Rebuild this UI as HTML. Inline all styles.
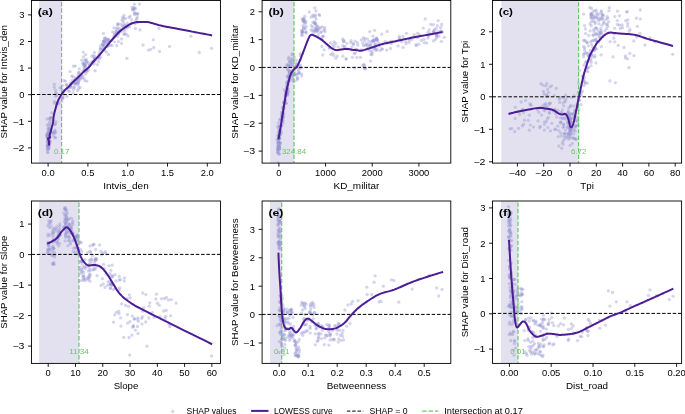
<!DOCTYPE html>
<html><head><meta charset="utf-8"><style>
html,body{margin:0;padding:0;background:#fff;}
svg{display:block;font-family:"Liberation Sans", sans-serif;will-change:transform;}
</style></head><body>
<svg width="685" height="414" viewBox="0 0 685 414">
<rect width="685" height="414" fill="#fff"/>
<clipPath id="ca"><rect x="31.5" y="0.5" width="189.0" height="162.6"/></clipPath>
<g clip-path="url(#ca)">
<rect x="39.1" y="0.5" width="22.5" height="162.6" fill="#e3e0ef"/>
<circle cx="48.2" cy="143.1" r="1.65" fill="#9696d2" fill-opacity="0.4"/>
<circle cx="48.2" cy="136.5" r="1.65" fill="#9696d2" fill-opacity="0.4"/>
<circle cx="47.7" cy="137.3" r="1.65" fill="#9696d2" fill-opacity="0.4"/>
<circle cx="49.2" cy="142.4" r="1.65" fill="#9696d2" fill-opacity="0.4"/>
<circle cx="49.1" cy="141.0" r="1.65" fill="#9696d2" fill-opacity="0.4"/>
<circle cx="48.7" cy="140.5" r="1.65" fill="#9696d2" fill-opacity="0.4"/>
<circle cx="47.2" cy="145.8" r="1.65" fill="#9696d2" fill-opacity="0.4"/>
<circle cx="48.8" cy="143.0" r="1.65" fill="#9696d2" fill-opacity="0.4"/>
<circle cx="47.2" cy="125.0" r="1.65" fill="#9696d2" fill-opacity="0.4"/>
<circle cx="47.8" cy="135.3" r="1.65" fill="#9696d2" fill-opacity="0.4"/>
<circle cx="48.6" cy="138.6" r="1.65" fill="#9696d2" fill-opacity="0.4"/>
<circle cx="48.8" cy="133.9" r="1.65" fill="#9696d2" fill-opacity="0.4"/>
<circle cx="48.6" cy="142.2" r="1.65" fill="#9696d2" fill-opacity="0.4"/>
<circle cx="47.9" cy="152.7" r="1.65" fill="#9696d2" fill-opacity="0.4"/>
<circle cx="48.8" cy="148.6" r="1.65" fill="#9696d2" fill-opacity="0.4"/>
<circle cx="48.0" cy="133.1" r="1.65" fill="#9696d2" fill-opacity="0.4"/>
<circle cx="48.2" cy="138.1" r="1.65" fill="#9696d2" fill-opacity="0.4"/>
<circle cx="48.8" cy="141.0" r="1.65" fill="#9696d2" fill-opacity="0.4"/>
<circle cx="48.1" cy="131.3" r="1.65" fill="#9696d2" fill-opacity="0.4"/>
<circle cx="48.0" cy="148.8" r="1.65" fill="#9696d2" fill-opacity="0.4"/>
<circle cx="47.8" cy="141.0" r="1.65" fill="#9696d2" fill-opacity="0.4"/>
<circle cx="48.7" cy="127.1" r="1.65" fill="#9696d2" fill-opacity="0.4"/>
<circle cx="48.4" cy="149.4" r="1.65" fill="#9696d2" fill-opacity="0.4"/>
<circle cx="47.0" cy="136.4" r="1.65" fill="#9696d2" fill-opacity="0.4"/>
<circle cx="48.3" cy="132.5" r="1.65" fill="#9696d2" fill-opacity="0.4"/>
<circle cx="48.7" cy="138.5" r="1.65" fill="#9696d2" fill-opacity="0.4"/>
<circle cx="47.4" cy="145.6" r="1.65" fill="#9696d2" fill-opacity="0.4"/>
<circle cx="48.9" cy="146.6" r="1.65" fill="#9696d2" fill-opacity="0.4"/>
<circle cx="49.4" cy="141.9" r="1.65" fill="#9696d2" fill-opacity="0.4"/>
<circle cx="48.5" cy="128.6" r="1.65" fill="#9696d2" fill-opacity="0.4"/>
<circle cx="48.8" cy="134.1" r="1.65" fill="#9696d2" fill-opacity="0.4"/>
<circle cx="48.1" cy="128.9" r="1.65" fill="#9696d2" fill-opacity="0.4"/>
<circle cx="47.7" cy="134.8" r="1.65" fill="#9696d2" fill-opacity="0.4"/>
<circle cx="49.3" cy="122.7" r="1.65" fill="#9696d2" fill-opacity="0.4"/>
<circle cx="47.4" cy="140.9" r="1.65" fill="#9696d2" fill-opacity="0.4"/>
<circle cx="49.4" cy="143.6" r="1.65" fill="#9696d2" fill-opacity="0.4"/>
<circle cx="47.1" cy="118.9" r="1.65" fill="#9696d2" fill-opacity="0.4"/>
<circle cx="48.7" cy="133.1" r="1.65" fill="#9696d2" fill-opacity="0.4"/>
<circle cx="47.6" cy="146.8" r="1.65" fill="#9696d2" fill-opacity="0.4"/>
<circle cx="49.2" cy="140.3" r="1.65" fill="#9696d2" fill-opacity="0.4"/>
<circle cx="48.6" cy="142.5" r="1.65" fill="#9696d2" fill-opacity="0.4"/>
<circle cx="49.5" cy="144.0" r="1.65" fill="#9696d2" fill-opacity="0.4"/>
<circle cx="48.8" cy="143.4" r="1.65" fill="#9696d2" fill-opacity="0.4"/>
<circle cx="47.3" cy="149.3" r="1.65" fill="#9696d2" fill-opacity="0.4"/>
<circle cx="49.1" cy="143.2" r="1.65" fill="#9696d2" fill-opacity="0.4"/>
<circle cx="47.0" cy="133.9" r="1.65" fill="#9696d2" fill-opacity="0.4"/>
<circle cx="49.0" cy="124.5" r="1.65" fill="#9696d2" fill-opacity="0.4"/>
<circle cx="48.3" cy="147.2" r="1.65" fill="#9696d2" fill-opacity="0.4"/>
<circle cx="47.5" cy="151.9" r="1.65" fill="#9696d2" fill-opacity="0.4"/>
<circle cx="48.8" cy="137.8" r="1.65" fill="#9696d2" fill-opacity="0.4"/>
<circle cx="48.6" cy="144.2" r="1.65" fill="#9696d2" fill-opacity="0.4"/>
<circle cx="48.5" cy="148.2" r="1.65" fill="#9696d2" fill-opacity="0.4"/>
<circle cx="47.9" cy="135.7" r="1.65" fill="#9696d2" fill-opacity="0.4"/>
<circle cx="49.1" cy="139.2" r="1.65" fill="#9696d2" fill-opacity="0.4"/>
<circle cx="47.8" cy="146.6" r="1.65" fill="#9696d2" fill-opacity="0.4"/>
<circle cx="49.4" cy="135.4" r="1.65" fill="#9696d2" fill-opacity="0.4"/>
<circle cx="47.4" cy="137.9" r="1.65" fill="#9696d2" fill-opacity="0.4"/>
<circle cx="48.3" cy="136.6" r="1.65" fill="#9696d2" fill-opacity="0.4"/>
<circle cx="49.4" cy="130.8" r="1.65" fill="#9696d2" fill-opacity="0.4"/>
<circle cx="49.3" cy="128.9" r="1.65" fill="#9696d2" fill-opacity="0.4"/>
<circle cx="47.8" cy="144.1" r="1.65" fill="#9696d2" fill-opacity="0.4"/>
<circle cx="49.2" cy="145.9" r="1.65" fill="#9696d2" fill-opacity="0.4"/>
<circle cx="48.6" cy="140.1" r="1.65" fill="#9696d2" fill-opacity="0.4"/>
<circle cx="48.5" cy="143.6" r="1.65" fill="#9696d2" fill-opacity="0.4"/>
<circle cx="48.3" cy="141.2" r="1.65" fill="#9696d2" fill-opacity="0.4"/>
<circle cx="48.8" cy="139.0" r="1.65" fill="#9696d2" fill-opacity="0.4"/>
<circle cx="48.9" cy="143.5" r="1.65" fill="#9696d2" fill-opacity="0.4"/>
<circle cx="49.8" cy="141.6" r="1.65" fill="#9696d2" fill-opacity="0.4"/>
<circle cx="48.1" cy="136.0" r="1.65" fill="#9696d2" fill-opacity="0.4"/>
<circle cx="48.4" cy="146.4" r="1.65" fill="#9696d2" fill-opacity="0.4"/>
<circle cx="48.2" cy="142.1" r="1.65" fill="#9696d2" fill-opacity="0.4"/>
<circle cx="49.7" cy="118.5" r="1.65" fill="#9696d2" fill-opacity="0.4"/>
<circle cx="47.6" cy="141.0" r="1.65" fill="#9696d2" fill-opacity="0.4"/>
<circle cx="48.7" cy="140.9" r="1.65" fill="#9696d2" fill-opacity="0.4"/>
<circle cx="48.1" cy="144.2" r="1.65" fill="#9696d2" fill-opacity="0.4"/>
<circle cx="48.6" cy="134.8" r="1.65" fill="#9696d2" fill-opacity="0.4"/>
<circle cx="50.1" cy="141.8" r="1.65" fill="#9696d2" fill-opacity="0.4"/>
<circle cx="48.0" cy="138.2" r="1.65" fill="#9696d2" fill-opacity="0.4"/>
<circle cx="48.2" cy="138.5" r="1.65" fill="#9696d2" fill-opacity="0.4"/>
<circle cx="46.5" cy="135.1" r="1.65" fill="#9696d2" fill-opacity="0.4"/>
<circle cx="55.1" cy="130.1" r="1.65" fill="#9696d2" fill-opacity="0.4"/>
<circle cx="51.0" cy="121.5" r="1.65" fill="#9696d2" fill-opacity="0.4"/>
<circle cx="50.4" cy="132.1" r="1.65" fill="#9696d2" fill-opacity="0.4"/>
<circle cx="52.9" cy="132.3" r="1.65" fill="#9696d2" fill-opacity="0.4"/>
<circle cx="51.5" cy="117.8" r="1.65" fill="#9696d2" fill-opacity="0.4"/>
<circle cx="54.7" cy="137.6" r="1.65" fill="#9696d2" fill-opacity="0.4"/>
<circle cx="55.0" cy="133.0" r="1.65" fill="#9696d2" fill-opacity="0.4"/>
<circle cx="54.8" cy="131.2" r="1.65" fill="#9696d2" fill-opacity="0.4"/>
<circle cx="50.8" cy="125.5" r="1.65" fill="#9696d2" fill-opacity="0.4"/>
<circle cx="51.7" cy="112.8" r="1.65" fill="#9696d2" fill-opacity="0.4"/>
<circle cx="49.5" cy="119.3" r="1.65" fill="#9696d2" fill-opacity="0.4"/>
<circle cx="51.0" cy="130.0" r="1.65" fill="#9696d2" fill-opacity="0.4"/>
<circle cx="55.7" cy="123.6" r="1.65" fill="#9696d2" fill-opacity="0.4"/>
<circle cx="55.6" cy="137.7" r="1.65" fill="#9696d2" fill-opacity="0.4"/>
<circle cx="55.7" cy="121.5" r="1.65" fill="#9696d2" fill-opacity="0.4"/>
<circle cx="50.8" cy="117.9" r="1.65" fill="#9696d2" fill-opacity="0.4"/>
<circle cx="50.6" cy="117.3" r="1.65" fill="#9696d2" fill-opacity="0.4"/>
<circle cx="53.5" cy="135.4" r="1.65" fill="#9696d2" fill-opacity="0.4"/>
<circle cx="54.9" cy="124.5" r="1.65" fill="#9696d2" fill-opacity="0.4"/>
<circle cx="53.7" cy="132.8" r="1.65" fill="#9696d2" fill-opacity="0.4"/>
<circle cx="49.9" cy="129.2" r="1.65" fill="#9696d2" fill-opacity="0.4"/>
<circle cx="55.4" cy="132.3" r="1.65" fill="#9696d2" fill-opacity="0.4"/>
<circle cx="54.3" cy="124.4" r="1.65" fill="#9696d2" fill-opacity="0.4"/>
<circle cx="50.5" cy="132.5" r="1.65" fill="#9696d2" fill-opacity="0.4"/>
<circle cx="51.5" cy="132.8" r="1.65" fill="#9696d2" fill-opacity="0.4"/>
<circle cx="62.7" cy="92.3" r="1.65" fill="#9696d2" fill-opacity="0.4"/>
<circle cx="57.0" cy="103.9" r="1.65" fill="#9696d2" fill-opacity="0.4"/>
<circle cx="60.2" cy="87.6" r="1.65" fill="#9696d2" fill-opacity="0.4"/>
<circle cx="54.3" cy="87.2" r="1.65" fill="#9696d2" fill-opacity="0.4"/>
<circle cx="62.0" cy="100.9" r="1.65" fill="#9696d2" fill-opacity="0.4"/>
<circle cx="54.5" cy="101.4" r="1.65" fill="#9696d2" fill-opacity="0.4"/>
<circle cx="62.8" cy="97.8" r="1.65" fill="#9696d2" fill-opacity="0.4"/>
<circle cx="56.5" cy="95.5" r="1.65" fill="#9696d2" fill-opacity="0.4"/>
<circle cx="54.3" cy="84.3" r="1.65" fill="#9696d2" fill-opacity="0.4"/>
<circle cx="62.7" cy="97.6" r="1.65" fill="#9696d2" fill-opacity="0.4"/>
<circle cx="58.3" cy="103.6" r="1.65" fill="#9696d2" fill-opacity="0.4"/>
<circle cx="57.3" cy="102.3" r="1.65" fill="#9696d2" fill-opacity="0.4"/>
<circle cx="61.3" cy="88.4" r="1.65" fill="#9696d2" fill-opacity="0.4"/>
<circle cx="55.5" cy="90.2" r="1.65" fill="#9696d2" fill-opacity="0.4"/>
<circle cx="55.4" cy="96.3" r="1.65" fill="#9696d2" fill-opacity="0.4"/>
<circle cx="55.6" cy="92.8" r="1.65" fill="#9696d2" fill-opacity="0.4"/>
<circle cx="54.3" cy="103.1" r="1.65" fill="#9696d2" fill-opacity="0.4"/>
<circle cx="56.5" cy="93.6" r="1.65" fill="#9696d2" fill-opacity="0.4"/>
<circle cx="58.8" cy="103.0" r="1.65" fill="#9696d2" fill-opacity="0.4"/>
<circle cx="57.2" cy="103.3" r="1.65" fill="#9696d2" fill-opacity="0.4"/>
<circle cx="94.4" cy="58.5" r="1.65" fill="#9696d2" fill-opacity="0.4"/>
<circle cx="62.9" cy="93.3" r="1.65" fill="#9696d2" fill-opacity="0.4"/>
<circle cx="62.4" cy="90.6" r="1.65" fill="#9696d2" fill-opacity="0.4"/>
<circle cx="93.1" cy="55.4" r="1.65" fill="#9696d2" fill-opacity="0.4"/>
<circle cx="82.8" cy="71.2" r="1.65" fill="#9696d2" fill-opacity="0.4"/>
<circle cx="114.4" cy="41.8" r="1.65" fill="#9696d2" fill-opacity="0.4"/>
<circle cx="78.2" cy="85.5" r="1.65" fill="#9696d2" fill-opacity="0.4"/>
<circle cx="94.6" cy="56.1" r="1.65" fill="#9696d2" fill-opacity="0.4"/>
<circle cx="121.4" cy="31.8" r="1.65" fill="#9696d2" fill-opacity="0.4"/>
<circle cx="94.4" cy="58.9" r="1.65" fill="#9696d2" fill-opacity="0.4"/>
<circle cx="91.2" cy="62.3" r="1.65" fill="#9696d2" fill-opacity="0.4"/>
<circle cx="123.8" cy="18.3" r="1.65" fill="#9696d2" fill-opacity="0.4"/>
<circle cx="124.1" cy="34.4" r="1.65" fill="#9696d2" fill-opacity="0.4"/>
<circle cx="124.4" cy="25.6" r="1.65" fill="#9696d2" fill-opacity="0.4"/>
<circle cx="69.8" cy="86.0" r="1.65" fill="#9696d2" fill-opacity="0.4"/>
<circle cx="78.7" cy="80.8" r="1.65" fill="#9696d2" fill-opacity="0.4"/>
<circle cx="114.0" cy="36.2" r="1.65" fill="#9696d2" fill-opacity="0.4"/>
<circle cx="109.1" cy="40.7" r="1.65" fill="#9696d2" fill-opacity="0.4"/>
<circle cx="120.7" cy="30.2" r="1.65" fill="#9696d2" fill-opacity="0.4"/>
<circle cx="124.3" cy="31.0" r="1.65" fill="#9696d2" fill-opacity="0.4"/>
<circle cx="127.5" cy="23.3" r="1.65" fill="#9696d2" fill-opacity="0.4"/>
<circle cx="89.9" cy="65.0" r="1.65" fill="#9696d2" fill-opacity="0.4"/>
<circle cx="74.5" cy="87.5" r="1.65" fill="#9696d2" fill-opacity="0.4"/>
<circle cx="62.7" cy="90.3" r="1.65" fill="#9696d2" fill-opacity="0.4"/>
<circle cx="62.8" cy="98.3" r="1.65" fill="#9696d2" fill-opacity="0.4"/>
<circle cx="97.4" cy="64.7" r="1.65" fill="#9696d2" fill-opacity="0.4"/>
<circle cx="114.3" cy="37.2" r="1.65" fill="#9696d2" fill-opacity="0.4"/>
<circle cx="80.5" cy="78.0" r="1.65" fill="#9696d2" fill-opacity="0.4"/>
<circle cx="80.3" cy="79.4" r="1.65" fill="#9696d2" fill-opacity="0.4"/>
<circle cx="122.3" cy="25.9" r="1.65" fill="#9696d2" fill-opacity="0.4"/>
<circle cx="72.5" cy="80.1" r="1.65" fill="#9696d2" fill-opacity="0.4"/>
<circle cx="108.4" cy="45.2" r="1.65" fill="#9696d2" fill-opacity="0.4"/>
<circle cx="107.2" cy="46.2" r="1.65" fill="#9696d2" fill-opacity="0.4"/>
<circle cx="123.2" cy="21.4" r="1.65" fill="#9696d2" fill-opacity="0.4"/>
<circle cx="67.7" cy="86.3" r="1.65" fill="#9696d2" fill-opacity="0.4"/>
<circle cx="118.4" cy="33.4" r="1.65" fill="#9696d2" fill-opacity="0.4"/>
<circle cx="98.9" cy="54.4" r="1.65" fill="#9696d2" fill-opacity="0.4"/>
<circle cx="70.1" cy="84.1" r="1.65" fill="#9696d2" fill-opacity="0.4"/>
<circle cx="69.3" cy="87.5" r="1.65" fill="#9696d2" fill-opacity="0.4"/>
<circle cx="75.1" cy="83.8" r="1.65" fill="#9696d2" fill-opacity="0.4"/>
<circle cx="112.0" cy="45.4" r="1.65" fill="#9696d2" fill-opacity="0.4"/>
<circle cx="73.7" cy="82.1" r="1.65" fill="#9696d2" fill-opacity="0.4"/>
<circle cx="79.5" cy="77.7" r="1.65" fill="#9696d2" fill-opacity="0.4"/>
<circle cx="98.6" cy="61.5" r="1.65" fill="#9696d2" fill-opacity="0.4"/>
<circle cx="124.6" cy="34.0" r="1.65" fill="#9696d2" fill-opacity="0.4"/>
<circle cx="89.4" cy="65.6" r="1.65" fill="#9696d2" fill-opacity="0.4"/>
<circle cx="87.0" cy="67.8" r="1.65" fill="#9696d2" fill-opacity="0.4"/>
<circle cx="126.2" cy="34.1" r="1.65" fill="#9696d2" fill-opacity="0.4"/>
<circle cx="108.2" cy="40.0" r="1.65" fill="#9696d2" fill-opacity="0.4"/>
<circle cx="85.2" cy="71.5" r="1.65" fill="#9696d2" fill-opacity="0.4"/>
<circle cx="66.6" cy="84.6" r="1.65" fill="#9696d2" fill-opacity="0.4"/>
<circle cx="73.8" cy="87.1" r="1.65" fill="#9696d2" fill-opacity="0.4"/>
<circle cx="119.2" cy="28.1" r="1.65" fill="#9696d2" fill-opacity="0.4"/>
<circle cx="77.8" cy="82.8" r="1.65" fill="#9696d2" fill-opacity="0.4"/>
<circle cx="72.0" cy="83.9" r="1.65" fill="#9696d2" fill-opacity="0.4"/>
<circle cx="126.2" cy="26.0" r="1.65" fill="#9696d2" fill-opacity="0.4"/>
<circle cx="78.6" cy="76.4" r="1.65" fill="#9696d2" fill-opacity="0.4"/>
<circle cx="86.1" cy="70.2" r="1.65" fill="#9696d2" fill-opacity="0.4"/>
<circle cx="92.9" cy="61.6" r="1.65" fill="#9696d2" fill-opacity="0.4"/>
<circle cx="95.8" cy="59.7" r="1.65" fill="#9696d2" fill-opacity="0.4"/>
<circle cx="67.8" cy="88.3" r="1.65" fill="#9696d2" fill-opacity="0.4"/>
<circle cx="63.3" cy="95.3" r="1.65" fill="#9696d2" fill-opacity="0.4"/>
<circle cx="99.7" cy="52.1" r="1.65" fill="#9696d2" fill-opacity="0.4"/>
<circle cx="105.1" cy="37.8" r="1.65" fill="#9696d2" fill-opacity="0.4"/>
<circle cx="86.9" cy="81.1" r="1.65" fill="#9696d2" fill-opacity="0.4"/>
<circle cx="71.7" cy="76.1" r="1.65" fill="#9696d2" fill-opacity="0.4"/>
<circle cx="65.5" cy="81.1" r="1.65" fill="#9696d2" fill-opacity="0.4"/>
<circle cx="103.3" cy="41.1" r="1.65" fill="#9696d2" fill-opacity="0.4"/>
<circle cx="70.5" cy="83.1" r="1.65" fill="#9696d2" fill-opacity="0.4"/>
<circle cx="117.5" cy="25.3" r="1.65" fill="#9696d2" fill-opacity="0.4"/>
<circle cx="101.3" cy="49.0" r="1.65" fill="#9696d2" fill-opacity="0.4"/>
<circle cx="107.8" cy="46.1" r="1.65" fill="#9696d2" fill-opacity="0.4"/>
<circle cx="70.6" cy="86.2" r="1.65" fill="#9696d2" fill-opacity="0.4"/>
<circle cx="116.4" cy="31.5" r="1.65" fill="#9696d2" fill-opacity="0.4"/>
<circle cx="103.0" cy="45.1" r="1.65" fill="#9696d2" fill-opacity="0.4"/>
<circle cx="62.5" cy="85.6" r="1.65" fill="#9696d2" fill-opacity="0.4"/>
<circle cx="94.3" cy="58.1" r="1.65" fill="#9696d2" fill-opacity="0.4"/>
<circle cx="66.3" cy="84.9" r="1.65" fill="#9696d2" fill-opacity="0.4"/>
<circle cx="66.8" cy="96.3" r="1.65" fill="#9696d2" fill-opacity="0.4"/>
<circle cx="75.4" cy="66.1" r="1.65" fill="#9696d2" fill-opacity="0.4"/>
<circle cx="94.1" cy="64.1" r="1.65" fill="#9696d2" fill-opacity="0.4"/>
<circle cx="107.2" cy="38.8" r="1.65" fill="#9696d2" fill-opacity="0.4"/>
<circle cx="104.7" cy="50.3" r="1.65" fill="#9696d2" fill-opacity="0.4"/>
<circle cx="78.7" cy="72.4" r="1.65" fill="#9696d2" fill-opacity="0.4"/>
<circle cx="99.7" cy="55.1" r="1.65" fill="#9696d2" fill-opacity="0.4"/>
<circle cx="79.3" cy="68.9" r="1.65" fill="#9696d2" fill-opacity="0.4"/>
<circle cx="106.4" cy="52.2" r="1.65" fill="#9696d2" fill-opacity="0.4"/>
<circle cx="92.4" cy="62.9" r="1.65" fill="#9696d2" fill-opacity="0.4"/>
<circle cx="121.5" cy="43.4" r="1.65" fill="#9696d2" fill-opacity="0.4"/>
<circle cx="124.5" cy="28.9" r="1.65" fill="#9696d2" fill-opacity="0.4"/>
<circle cx="116.8" cy="34.1" r="1.65" fill="#9696d2" fill-opacity="0.4"/>
<circle cx="80.1" cy="87.4" r="1.65" fill="#9696d2" fill-opacity="0.4"/>
<circle cx="75.6" cy="78.0" r="1.65" fill="#9696d2" fill-opacity="0.4"/>
<circle cx="96.9" cy="57.5" r="1.65" fill="#9696d2" fill-opacity="0.4"/>
<circle cx="114.9" cy="34.6" r="1.65" fill="#9696d2" fill-opacity="0.4"/>
<circle cx="108.6" cy="54.7" r="1.65" fill="#9696d2" fill-opacity="0.4"/>
<circle cx="94.1" cy="60.9" r="1.65" fill="#9696d2" fill-opacity="0.4"/>
<circle cx="94.0" cy="61.7" r="1.65" fill="#9696d2" fill-opacity="0.4"/>
<circle cx="71.0" cy="87.5" r="1.65" fill="#9696d2" fill-opacity="0.4"/>
<circle cx="118.5" cy="33.8" r="1.65" fill="#9696d2" fill-opacity="0.4"/>
<circle cx="118.4" cy="41.6" r="1.65" fill="#9696d2" fill-opacity="0.4"/>
<circle cx="109.5" cy="40.9" r="1.65" fill="#9696d2" fill-opacity="0.4"/>
<circle cx="84.8" cy="80.7" r="1.65" fill="#9696d2" fill-opacity="0.4"/>
<circle cx="100.5" cy="57.3" r="1.65" fill="#9696d2" fill-opacity="0.4"/>
<circle cx="80.4" cy="75.9" r="1.65" fill="#9696d2" fill-opacity="0.4"/>
<circle cx="116.8" cy="45.6" r="1.65" fill="#9696d2" fill-opacity="0.4"/>
<circle cx="78.4" cy="82.9" r="1.65" fill="#9696d2" fill-opacity="0.4"/>
<circle cx="73.5" cy="89.5" r="1.65" fill="#9696d2" fill-opacity="0.4"/>
<circle cx="120.7" cy="24.3" r="1.65" fill="#9696d2" fill-opacity="0.4"/>
<circle cx="123.0" cy="27.0" r="1.65" fill="#9696d2" fill-opacity="0.4"/>
<circle cx="110.4" cy="45.3" r="1.65" fill="#9696d2" fill-opacity="0.4"/>
<circle cx="91.8" cy="56.4" r="1.65" fill="#9696d2" fill-opacity="0.4"/>
<circle cx="82.2" cy="77.9" r="1.65" fill="#9696d2" fill-opacity="0.4"/>
<circle cx="69.9" cy="85.7" r="1.65" fill="#9696d2" fill-opacity="0.4"/>
<circle cx="81.5" cy="60.1" r="1.65" fill="#9696d2" fill-opacity="0.4"/>
<circle cx="78.9" cy="72.7" r="1.65" fill="#9696d2" fill-opacity="0.4"/>
<circle cx="98.5" cy="57.7" r="1.65" fill="#9696d2" fill-opacity="0.4"/>
<circle cx="73.0" cy="92.8" r="1.65" fill="#9696d2" fill-opacity="0.4"/>
<circle cx="95.1" cy="70.7" r="1.65" fill="#9696d2" fill-opacity="0.4"/>
<circle cx="127.5" cy="26.5" r="1.65" fill="#9696d2" fill-opacity="0.4"/>
<circle cx="75.2" cy="82.9" r="1.65" fill="#9696d2" fill-opacity="0.4"/>
<circle cx="68.0" cy="91.2" r="1.65" fill="#9696d2" fill-opacity="0.4"/>
<circle cx="100.4" cy="49.4" r="1.65" fill="#9696d2" fill-opacity="0.4"/>
<circle cx="88.6" cy="70.0" r="1.65" fill="#9696d2" fill-opacity="0.4"/>
<circle cx="86.8" cy="70.5" r="1.65" fill="#9696d2" fill-opacity="0.4"/>
<circle cx="80.6" cy="74.5" r="1.65" fill="#9696d2" fill-opacity="0.4"/>
<circle cx="94.4" cy="52.4" r="1.65" fill="#9696d2" fill-opacity="0.4"/>
<circle cx="76.2" cy="82.8" r="1.65" fill="#9696d2" fill-opacity="0.4"/>
<circle cx="87.0" cy="71.8" r="1.65" fill="#9696d2" fill-opacity="0.4"/>
<circle cx="118.1" cy="32.4" r="1.65" fill="#9696d2" fill-opacity="0.4"/>
<circle cx="63.8" cy="80.7" r="1.65" fill="#9696d2" fill-opacity="0.4"/>
<circle cx="93.2" cy="61.7" r="1.65" fill="#9696d2" fill-opacity="0.4"/>
<circle cx="88.8" cy="64.0" r="1.65" fill="#9696d2" fill-opacity="0.4"/>
<circle cx="118.9" cy="32.0" r="1.65" fill="#9696d2" fill-opacity="0.4"/>
<circle cx="69.6" cy="91.2" r="1.65" fill="#9696d2" fill-opacity="0.4"/>
<circle cx="107.9" cy="42.9" r="1.65" fill="#9696d2" fill-opacity="0.4"/>
<circle cx="104.8" cy="43.1" r="1.65" fill="#9696d2" fill-opacity="0.4"/>
<circle cx="99.4" cy="58.4" r="1.65" fill="#9696d2" fill-opacity="0.4"/>
<circle cx="78.1" cy="74.6" r="1.65" fill="#9696d2" fill-opacity="0.4"/>
<circle cx="82.4" cy="76.1" r="1.65" fill="#9696d2" fill-opacity="0.4"/>
<circle cx="83.5" cy="57.0" r="1.65" fill="#9696d2" fill-opacity="0.4"/>
<circle cx="85.4" cy="65.5" r="1.65" fill="#9696d2" fill-opacity="0.4"/>
<circle cx="83.0" cy="62.8" r="1.65" fill="#9696d2" fill-opacity="0.4"/>
<circle cx="84.2" cy="66.8" r="1.65" fill="#9696d2" fill-opacity="0.4"/>
<circle cx="84.8" cy="63.5" r="1.65" fill="#9696d2" fill-opacity="0.4"/>
<circle cx="84.5" cy="70.3" r="1.65" fill="#9696d2" fill-opacity="0.4"/>
<circle cx="87.1" cy="61.8" r="1.65" fill="#9696d2" fill-opacity="0.4"/>
<circle cx="86.3" cy="59.5" r="1.65" fill="#9696d2" fill-opacity="0.4"/>
<circle cx="85.1" cy="68.5" r="1.65" fill="#9696d2" fill-opacity="0.4"/>
<circle cx="87.3" cy="61.7" r="1.65" fill="#9696d2" fill-opacity="0.4"/>
<circle cx="84.9" cy="65.2" r="1.65" fill="#9696d2" fill-opacity="0.4"/>
<circle cx="82.8" cy="64.1" r="1.65" fill="#9696d2" fill-opacity="0.4"/>
<circle cx="84.0" cy="66.2" r="1.65" fill="#9696d2" fill-opacity="0.4"/>
<circle cx="83.3" cy="52.1" r="1.65" fill="#9696d2" fill-opacity="0.4"/>
<circle cx="85.1" cy="65.6" r="1.65" fill="#9696d2" fill-opacity="0.4"/>
<circle cx="84.2" cy="69.3" r="1.65" fill="#9696d2" fill-opacity="0.4"/>
<circle cx="84.6" cy="60.4" r="1.65" fill="#9696d2" fill-opacity="0.4"/>
<circle cx="85.7" cy="54.6" r="1.65" fill="#9696d2" fill-opacity="0.4"/>
<circle cx="84.0" cy="63.9" r="1.65" fill="#9696d2" fill-opacity="0.4"/>
<circle cx="86.3" cy="63.0" r="1.65" fill="#9696d2" fill-opacity="0.4"/>
<circle cx="85.5" cy="60.1" r="1.65" fill="#9696d2" fill-opacity="0.4"/>
<circle cx="85.5" cy="74.0" r="1.65" fill="#9696d2" fill-opacity="0.4"/>
<circle cx="84.0" cy="78.2" r="1.65" fill="#9696d2" fill-opacity="0.4"/>
<circle cx="84.0" cy="64.1" r="1.65" fill="#9696d2" fill-opacity="0.4"/>
<circle cx="75.7" cy="84.1" r="1.65" fill="#9696d2" fill-opacity="0.4"/>
<circle cx="70.1" cy="71.6" r="1.65" fill="#9696d2" fill-opacity="0.4"/>
<circle cx="77.4" cy="83.2" r="1.65" fill="#9696d2" fill-opacity="0.4"/>
<circle cx="77.5" cy="90.5" r="1.65" fill="#9696d2" fill-opacity="0.4"/>
<circle cx="75.8" cy="81.0" r="1.65" fill="#9696d2" fill-opacity="0.4"/>
<circle cx="78.7" cy="81.5" r="1.65" fill="#9696d2" fill-opacity="0.4"/>
<circle cx="81.7" cy="75.0" r="1.65" fill="#9696d2" fill-opacity="0.4"/>
<circle cx="73.5" cy="66.2" r="1.65" fill="#9696d2" fill-opacity="0.4"/>
<circle cx="78.2" cy="78.5" r="1.65" fill="#9696d2" fill-opacity="0.4"/>
<circle cx="78.7" cy="88.6" r="1.65" fill="#9696d2" fill-opacity="0.4"/>
<circle cx="75.0" cy="79.0" r="1.65" fill="#9696d2" fill-opacity="0.4"/>
<circle cx="73.0" cy="76.6" r="1.65" fill="#9696d2" fill-opacity="0.4"/>
<circle cx="72.5" cy="82.6" r="1.65" fill="#9696d2" fill-opacity="0.4"/>
<circle cx="75.1" cy="80.3" r="1.65" fill="#9696d2" fill-opacity="0.4"/>
<circle cx="74.3" cy="83.7" r="1.65" fill="#9696d2" fill-opacity="0.4"/>
<circle cx="77.0" cy="79.4" r="1.65" fill="#9696d2" fill-opacity="0.4"/>
<circle cx="77.7" cy="79.4" r="1.65" fill="#9696d2" fill-opacity="0.4"/>
<circle cx="70.4" cy="85.8" r="1.65" fill="#9696d2" fill-opacity="0.4"/>
<circle cx="104.4" cy="38.2" r="1.65" fill="#9696d2" fill-opacity="0.4"/>
<circle cx="105.7" cy="43.4" r="1.65" fill="#9696d2" fill-opacity="0.4"/>
<circle cx="100.4" cy="48.4" r="1.65" fill="#9696d2" fill-opacity="0.4"/>
<circle cx="104.2" cy="45.6" r="1.65" fill="#9696d2" fill-opacity="0.4"/>
<circle cx="103.9" cy="41.4" r="1.65" fill="#9696d2" fill-opacity="0.4"/>
<circle cx="100.4" cy="45.9" r="1.65" fill="#9696d2" fill-opacity="0.4"/>
<circle cx="103.6" cy="40.9" r="1.65" fill="#9696d2" fill-opacity="0.4"/>
<circle cx="104.2" cy="42.3" r="1.65" fill="#9696d2" fill-opacity="0.4"/>
<circle cx="104.9" cy="40.5" r="1.65" fill="#9696d2" fill-opacity="0.4"/>
<circle cx="103.4" cy="33.4" r="1.65" fill="#9696d2" fill-opacity="0.4"/>
<circle cx="102.7" cy="44.7" r="1.65" fill="#9696d2" fill-opacity="0.4"/>
<circle cx="106.2" cy="40.5" r="1.65" fill="#9696d2" fill-opacity="0.4"/>
<circle cx="103.3" cy="48.3" r="1.65" fill="#9696d2" fill-opacity="0.4"/>
<circle cx="102.8" cy="44.9" r="1.65" fill="#9696d2" fill-opacity="0.4"/>
<circle cx="106.9" cy="42.2" r="1.65" fill="#9696d2" fill-opacity="0.4"/>
<circle cx="106.0" cy="39.2" r="1.65" fill="#9696d2" fill-opacity="0.4"/>
<circle cx="103.9" cy="41.7" r="1.65" fill="#9696d2" fill-opacity="0.4"/>
<circle cx="103.7" cy="46.5" r="1.65" fill="#9696d2" fill-opacity="0.4"/>
<circle cx="108.3" cy="39.3" r="1.65" fill="#9696d2" fill-opacity="0.4"/>
<circle cx="102.3" cy="44.0" r="1.65" fill="#9696d2" fill-opacity="0.4"/>
<circle cx="112.8" cy="32.0" r="1.65" fill="#9696d2" fill-opacity="0.4"/>
<circle cx="117.7" cy="28.9" r="1.65" fill="#9696d2" fill-opacity="0.4"/>
<circle cx="117.6" cy="23.8" r="1.65" fill="#9696d2" fill-opacity="0.4"/>
<circle cx="118.3" cy="23.8" r="1.65" fill="#9696d2" fill-opacity="0.4"/>
<circle cx="113.9" cy="27.8" r="1.65" fill="#9696d2" fill-opacity="0.4"/>
<circle cx="114.8" cy="33.4" r="1.65" fill="#9696d2" fill-opacity="0.4"/>
<circle cx="116.2" cy="28.4" r="1.65" fill="#9696d2" fill-opacity="0.4"/>
<circle cx="117.6" cy="36.3" r="1.65" fill="#9696d2" fill-opacity="0.4"/>
<circle cx="116.0" cy="31.5" r="1.65" fill="#9696d2" fill-opacity="0.4"/>
<circle cx="119.7" cy="31.1" r="1.65" fill="#9696d2" fill-opacity="0.4"/>
<circle cx="131.7" cy="19.7" r="1.65" fill="#9696d2" fill-opacity="0.4"/>
<circle cx="139.4" cy="4.1" r="1.65" fill="#9696d2" fill-opacity="0.4"/>
<circle cx="134.4" cy="12.5" r="1.65" fill="#9696d2" fill-opacity="0.4"/>
<circle cx="136.6" cy="13.3" r="1.65" fill="#9696d2" fill-opacity="0.4"/>
<circle cx="133.9" cy="7.3" r="1.65" fill="#9696d2" fill-opacity="0.4"/>
<circle cx="134.7" cy="14.6" r="1.65" fill="#9696d2" fill-opacity="0.4"/>
<circle cx="132.1" cy="7.4" r="1.65" fill="#9696d2" fill-opacity="0.4"/>
<circle cx="134.4" cy="4.2" r="1.65" fill="#9696d2" fill-opacity="0.4"/>
<circle cx="133.9" cy="9.5" r="1.65" fill="#9696d2" fill-opacity="0.4"/>
<circle cx="135.5" cy="8.5" r="1.65" fill="#9696d2" fill-opacity="0.4"/>
<circle cx="132.6" cy="9.6" r="1.65" fill="#9696d2" fill-opacity="0.4"/>
<circle cx="134.4" cy="8.7" r="1.65" fill="#9696d2" fill-opacity="0.4"/>
<circle cx="134.5" cy="13.6" r="1.65" fill="#9696d2" fill-opacity="0.4"/>
<circle cx="137.1" cy="17.0" r="1.65" fill="#9696d2" fill-opacity="0.4"/>
<circle cx="132.8" cy="9.5" r="1.65" fill="#9696d2" fill-opacity="0.4"/>
<circle cx="129.0" cy="17.6" r="1.65" fill="#9696d2" fill-opacity="0.4"/>
<circle cx="130.1" cy="16.2" r="1.65" fill="#9696d2" fill-opacity="0.4"/>
<circle cx="134.9" cy="23.8" r="1.65" fill="#9696d2" fill-opacity="0.4"/>
<circle cx="137.9" cy="13.8" r="1.65" fill="#9696d2" fill-opacity="0.4"/>
<circle cx="129.6" cy="26.7" r="1.65" fill="#9696d2" fill-opacity="0.4"/>
<circle cx="135.4" cy="28.5" r="1.65" fill="#9696d2" fill-opacity="0.4"/>
<circle cx="122.6" cy="17.3" r="1.65" fill="#9696d2" fill-opacity="0.4"/>
<circle cx="123.9" cy="15.4" r="1.65" fill="#9696d2" fill-opacity="0.4"/>
<circle cx="137.6" cy="22.5" r="1.65" fill="#9696d2" fill-opacity="0.4"/>
<circle cx="136.9" cy="18.7" r="1.65" fill="#9696d2" fill-opacity="0.4"/>
<circle cx="135.9" cy="20.1" r="1.65" fill="#9696d2" fill-opacity="0.4"/>
<circle cx="126.2" cy="26.0" r="1.65" fill="#9696d2" fill-opacity="0.4"/>
<circle cx="137.1" cy="13.9" r="1.65" fill="#9696d2" fill-opacity="0.4"/>
<circle cx="131.5" cy="23.2" r="1.65" fill="#9696d2" fill-opacity="0.4"/>
<circle cx="125.5" cy="18.6" r="1.65" fill="#9696d2" fill-opacity="0.4"/>
<circle cx="121.6" cy="39.0" r="1.65" fill="#9696d2" fill-opacity="0.4"/>
<circle cx="126.9" cy="58.4" r="1.65" fill="#9696d2" fill-opacity="0.4"/>
<circle cx="148.3" cy="50.1" r="1.65" fill="#9696d2" fill-opacity="0.4"/>
<circle cx="150.7" cy="49.5" r="1.65" fill="#9696d2" fill-opacity="0.4"/>
<circle cx="153.7" cy="47.5" r="1.65" fill="#9696d2" fill-opacity="0.4"/>
<circle cx="153.3" cy="39.8" r="1.65" fill="#9696d2" fill-opacity="0.4"/>
<circle cx="159.6" cy="51.5" r="1.65" fill="#9696d2" fill-opacity="0.4"/>
<circle cx="159.0" cy="28.3" r="1.65" fill="#9696d2" fill-opacity="0.4"/>
<circle cx="169.5" cy="46.5" r="1.65" fill="#9696d2" fill-opacity="0.4"/>
<circle cx="190.9" cy="36.2" r="1.65" fill="#9696d2" fill-opacity="0.4"/>
<circle cx="199.2" cy="52.5" r="1.65" fill="#9696d2" fill-opacity="0.4"/>
<circle cx="211.5" cy="48.3" r="1.65" fill="#9696d2" fill-opacity="0.4"/>
<circle cx="140.0" cy="30.0" r="1.65" fill="#9696d2" fill-opacity="0.4"/>
<circle cx="143.0" cy="45.0" r="1.65" fill="#9696d2" fill-opacity="0.4"/>
<circle cx="122.0" cy="20.0" r="1.65" fill="#9696d2" fill-opacity="0.4"/>
<circle cx="124.0" cy="24.0" r="1.65" fill="#9696d2" fill-opacity="0.4"/>
<circle cx="128.0" cy="36.0" r="1.65" fill="#9696d2" fill-opacity="0.4"/>
<circle cx="127.0" cy="28.0" r="1.65" fill="#9696d2" fill-opacity="0.4"/>
<line x1="31.50" y1="94.50" x2="220.50" y2="94.50" stroke="#000" stroke-width="1.0" stroke-dasharray="3.5,1.8" stroke-dashoffset="0" stroke-linecap="butt"/>
<line x1="61.60" y1="0.50" x2="61.60" y2="163.10" stroke="#6cc46c" stroke-width="1.2" stroke-dasharray="4.44,1.92" stroke-dashoffset="4.88" stroke-linecap="butt"/>
<path d="M49.00,145.60 L49.00,145.23 L49.00,144.72 L49.00,144.12 L49.01,143.45 L49.00,142.77 L48.98,142.10 L48.95,141.50 L48.90,141.00 L48.80,140.59 L48.66,140.22 L48.48,139.89 L48.31,139.59 L48.15,139.32 L48.03,139.06 L47.97,138.83 L48.00,138.60 L48.15,138.40 L48.40,138.23 L48.72,138.08 L49.08,137.95 L49.44,137.83 L49.77,137.70 L50.04,137.56 L50.20,137.40 L50.25,137.24 L50.21,137.09 L50.11,136.94 L49.97,136.79 L49.82,136.61 L49.70,136.39 L49.61,136.13 L49.60,135.80 L49.66,135.40 L49.76,134.94 L49.89,134.42 L50.04,133.88 L50.21,133.30 L50.39,132.73 L50.55,132.15 L50.70,131.60 L50.84,131.06 L50.97,130.52 L51.11,129.98 L51.24,129.43 L51.38,128.88 L51.52,128.33 L51.66,127.77 L51.80,127.20 L51.95,126.64 L52.10,126.10 L52.26,125.56 L52.42,125.01 L52.57,124.44 L52.73,123.84 L52.87,123.20 L53.00,122.50 L53.11,121.73 L53.21,120.89 L53.30,120.00 L53.38,119.08 L53.47,118.15 L53.56,117.23 L53.67,116.34 L53.80,115.50 L53.95,114.70 L54.12,113.93 L54.30,113.18 L54.49,112.44 L54.69,111.71 L54.89,110.98 L55.10,110.25 L55.30,109.50 L55.50,108.74 L55.70,107.96 L55.90,107.18 L56.10,106.40 L56.31,105.63 L56.53,104.86 L56.76,104.12 L57.00,103.40 L57.26,102.70 L57.53,102.01 L57.81,101.33 L58.11,100.66 L58.40,100.02 L58.70,99.39 L59.00,98.78 L59.30,98.20 L59.59,97.65 L59.87,97.14 L60.15,96.66 L60.44,96.19 L60.73,95.73 L61.03,95.27 L61.36,94.80 L61.70,94.30 L62.06,93.78 L62.45,93.24 L62.84,92.69 L63.25,92.13 L63.67,91.58 L64.10,91.04 L64.55,90.51 L65.00,90.00 L65.47,89.52 L65.95,89.07 L66.45,88.63 L66.96,88.21 L67.47,87.78 L67.98,87.34 L68.50,86.88 L69.00,86.40 L69.50,85.89 L69.98,85.35 L70.47,84.80 L70.96,84.24 L71.45,83.68 L71.95,83.11 L72.47,82.55 L73.00,82.00 L73.55,81.47 L74.10,80.95 L74.66,80.45 L75.24,79.94 L75.83,79.42 L76.43,78.88 L77.06,78.31 L77.70,77.70 L78.37,77.04 L79.07,76.34 L79.79,75.60 L80.53,74.85 L81.28,74.09 L82.02,73.34 L82.77,72.60 L83.50,71.90 L84.24,71.23 L85.00,70.57 L85.77,69.92 L86.53,69.29 L87.28,68.66 L88.00,68.04 L88.68,67.42 L89.30,66.80 L89.85,66.19 L90.34,65.59 L90.78,65.00 L91.20,64.41 L91.61,63.82 L92.03,63.23 L92.49,62.62 L93.00,62.00 L93.56,61.37 L94.14,60.75 L94.74,60.13 L95.36,59.50 L95.99,58.85 L96.65,58.17 L97.32,57.46 L98.00,56.70 L98.70,55.89 L99.43,55.04 L100.18,54.14 L100.94,53.23 L101.71,52.29 L102.48,51.35 L103.24,50.42 L104.00,49.50 L104.75,48.59 L105.49,47.68 L106.23,46.77 L106.97,45.86 L107.71,44.95 L108.46,44.03 L109.23,43.12 L110.00,42.20 L110.81,41.25 L111.67,40.26 L112.55,39.25 L113.44,38.24 L114.30,37.27 L115.11,36.36 L115.85,35.52 L116.50,34.80 L117.04,34.20 L117.48,33.70 L117.86,33.27 L118.19,32.91 L118.49,32.59 L118.80,32.27 L119.12,31.95 L119.50,31.60 L119.89,31.24 L120.27,30.91 L120.64,30.59 L121.02,30.27 L121.44,29.94 L121.90,29.60 L122.41,29.22 L123.00,28.80 L123.70,28.32 L124.51,27.76 L125.39,27.17 L126.31,26.57 L127.22,25.97 L128.10,25.41 L128.91,24.91 L129.60,24.50 L130.18,24.17 L130.67,23.91 L131.10,23.71 L131.49,23.54 L131.85,23.40 L132.21,23.27 L132.59,23.14 L133.00,23.00 L133.44,22.85 L133.89,22.71 L134.34,22.58 L134.80,22.46 L135.26,22.35 L135.71,22.25 L136.16,22.17 L136.60,22.10 L137.03,22.06 L137.45,22.04 L137.86,22.03 L138.27,22.04 L138.69,22.06 L139.11,22.08 L139.55,22.09 L140.00,22.10 L140.47,22.10 L140.96,22.10 L141.46,22.10 L141.96,22.10 L142.47,22.10 L142.99,22.10 L143.50,22.10 L144.00,22.10 L144.51,22.10 L145.03,22.08 L145.55,22.07 L146.08,22.06 L146.59,22.05 L147.08,22.05 L147.56,22.07 L148.00,22.10 L148.41,22.15 L148.79,22.23 L149.14,22.31 L149.48,22.41 L149.81,22.51 L150.14,22.61 L150.46,22.71 L150.80,22.80 L151.14,22.89 L151.48,22.97 L151.81,23.05 L152.14,23.14 L152.47,23.22 L152.81,23.31 L153.15,23.40 L153.50,23.50 L153.86,23.60 L154.22,23.71 L154.58,23.82 L154.95,23.93 L155.33,24.05 L155.71,24.16 L156.10,24.28 L156.50,24.40 L156.87,24.51 L157.20,24.62 L157.51,24.73 L157.84,24.84 L158.23,24.95 L158.69,25.08 L159.27,25.23 L160.00,25.40 L160.83,25.58 L161.71,25.77 L162.67,25.96 L163.73,26.18 L164.92,26.41 L166.26,26.67 L167.78,26.97 L169.50,27.30 L171.46,27.68 L173.66,28.10 L176.04,28.56 L178.57,29.05 L181.20,29.55 L183.90,30.07 L186.61,30.59 L189.30,31.10 L192.16,31.64 L195.32,32.24 L198.63,32.86 L201.94,33.49 L205.09,34.08 L207.93,34.62 L210.32,35.06 L212.10,35.40" fill="none" stroke="#4c1d95" stroke-width="2.0" stroke-linejoin="round" stroke-linecap="butt"/>
</g>
<text x="61.60" y="153.70" font-size="7.31" font-weight="normal" text-anchor="middle" fill="#6cc46c" textLength="15.36" lengthAdjust="spacingAndGlyphs">0.17</text>
<rect x="31.5" y="0.5" width="189.0" height="162.6" fill="none" stroke="#000" stroke-width="0.9"/>
<line x1="48.10" y1="163.10" x2="48.10" y2="166.60" stroke="#000" stroke-width="0.9" stroke-linecap="butt"/>
<text x="48.10" y="176.00" font-size="8.69" font-weight="normal" text-anchor="middle" fill="#000" textLength="13.04" lengthAdjust="spacingAndGlyphs">0.0</text>
<line x1="87.90" y1="163.10" x2="87.90" y2="166.60" stroke="#000" stroke-width="0.9" stroke-linecap="butt"/>
<text x="87.90" y="176.00" font-size="8.69" font-weight="normal" text-anchor="middle" fill="#000" textLength="13.04" lengthAdjust="spacingAndGlyphs">0.5</text>
<line x1="127.70" y1="163.10" x2="127.70" y2="166.60" stroke="#000" stroke-width="0.9" stroke-linecap="butt"/>
<text x="127.70" y="176.00" font-size="8.69" font-weight="normal" text-anchor="middle" fill="#000" textLength="13.04" lengthAdjust="spacingAndGlyphs">1.0</text>
<line x1="167.50" y1="163.10" x2="167.50" y2="166.60" stroke="#000" stroke-width="0.9" stroke-linecap="butt"/>
<text x="167.50" y="176.00" font-size="8.69" font-weight="normal" text-anchor="middle" fill="#000" textLength="13.04" lengthAdjust="spacingAndGlyphs">1.5</text>
<line x1="207.30" y1="163.10" x2="207.30" y2="166.60" stroke="#000" stroke-width="0.9" stroke-linecap="butt"/>
<text x="207.30" y="176.00" font-size="8.69" font-weight="normal" text-anchor="middle" fill="#000" textLength="13.04" lengthAdjust="spacingAndGlyphs">2.0</text>
<line x1="28.00" y1="147.90" x2="31.50" y2="147.90" stroke="#000" stroke-width="0.9" stroke-linecap="butt"/>
<text x="24.50" y="151.20" font-size="8.69" font-weight="normal" text-anchor="end" fill="#000" textLength="12.09" lengthAdjust="spacingAndGlyphs">−2</text>
<line x1="28.00" y1="121.30" x2="31.50" y2="121.30" stroke="#000" stroke-width="0.9" stroke-linecap="butt"/>
<text x="24.50" y="124.60" font-size="8.69" font-weight="normal" text-anchor="end" fill="#000" textLength="12.09" lengthAdjust="spacingAndGlyphs">−1</text>
<line x1="28.00" y1="94.70" x2="31.50" y2="94.70" stroke="#000" stroke-width="0.9" stroke-linecap="butt"/>
<text x="24.50" y="98.00" font-size="8.69" font-weight="normal" text-anchor="end" fill="#000" textLength="5.22" lengthAdjust="spacingAndGlyphs">0</text>
<line x1="28.00" y1="68.10" x2="31.50" y2="68.10" stroke="#000" stroke-width="0.9" stroke-linecap="butt"/>
<text x="24.50" y="71.40" font-size="8.69" font-weight="normal" text-anchor="end" fill="#000" textLength="5.22" lengthAdjust="spacingAndGlyphs">1</text>
<line x1="28.00" y1="41.50" x2="31.50" y2="41.50" stroke="#000" stroke-width="0.9" stroke-linecap="butt"/>
<text x="24.50" y="44.80" font-size="8.69" font-weight="normal" text-anchor="end" fill="#000" textLength="5.22" lengthAdjust="spacingAndGlyphs">2</text>
<line x1="28.00" y1="14.90" x2="31.50" y2="14.90" stroke="#000" stroke-width="0.9" stroke-linecap="butt"/>
<text x="24.50" y="18.20" font-size="8.69" font-weight="normal" text-anchor="end" fill="#000" textLength="5.22" lengthAdjust="spacingAndGlyphs">3</text>
<text x="126.00" y="188.60" font-size="9.71" font-weight="normal" text-anchor="middle" fill="#000" textLength="45.35" lengthAdjust="spacingAndGlyphs">Intvis_den</text>
<text x="7.20" y="81.80" font-size="9.66" font-weight="normal" text-anchor="middle" fill="#000" textLength="113.54" lengthAdjust="spacingAndGlyphs" transform="rotate(-90 7.20 81.80)">SHAP value for Intvis_den</text>
<text x="37.80" y="14.80" font-size="9.30" font-weight="bold" text-anchor="start" fill="#000" textLength="14.94" lengthAdjust="spacingAndGlyphs">(a)</text>
<clipPath id="cb"><rect x="262.1" y="0.5" width="188.7" height="162.6"/></clipPath>
<g clip-path="url(#cb)">
<rect x="270.2" y="0.5" width="23.80000000000001" height="162.6" fill="#e3e0ef"/>
<circle cx="279.1" cy="146.7" r="1.65" fill="#9696d2" fill-opacity="0.4"/>
<circle cx="278.8" cy="154.2" r="1.65" fill="#9696d2" fill-opacity="0.4"/>
<circle cx="278.5" cy="137.1" r="1.65" fill="#9696d2" fill-opacity="0.4"/>
<circle cx="279.5" cy="142.6" r="1.65" fill="#9696d2" fill-opacity="0.4"/>
<circle cx="278.6" cy="136.8" r="1.65" fill="#9696d2" fill-opacity="0.4"/>
<circle cx="278.6" cy="147.6" r="1.65" fill="#9696d2" fill-opacity="0.4"/>
<circle cx="279.1" cy="131.1" r="1.65" fill="#9696d2" fill-opacity="0.4"/>
<circle cx="279.1" cy="143.6" r="1.65" fill="#9696d2" fill-opacity="0.4"/>
<circle cx="278.0" cy="149.0" r="1.65" fill="#9696d2" fill-opacity="0.4"/>
<circle cx="278.6" cy="139.0" r="1.65" fill="#9696d2" fill-opacity="0.4"/>
<circle cx="279.4" cy="153.9" r="1.65" fill="#9696d2" fill-opacity="0.4"/>
<circle cx="278.2" cy="145.9" r="1.65" fill="#9696d2" fill-opacity="0.4"/>
<circle cx="278.1" cy="162.8" r="1.65" fill="#9696d2" fill-opacity="0.4"/>
<circle cx="278.4" cy="152.8" r="1.65" fill="#9696d2" fill-opacity="0.4"/>
<circle cx="278.3" cy="149.3" r="1.65" fill="#9696d2" fill-opacity="0.4"/>
<circle cx="280.6" cy="119.1" r="1.65" fill="#9696d2" fill-opacity="0.4"/>
<circle cx="278.5" cy="146.5" r="1.65" fill="#9696d2" fill-opacity="0.4"/>
<circle cx="278.7" cy="136.0" r="1.65" fill="#9696d2" fill-opacity="0.4"/>
<circle cx="280.5" cy="142.7" r="1.65" fill="#9696d2" fill-opacity="0.4"/>
<circle cx="277.5" cy="149.7" r="1.65" fill="#9696d2" fill-opacity="0.4"/>
<circle cx="277.4" cy="152.4" r="1.65" fill="#9696d2" fill-opacity="0.4"/>
<circle cx="278.3" cy="143.3" r="1.65" fill="#9696d2" fill-opacity="0.4"/>
<circle cx="279.8" cy="143.1" r="1.65" fill="#9696d2" fill-opacity="0.4"/>
<circle cx="277.7" cy="126.7" r="1.65" fill="#9696d2" fill-opacity="0.4"/>
<circle cx="279.7" cy="148.7" r="1.65" fill="#9696d2" fill-opacity="0.4"/>
<circle cx="278.1" cy="149.7" r="1.65" fill="#9696d2" fill-opacity="0.4"/>
<circle cx="279.2" cy="147.8" r="1.65" fill="#9696d2" fill-opacity="0.4"/>
<circle cx="277.0" cy="139.3" r="1.65" fill="#9696d2" fill-opacity="0.4"/>
<circle cx="279.5" cy="148.6" r="1.65" fill="#9696d2" fill-opacity="0.4"/>
<circle cx="279.5" cy="119.9" r="1.65" fill="#9696d2" fill-opacity="0.4"/>
<circle cx="278.9" cy="146.4" r="1.65" fill="#9696d2" fill-opacity="0.4"/>
<circle cx="280.8" cy="133.4" r="1.65" fill="#9696d2" fill-opacity="0.4"/>
<circle cx="278.5" cy="142.3" r="1.65" fill="#9696d2" fill-opacity="0.4"/>
<circle cx="279.5" cy="138.0" r="1.65" fill="#9696d2" fill-opacity="0.4"/>
<circle cx="279.7" cy="134.9" r="1.65" fill="#9696d2" fill-opacity="0.4"/>
<circle cx="279.0" cy="137.3" r="1.65" fill="#9696d2" fill-opacity="0.4"/>
<circle cx="278.9" cy="135.8" r="1.65" fill="#9696d2" fill-opacity="0.4"/>
<circle cx="277.5" cy="151.8" r="1.65" fill="#9696d2" fill-opacity="0.4"/>
<circle cx="279.0" cy="137.0" r="1.65" fill="#9696d2" fill-opacity="0.4"/>
<circle cx="279.0" cy="150.9" r="1.65" fill="#9696d2" fill-opacity="0.4"/>
<circle cx="278.0" cy="141.0" r="1.65" fill="#9696d2" fill-opacity="0.4"/>
<circle cx="279.2" cy="146.7" r="1.65" fill="#9696d2" fill-opacity="0.4"/>
<circle cx="278.5" cy="123.0" r="1.65" fill="#9696d2" fill-opacity="0.4"/>
<circle cx="279.8" cy="145.0" r="1.65" fill="#9696d2" fill-opacity="0.4"/>
<circle cx="278.8" cy="139.5" r="1.65" fill="#9696d2" fill-opacity="0.4"/>
<circle cx="279.0" cy="138.2" r="1.65" fill="#9696d2" fill-opacity="0.4"/>
<circle cx="278.0" cy="135.3" r="1.65" fill="#9696d2" fill-opacity="0.4"/>
<circle cx="278.3" cy="136.5" r="1.65" fill="#9696d2" fill-opacity="0.4"/>
<circle cx="277.9" cy="147.7" r="1.65" fill="#9696d2" fill-opacity="0.4"/>
<circle cx="277.8" cy="147.9" r="1.65" fill="#9696d2" fill-opacity="0.4"/>
<circle cx="278.0" cy="145.2" r="1.65" fill="#9696d2" fill-opacity="0.4"/>
<circle cx="279.9" cy="143.8" r="1.65" fill="#9696d2" fill-opacity="0.4"/>
<circle cx="278.2" cy="142.4" r="1.65" fill="#9696d2" fill-opacity="0.4"/>
<circle cx="278.9" cy="126.4" r="1.65" fill="#9696d2" fill-opacity="0.4"/>
<circle cx="278.3" cy="143.5" r="1.65" fill="#9696d2" fill-opacity="0.4"/>
<circle cx="278.4" cy="142.7" r="1.65" fill="#9696d2" fill-opacity="0.4"/>
<circle cx="279.4" cy="148.9" r="1.65" fill="#9696d2" fill-opacity="0.4"/>
<circle cx="279.5" cy="147.3" r="1.65" fill="#9696d2" fill-opacity="0.4"/>
<circle cx="278.6" cy="141.8" r="1.65" fill="#9696d2" fill-opacity="0.4"/>
<circle cx="278.6" cy="139.2" r="1.65" fill="#9696d2" fill-opacity="0.4"/>
<circle cx="285.7" cy="91.7" r="1.65" fill="#9696d2" fill-opacity="0.4"/>
<circle cx="278.9" cy="133.6" r="1.65" fill="#9696d2" fill-opacity="0.4"/>
<circle cx="288.3" cy="91.2" r="1.65" fill="#9696d2" fill-opacity="0.4"/>
<circle cx="287.8" cy="77.8" r="1.65" fill="#9696d2" fill-opacity="0.4"/>
<circle cx="281.4" cy="125.8" r="1.65" fill="#9696d2" fill-opacity="0.4"/>
<circle cx="287.9" cy="84.7" r="1.65" fill="#9696d2" fill-opacity="0.4"/>
<circle cx="286.3" cy="92.5" r="1.65" fill="#9696d2" fill-opacity="0.4"/>
<circle cx="282.2" cy="115.3" r="1.65" fill="#9696d2" fill-opacity="0.4"/>
<circle cx="286.9" cy="94.6" r="1.65" fill="#9696d2" fill-opacity="0.4"/>
<circle cx="278.9" cy="128.8" r="1.65" fill="#9696d2" fill-opacity="0.4"/>
<circle cx="280.8" cy="129.6" r="1.65" fill="#9696d2" fill-opacity="0.4"/>
<circle cx="282.2" cy="119.7" r="1.65" fill="#9696d2" fill-opacity="0.4"/>
<circle cx="281.3" cy="125.9" r="1.65" fill="#9696d2" fill-opacity="0.4"/>
<circle cx="287.6" cy="93.6" r="1.65" fill="#9696d2" fill-opacity="0.4"/>
<circle cx="279.2" cy="129.5" r="1.65" fill="#9696d2" fill-opacity="0.4"/>
<circle cx="282.8" cy="113.7" r="1.65" fill="#9696d2" fill-opacity="0.4"/>
<circle cx="284.4" cy="103.2" r="1.65" fill="#9696d2" fill-opacity="0.4"/>
<circle cx="287.5" cy="81.8" r="1.65" fill="#9696d2" fill-opacity="0.4"/>
<circle cx="286.0" cy="103.2" r="1.65" fill="#9696d2" fill-opacity="0.4"/>
<circle cx="283.5" cy="109.0" r="1.65" fill="#9696d2" fill-opacity="0.4"/>
<circle cx="283.4" cy="117.3" r="1.65" fill="#9696d2" fill-opacity="0.4"/>
<circle cx="279.6" cy="131.5" r="1.65" fill="#9696d2" fill-opacity="0.4"/>
<circle cx="285.5" cy="100.5" r="1.65" fill="#9696d2" fill-opacity="0.4"/>
<circle cx="285.0" cy="99.8" r="1.65" fill="#9696d2" fill-opacity="0.4"/>
<circle cx="279.8" cy="138.6" r="1.65" fill="#9696d2" fill-opacity="0.4"/>
<circle cx="281.6" cy="112.1" r="1.65" fill="#9696d2" fill-opacity="0.4"/>
<circle cx="280.3" cy="134.6" r="1.65" fill="#9696d2" fill-opacity="0.4"/>
<circle cx="279.8" cy="135.4" r="1.65" fill="#9696d2" fill-opacity="0.4"/>
<circle cx="279.7" cy="132.9" r="1.65" fill="#9696d2" fill-opacity="0.4"/>
<circle cx="283.9" cy="102.8" r="1.65" fill="#9696d2" fill-opacity="0.4"/>
<circle cx="284.3" cy="102.1" r="1.65" fill="#9696d2" fill-opacity="0.4"/>
<circle cx="287.4" cy="88.6" r="1.65" fill="#9696d2" fill-opacity="0.4"/>
<circle cx="279.1" cy="126.1" r="1.65" fill="#9696d2" fill-opacity="0.4"/>
<circle cx="285.7" cy="94.9" r="1.65" fill="#9696d2" fill-opacity="0.4"/>
<circle cx="278.6" cy="132.3" r="1.65" fill="#9696d2" fill-opacity="0.4"/>
<circle cx="281.8" cy="114.4" r="1.65" fill="#9696d2" fill-opacity="0.4"/>
<circle cx="287.4" cy="83.9" r="1.65" fill="#9696d2" fill-opacity="0.4"/>
<circle cx="287.8" cy="89.1" r="1.65" fill="#9696d2" fill-opacity="0.4"/>
<circle cx="282.7" cy="115.4" r="1.65" fill="#9696d2" fill-opacity="0.4"/>
<circle cx="286.8" cy="93.8" r="1.65" fill="#9696d2" fill-opacity="0.4"/>
<circle cx="287.7" cy="88.2" r="1.65" fill="#9696d2" fill-opacity="0.4"/>
<circle cx="283.6" cy="102.5" r="1.65" fill="#9696d2" fill-opacity="0.4"/>
<circle cx="286.6" cy="94.5" r="1.65" fill="#9696d2" fill-opacity="0.4"/>
<circle cx="282.9" cy="122.5" r="1.65" fill="#9696d2" fill-opacity="0.4"/>
<circle cx="286.0" cy="92.9" r="1.65" fill="#9696d2" fill-opacity="0.4"/>
<circle cx="286.6" cy="86.5" r="1.65" fill="#9696d2" fill-opacity="0.4"/>
<circle cx="285.3" cy="96.1" r="1.65" fill="#9696d2" fill-opacity="0.4"/>
<circle cx="280.0" cy="132.0" r="1.65" fill="#9696d2" fill-opacity="0.4"/>
<circle cx="282.0" cy="112.9" r="1.65" fill="#9696d2" fill-opacity="0.4"/>
<circle cx="286.5" cy="87.7" r="1.65" fill="#9696d2" fill-opacity="0.4"/>
<circle cx="283.0" cy="108.2" r="1.65" fill="#9696d2" fill-opacity="0.4"/>
<circle cx="283.6" cy="112.5" r="1.65" fill="#9696d2" fill-opacity="0.4"/>
<circle cx="287.9" cy="92.5" r="1.65" fill="#9696d2" fill-opacity="0.4"/>
<circle cx="279.1" cy="138.3" r="1.65" fill="#9696d2" fill-opacity="0.4"/>
<circle cx="286.6" cy="93.3" r="1.65" fill="#9696d2" fill-opacity="0.4"/>
<circle cx="282.3" cy="116.6" r="1.65" fill="#9696d2" fill-opacity="0.4"/>
<circle cx="281.9" cy="121.0" r="1.65" fill="#9696d2" fill-opacity="0.4"/>
<circle cx="284.4" cy="89.6" r="1.65" fill="#9696d2" fill-opacity="0.4"/>
<circle cx="283.7" cy="106.0" r="1.65" fill="#9696d2" fill-opacity="0.4"/>
<circle cx="285.8" cy="92.0" r="1.65" fill="#9696d2" fill-opacity="0.4"/>
<circle cx="286.0" cy="95.7" r="1.65" fill="#9696d2" fill-opacity="0.4"/>
<circle cx="287.8" cy="95.1" r="1.65" fill="#9696d2" fill-opacity="0.4"/>
<circle cx="282.6" cy="116.8" r="1.65" fill="#9696d2" fill-opacity="0.4"/>
<circle cx="289.2" cy="80.6" r="1.65" fill="#9696d2" fill-opacity="0.4"/>
<circle cx="282.1" cy="124.9" r="1.65" fill="#9696d2" fill-opacity="0.4"/>
<circle cx="286.4" cy="83.0" r="1.65" fill="#9696d2" fill-opacity="0.4"/>
<circle cx="281.1" cy="118.7" r="1.65" fill="#9696d2" fill-opacity="0.4"/>
<circle cx="288.9" cy="74.0" r="1.65" fill="#9696d2" fill-opacity="0.4"/>
<circle cx="282.5" cy="113.6" r="1.65" fill="#9696d2" fill-opacity="0.4"/>
<circle cx="289.8" cy="79.9" r="1.65" fill="#9696d2" fill-opacity="0.4"/>
<circle cx="283.1" cy="120.2" r="1.65" fill="#9696d2" fill-opacity="0.4"/>
<circle cx="287.6" cy="76.5" r="1.65" fill="#9696d2" fill-opacity="0.4"/>
<circle cx="286.6" cy="92.0" r="1.65" fill="#9696d2" fill-opacity="0.4"/>
<circle cx="281.9" cy="116.1" r="1.65" fill="#9696d2" fill-opacity="0.4"/>
<circle cx="283.8" cy="106.9" r="1.65" fill="#9696d2" fill-opacity="0.4"/>
<circle cx="283.1" cy="117.0" r="1.65" fill="#9696d2" fill-opacity="0.4"/>
<circle cx="283.6" cy="114.2" r="1.65" fill="#9696d2" fill-opacity="0.4"/>
<circle cx="286.0" cy="91.2" r="1.65" fill="#9696d2" fill-opacity="0.4"/>
<circle cx="280.7" cy="125.5" r="1.65" fill="#9696d2" fill-opacity="0.4"/>
<circle cx="287.4" cy="90.0" r="1.65" fill="#9696d2" fill-opacity="0.4"/>
<circle cx="286.1" cy="103.2" r="1.65" fill="#9696d2" fill-opacity="0.4"/>
<circle cx="282.0" cy="117.1" r="1.65" fill="#9696d2" fill-opacity="0.4"/>
<circle cx="281.3" cy="131.9" r="1.65" fill="#9696d2" fill-opacity="0.4"/>
<circle cx="290.5" cy="77.0" r="1.65" fill="#9696d2" fill-opacity="0.4"/>
<circle cx="285.5" cy="94.1" r="1.65" fill="#9696d2" fill-opacity="0.4"/>
<circle cx="284.8" cy="103.6" r="1.65" fill="#9696d2" fill-opacity="0.4"/>
<circle cx="283.8" cy="108.5" r="1.65" fill="#9696d2" fill-opacity="0.4"/>
<circle cx="282.7" cy="107.4" r="1.65" fill="#9696d2" fill-opacity="0.4"/>
<circle cx="281.8" cy="117.1" r="1.65" fill="#9696d2" fill-opacity="0.4"/>
<circle cx="287.7" cy="76.2" r="1.65" fill="#9696d2" fill-opacity="0.4"/>
<circle cx="296.2" cy="63.3" r="1.65" fill="#9696d2" fill-opacity="0.4"/>
<circle cx="292.7" cy="64.4" r="1.65" fill="#9696d2" fill-opacity="0.4"/>
<circle cx="300.3" cy="55.5" r="1.65" fill="#9696d2" fill-opacity="0.4"/>
<circle cx="300.3" cy="53.7" r="1.65" fill="#9696d2" fill-opacity="0.4"/>
<circle cx="289.7" cy="60.6" r="1.65" fill="#9696d2" fill-opacity="0.4"/>
<circle cx="300.5" cy="67.5" r="1.65" fill="#9696d2" fill-opacity="0.4"/>
<circle cx="292.4" cy="78.6" r="1.65" fill="#9696d2" fill-opacity="0.4"/>
<circle cx="290.1" cy="66.4" r="1.65" fill="#9696d2" fill-opacity="0.4"/>
<circle cx="294.7" cy="74.9" r="1.65" fill="#9696d2" fill-opacity="0.4"/>
<circle cx="298.2" cy="71.7" r="1.65" fill="#9696d2" fill-opacity="0.4"/>
<circle cx="291.9" cy="62.5" r="1.65" fill="#9696d2" fill-opacity="0.4"/>
<circle cx="288.9" cy="77.5" r="1.65" fill="#9696d2" fill-opacity="0.4"/>
<circle cx="296.8" cy="74.5" r="1.65" fill="#9696d2" fill-opacity="0.4"/>
<circle cx="289.1" cy="65.7" r="1.65" fill="#9696d2" fill-opacity="0.4"/>
<circle cx="298.5" cy="69.8" r="1.65" fill="#9696d2" fill-opacity="0.4"/>
<circle cx="288.5" cy="66.4" r="1.65" fill="#9696d2" fill-opacity="0.4"/>
<circle cx="300.2" cy="59.9" r="1.65" fill="#9696d2" fill-opacity="0.4"/>
<circle cx="289.5" cy="61.7" r="1.65" fill="#9696d2" fill-opacity="0.4"/>
<circle cx="297.4" cy="77.5" r="1.65" fill="#9696d2" fill-opacity="0.4"/>
<circle cx="288.9" cy="57.5" r="1.65" fill="#9696d2" fill-opacity="0.4"/>
<circle cx="290.3" cy="62.5" r="1.65" fill="#9696d2" fill-opacity="0.4"/>
<circle cx="294.6" cy="57.7" r="1.65" fill="#9696d2" fill-opacity="0.4"/>
<circle cx="291.6" cy="58.5" r="1.65" fill="#9696d2" fill-opacity="0.4"/>
<circle cx="301.6" cy="74.1" r="1.65" fill="#9696d2" fill-opacity="0.4"/>
<circle cx="288.1" cy="80.9" r="1.65" fill="#9696d2" fill-opacity="0.4"/>
<circle cx="288.1" cy="64.1" r="1.65" fill="#9696d2" fill-opacity="0.4"/>
<circle cx="301.7" cy="76.1" r="1.65" fill="#9696d2" fill-opacity="0.4"/>
<circle cx="297.9" cy="65.6" r="1.65" fill="#9696d2" fill-opacity="0.4"/>
<circle cx="289.5" cy="71.5" r="1.65" fill="#9696d2" fill-opacity="0.4"/>
<circle cx="288.2" cy="59.0" r="1.65" fill="#9696d2" fill-opacity="0.4"/>
<circle cx="292.5" cy="54.0" r="1.65" fill="#9696d2" fill-opacity="0.4"/>
<circle cx="292.7" cy="75.9" r="1.65" fill="#9696d2" fill-opacity="0.4"/>
<circle cx="297.2" cy="67.5" r="1.65" fill="#9696d2" fill-opacity="0.4"/>
<circle cx="296.3" cy="66.4" r="1.65" fill="#9696d2" fill-opacity="0.4"/>
<circle cx="288.7" cy="70.5" r="1.65" fill="#9696d2" fill-opacity="0.4"/>
<circle cx="292.8" cy="74.5" r="1.65" fill="#9696d2" fill-opacity="0.4"/>
<circle cx="300.6" cy="65.5" r="1.65" fill="#9696d2" fill-opacity="0.4"/>
<circle cx="295.4" cy="74.7" r="1.65" fill="#9696d2" fill-opacity="0.4"/>
<circle cx="293.0" cy="59.6" r="1.65" fill="#9696d2" fill-opacity="0.4"/>
<circle cx="297.7" cy="78.5" r="1.65" fill="#9696d2" fill-opacity="0.4"/>
<circle cx="298.5" cy="73.3" r="1.65" fill="#9696d2" fill-opacity="0.4"/>
<circle cx="299.7" cy="72.7" r="1.65" fill="#9696d2" fill-opacity="0.4"/>
<circle cx="296.4" cy="66.2" r="1.65" fill="#9696d2" fill-opacity="0.4"/>
<circle cx="291.4" cy="71.2" r="1.65" fill="#9696d2" fill-opacity="0.4"/>
<circle cx="288.0" cy="65.2" r="1.65" fill="#9696d2" fill-opacity="0.4"/>
<circle cx="298.6" cy="73.7" r="1.65" fill="#9696d2" fill-opacity="0.4"/>
<circle cx="296.3" cy="60.3" r="1.65" fill="#9696d2" fill-opacity="0.4"/>
<circle cx="293.1" cy="66.2" r="1.65" fill="#9696d2" fill-opacity="0.4"/>
<circle cx="296.1" cy="64.9" r="1.65" fill="#9696d2" fill-opacity="0.4"/>
<circle cx="297.0" cy="80.0" r="1.65" fill="#9696d2" fill-opacity="0.4"/>
<circle cx="289.3" cy="72.0" r="1.65" fill="#9696d2" fill-opacity="0.4"/>
<circle cx="298.6" cy="64.3" r="1.65" fill="#9696d2" fill-opacity="0.4"/>
<circle cx="294.1" cy="81.3" r="1.65" fill="#9696d2" fill-opacity="0.4"/>
<circle cx="287.1" cy="68.8" r="1.65" fill="#9696d2" fill-opacity="0.4"/>
<circle cx="289.0" cy="75.7" r="1.65" fill="#9696d2" fill-opacity="0.4"/>
<circle cx="301.1" cy="68.1" r="1.65" fill="#9696d2" fill-opacity="0.4"/>
<circle cx="288.1" cy="69.7" r="1.65" fill="#9696d2" fill-opacity="0.4"/>
<circle cx="294.9" cy="73.8" r="1.65" fill="#9696d2" fill-opacity="0.4"/>
<circle cx="294.4" cy="71.5" r="1.65" fill="#9696d2" fill-opacity="0.4"/>
<circle cx="299.3" cy="68.1" r="1.65" fill="#9696d2" fill-opacity="0.4"/>
<circle cx="292.9" cy="80.5" r="1.65" fill="#9696d2" fill-opacity="0.4"/>
<circle cx="289.8" cy="72.8" r="1.65" fill="#9696d2" fill-opacity="0.4"/>
<circle cx="292.6" cy="75.1" r="1.65" fill="#9696d2" fill-opacity="0.4"/>
<circle cx="288.4" cy="81.5" r="1.65" fill="#9696d2" fill-opacity="0.4"/>
<circle cx="292.0" cy="54.6" r="1.65" fill="#9696d2" fill-opacity="0.4"/>
<circle cx="290.8" cy="64.6" r="1.65" fill="#9696d2" fill-opacity="0.4"/>
<circle cx="286.7" cy="65.1" r="1.65" fill="#9696d2" fill-opacity="0.4"/>
<circle cx="293.0" cy="73.2" r="1.65" fill="#9696d2" fill-opacity="0.4"/>
<circle cx="292.0" cy="60.7" r="1.65" fill="#9696d2" fill-opacity="0.4"/>
<circle cx="290.0" cy="74.5" r="1.65" fill="#9696d2" fill-opacity="0.4"/>
<circle cx="306.2" cy="26.5" r="1.65" fill="#9696d2" fill-opacity="0.4"/>
<circle cx="302.6" cy="32.0" r="1.65" fill="#9696d2" fill-opacity="0.4"/>
<circle cx="303.5" cy="20.2" r="1.65" fill="#9696d2" fill-opacity="0.4"/>
<circle cx="302.1" cy="31.5" r="1.65" fill="#9696d2" fill-opacity="0.4"/>
<circle cx="305.5" cy="28.7" r="1.65" fill="#9696d2" fill-opacity="0.4"/>
<circle cx="303.8" cy="27.2" r="1.65" fill="#9696d2" fill-opacity="0.4"/>
<circle cx="302.6" cy="35.3" r="1.65" fill="#9696d2" fill-opacity="0.4"/>
<circle cx="303.3" cy="28.8" r="1.65" fill="#9696d2" fill-opacity="0.4"/>
<circle cx="305.6" cy="32.3" r="1.65" fill="#9696d2" fill-opacity="0.4"/>
<circle cx="303.8" cy="21.9" r="1.65" fill="#9696d2" fill-opacity="0.4"/>
<circle cx="304.2" cy="18.5" r="1.65" fill="#9696d2" fill-opacity="0.4"/>
<circle cx="305.7" cy="23.1" r="1.65" fill="#9696d2" fill-opacity="0.4"/>
<circle cx="305.8" cy="21.3" r="1.65" fill="#9696d2" fill-opacity="0.4"/>
<circle cx="303.4" cy="21.1" r="1.65" fill="#9696d2" fill-opacity="0.4"/>
<circle cx="303.6" cy="19.7" r="1.65" fill="#9696d2" fill-opacity="0.4"/>
<circle cx="301.5" cy="30.4" r="1.65" fill="#9696d2" fill-opacity="0.4"/>
<circle cx="302.9" cy="20.9" r="1.65" fill="#9696d2" fill-opacity="0.4"/>
<circle cx="303.0" cy="25.6" r="1.65" fill="#9696d2" fill-opacity="0.4"/>
<circle cx="303.6" cy="28.7" r="1.65" fill="#9696d2" fill-opacity="0.4"/>
<circle cx="304.8" cy="23.2" r="1.65" fill="#9696d2" fill-opacity="0.4"/>
<circle cx="306.1" cy="33.1" r="1.65" fill="#9696d2" fill-opacity="0.4"/>
<circle cx="301.8" cy="32.6" r="1.65" fill="#9696d2" fill-opacity="0.4"/>
<circle cx="306.0" cy="31.7" r="1.65" fill="#9696d2" fill-opacity="0.4"/>
<circle cx="302.2" cy="32.6" r="1.65" fill="#9696d2" fill-opacity="0.4"/>
<circle cx="304.7" cy="16.3" r="1.65" fill="#9696d2" fill-opacity="0.4"/>
<circle cx="301.6" cy="35.0" r="1.65" fill="#9696d2" fill-opacity="0.4"/>
<circle cx="304.8" cy="21.0" r="1.65" fill="#9696d2" fill-opacity="0.4"/>
<circle cx="302.0" cy="18.9" r="1.65" fill="#9696d2" fill-opacity="0.4"/>
<circle cx="302.7" cy="31.5" r="1.65" fill="#9696d2" fill-opacity="0.4"/>
<circle cx="303.2" cy="19.1" r="1.65" fill="#9696d2" fill-opacity="0.4"/>
<circle cx="319.1" cy="29.0" r="1.65" fill="#9696d2" fill-opacity="0.4"/>
<circle cx="312.5" cy="30.9" r="1.65" fill="#9696d2" fill-opacity="0.4"/>
<circle cx="316.5" cy="28.8" r="1.65" fill="#9696d2" fill-opacity="0.4"/>
<circle cx="317.0" cy="31.0" r="1.65" fill="#9696d2" fill-opacity="0.4"/>
<circle cx="318.1" cy="29.9" r="1.65" fill="#9696d2" fill-opacity="0.4"/>
<circle cx="312.8" cy="27.2" r="1.65" fill="#9696d2" fill-opacity="0.4"/>
<circle cx="315.8" cy="28.1" r="1.65" fill="#9696d2" fill-opacity="0.4"/>
<circle cx="314.9" cy="30.8" r="1.65" fill="#9696d2" fill-opacity="0.4"/>
<circle cx="316.0" cy="19.0" r="1.65" fill="#9696d2" fill-opacity="0.4"/>
<circle cx="313.1" cy="16.6" r="1.65" fill="#9696d2" fill-opacity="0.4"/>
<circle cx="315.4" cy="15.1" r="1.65" fill="#9696d2" fill-opacity="0.4"/>
<circle cx="315.2" cy="16.7" r="1.65" fill="#9696d2" fill-opacity="0.4"/>
<circle cx="315.4" cy="23.5" r="1.65" fill="#9696d2" fill-opacity="0.4"/>
<circle cx="315.9" cy="30.4" r="1.65" fill="#9696d2" fill-opacity="0.4"/>
<circle cx="311.1" cy="30.0" r="1.65" fill="#9696d2" fill-opacity="0.4"/>
<circle cx="315.2" cy="24.7" r="1.65" fill="#9696d2" fill-opacity="0.4"/>
<circle cx="317.0" cy="30.0" r="1.65" fill="#9696d2" fill-opacity="0.4"/>
<circle cx="314.4" cy="22.0" r="1.65" fill="#9696d2" fill-opacity="0.4"/>
<circle cx="319.6" cy="15.4" r="1.65" fill="#9696d2" fill-opacity="0.4"/>
<circle cx="316.7" cy="26.1" r="1.65" fill="#9696d2" fill-opacity="0.4"/>
<circle cx="311.3" cy="25.6" r="1.65" fill="#9696d2" fill-opacity="0.4"/>
<circle cx="317.1" cy="31.7" r="1.65" fill="#9696d2" fill-opacity="0.4"/>
<circle cx="314.0" cy="32.7" r="1.65" fill="#9696d2" fill-opacity="0.4"/>
<circle cx="315.6" cy="23.2" r="1.65" fill="#9696d2" fill-opacity="0.4"/>
<circle cx="319.1" cy="14.6" r="1.65" fill="#9696d2" fill-opacity="0.4"/>
<circle cx="317.5" cy="25.9" r="1.65" fill="#9696d2" fill-opacity="0.4"/>
<circle cx="314.0" cy="30.4" r="1.65" fill="#9696d2" fill-opacity="0.4"/>
<circle cx="314.3" cy="23.0" r="1.65" fill="#9696d2" fill-opacity="0.4"/>
<circle cx="315.7" cy="28.6" r="1.65" fill="#9696d2" fill-opacity="0.4"/>
<circle cx="312.9" cy="22.3" r="1.65" fill="#9696d2" fill-opacity="0.4"/>
<circle cx="321.4" cy="32.0" r="1.65" fill="#9696d2" fill-opacity="0.4"/>
<circle cx="324.6" cy="27.3" r="1.65" fill="#9696d2" fill-opacity="0.4"/>
<circle cx="324.6" cy="29.3" r="1.65" fill="#9696d2" fill-opacity="0.4"/>
<circle cx="322.0" cy="26.9" r="1.65" fill="#9696d2" fill-opacity="0.4"/>
<circle cx="322.1" cy="39.5" r="1.65" fill="#9696d2" fill-opacity="0.4"/>
<circle cx="323.2" cy="36.3" r="1.65" fill="#9696d2" fill-opacity="0.4"/>
<circle cx="320.6" cy="27.7" r="1.65" fill="#9696d2" fill-opacity="0.4"/>
<circle cx="320.4" cy="32.6" r="1.65" fill="#9696d2" fill-opacity="0.4"/>
<circle cx="323.1" cy="36.1" r="1.65" fill="#9696d2" fill-opacity="0.4"/>
<circle cx="318.3" cy="35.0" r="1.65" fill="#9696d2" fill-opacity="0.4"/>
<circle cx="325.1" cy="31.8" r="1.65" fill="#9696d2" fill-opacity="0.4"/>
<circle cx="318.4" cy="27.4" r="1.65" fill="#9696d2" fill-opacity="0.4"/>
<circle cx="314.8" cy="7.9" r="1.65" fill="#9696d2" fill-opacity="0.4"/>
<circle cx="309.3" cy="12.0" r="1.65" fill="#9696d2" fill-opacity="0.4"/>
<circle cx="316.0" cy="11.0" r="1.65" fill="#9696d2" fill-opacity="0.4"/>
<circle cx="313.0" cy="15.0" r="1.65" fill="#9696d2" fill-opacity="0.4"/>
<circle cx="311.0" cy="17.0" r="1.65" fill="#9696d2" fill-opacity="0.4"/>
<circle cx="322.7" cy="54.9" r="1.65" fill="#9696d2" fill-opacity="0.4"/>
<circle cx="342.7" cy="38.9" r="1.65" fill="#9696d2" fill-opacity="0.4"/>
<circle cx="353.2" cy="43.7" r="1.65" fill="#9696d2" fill-opacity="0.4"/>
<circle cx="343.7" cy="40.2" r="1.65" fill="#9696d2" fill-opacity="0.4"/>
<circle cx="346.0" cy="59.0" r="1.65" fill="#9696d2" fill-opacity="0.4"/>
<circle cx="338.0" cy="46.8" r="1.65" fill="#9696d2" fill-opacity="0.4"/>
<circle cx="329.4" cy="48.2" r="1.65" fill="#9696d2" fill-opacity="0.4"/>
<circle cx="353.7" cy="44.4" r="1.65" fill="#9696d2" fill-opacity="0.4"/>
<circle cx="351.0" cy="40.7" r="1.65" fill="#9696d2" fill-opacity="0.4"/>
<circle cx="330.8" cy="54.6" r="1.65" fill="#9696d2" fill-opacity="0.4"/>
<circle cx="332.4" cy="53.2" r="1.65" fill="#9696d2" fill-opacity="0.4"/>
<circle cx="355.4" cy="53.1" r="1.65" fill="#9696d2" fill-opacity="0.4"/>
<circle cx="324.2" cy="49.8" r="1.65" fill="#9696d2" fill-opacity="0.4"/>
<circle cx="342.7" cy="45.7" r="1.65" fill="#9696d2" fill-opacity="0.4"/>
<circle cx="321.9" cy="46.5" r="1.65" fill="#9696d2" fill-opacity="0.4"/>
<circle cx="355.5" cy="49.1" r="1.65" fill="#9696d2" fill-opacity="0.4"/>
<circle cx="337.1" cy="56.1" r="1.65" fill="#9696d2" fill-opacity="0.4"/>
<circle cx="329.5" cy="47.4" r="1.65" fill="#9696d2" fill-opacity="0.4"/>
<circle cx="322.0" cy="36.9" r="1.65" fill="#9696d2" fill-opacity="0.4"/>
<circle cx="356.9" cy="57.5" r="1.65" fill="#9696d2" fill-opacity="0.4"/>
<circle cx="327.5" cy="45.2" r="1.65" fill="#9696d2" fill-opacity="0.4"/>
<circle cx="330.4" cy="42.7" r="1.65" fill="#9696d2" fill-opacity="0.4"/>
<circle cx="323.9" cy="30.6" r="1.65" fill="#9696d2" fill-opacity="0.4"/>
<circle cx="351.9" cy="46.8" r="1.65" fill="#9696d2" fill-opacity="0.4"/>
<circle cx="343.8" cy="41.6" r="1.65" fill="#9696d2" fill-opacity="0.4"/>
<circle cx="354.6" cy="68.1" r="1.65" fill="#9696d2" fill-opacity="0.4"/>
<circle cx="347.2" cy="49.0" r="1.65" fill="#9696d2" fill-opacity="0.4"/>
<circle cx="344.9" cy="46.4" r="1.65" fill="#9696d2" fill-opacity="0.4"/>
<circle cx="332.8" cy="44.7" r="1.65" fill="#9696d2" fill-opacity="0.4"/>
<circle cx="351.9" cy="49.9" r="1.65" fill="#9696d2" fill-opacity="0.4"/>
<circle cx="334.3" cy="46.4" r="1.65" fill="#9696d2" fill-opacity="0.4"/>
<circle cx="346.3" cy="58.8" r="1.65" fill="#9696d2" fill-opacity="0.4"/>
<circle cx="334.2" cy="41.9" r="1.65" fill="#9696d2" fill-opacity="0.4"/>
<circle cx="335.8" cy="58.2" r="1.65" fill="#9696d2" fill-opacity="0.4"/>
<circle cx="355.2" cy="41.2" r="1.65" fill="#9696d2" fill-opacity="0.4"/>
<circle cx="333.7" cy="55.5" r="1.65" fill="#9696d2" fill-opacity="0.4"/>
<circle cx="346.9" cy="43.3" r="1.65" fill="#9696d2" fill-opacity="0.4"/>
<circle cx="344.3" cy="47.4" r="1.65" fill="#9696d2" fill-opacity="0.4"/>
<circle cx="342.8" cy="56.2" r="1.65" fill="#9696d2" fill-opacity="0.4"/>
<circle cx="352.4" cy="57.3" r="1.65" fill="#9696d2" fill-opacity="0.4"/>
<circle cx="343.9" cy="41.5" r="1.65" fill="#9696d2" fill-opacity="0.4"/>
<circle cx="332.4" cy="48.3" r="1.65" fill="#9696d2" fill-opacity="0.4"/>
<circle cx="335.8" cy="43.5" r="1.65" fill="#9696d2" fill-opacity="0.4"/>
<circle cx="354.2" cy="53.4" r="1.65" fill="#9696d2" fill-opacity="0.4"/>
<circle cx="350.9" cy="42.6" r="1.65" fill="#9696d2" fill-opacity="0.4"/>
<circle cx="381.7" cy="34.2" r="1.65" fill="#9696d2" fill-opacity="0.4"/>
<circle cx="417.7" cy="33.3" r="1.65" fill="#9696d2" fill-opacity="0.4"/>
<circle cx="363.5" cy="45.7" r="1.65" fill="#9696d2" fill-opacity="0.4"/>
<circle cx="374.6" cy="30.3" r="1.65" fill="#9696d2" fill-opacity="0.4"/>
<circle cx="376.9" cy="39.0" r="1.65" fill="#9696d2" fill-opacity="0.4"/>
<circle cx="398.1" cy="45.9" r="1.65" fill="#9696d2" fill-opacity="0.4"/>
<circle cx="423.3" cy="28.1" r="1.65" fill="#9696d2" fill-opacity="0.4"/>
<circle cx="365.1" cy="38.5" r="1.65" fill="#9696d2" fill-opacity="0.4"/>
<circle cx="376.4" cy="38.4" r="1.65" fill="#9696d2" fill-opacity="0.4"/>
<circle cx="434.2" cy="32.4" r="1.65" fill="#9696d2" fill-opacity="0.4"/>
<circle cx="409.0" cy="42.6" r="1.65" fill="#9696d2" fill-opacity="0.4"/>
<circle cx="372.7" cy="40.8" r="1.65" fill="#9696d2" fill-opacity="0.4"/>
<circle cx="406.1" cy="43.7" r="1.65" fill="#9696d2" fill-opacity="0.4"/>
<circle cx="372.1" cy="54.7" r="1.65" fill="#9696d2" fill-opacity="0.4"/>
<circle cx="390.6" cy="48.5" r="1.65" fill="#9696d2" fill-opacity="0.4"/>
<circle cx="426.7" cy="42.9" r="1.65" fill="#9696d2" fill-opacity="0.4"/>
<circle cx="387.2" cy="42.8" r="1.65" fill="#9696d2" fill-opacity="0.4"/>
<circle cx="361.2" cy="49.9" r="1.65" fill="#9696d2" fill-opacity="0.4"/>
<circle cx="399.4" cy="38.1" r="1.65" fill="#9696d2" fill-opacity="0.4"/>
<circle cx="424.3" cy="42.8" r="1.65" fill="#9696d2" fill-opacity="0.4"/>
<circle cx="425.2" cy="19.0" r="1.65" fill="#9696d2" fill-opacity="0.4"/>
<circle cx="379.7" cy="46.1" r="1.65" fill="#9696d2" fill-opacity="0.4"/>
<circle cx="373.1" cy="48.3" r="1.65" fill="#9696d2" fill-opacity="0.4"/>
<circle cx="406.5" cy="33.3" r="1.65" fill="#9696d2" fill-opacity="0.4"/>
<circle cx="440.5" cy="31.1" r="1.65" fill="#9696d2" fill-opacity="0.4"/>
<circle cx="409.4" cy="40.3" r="1.65" fill="#9696d2" fill-opacity="0.4"/>
<circle cx="441.4" cy="41.3" r="1.65" fill="#9696d2" fill-opacity="0.4"/>
<circle cx="414.2" cy="34.6" r="1.65" fill="#9696d2" fill-opacity="0.4"/>
<circle cx="391.3" cy="43.4" r="1.65" fill="#9696d2" fill-opacity="0.4"/>
<circle cx="442.4" cy="31.9" r="1.65" fill="#9696d2" fill-opacity="0.4"/>
<circle cx="360.4" cy="57.3" r="1.65" fill="#9696d2" fill-opacity="0.4"/>
<circle cx="437.4" cy="25.7" r="1.65" fill="#9696d2" fill-opacity="0.4"/>
<circle cx="361.4" cy="40.0" r="1.65" fill="#9696d2" fill-opacity="0.4"/>
<circle cx="414.1" cy="37.1" r="1.65" fill="#9696d2" fill-opacity="0.4"/>
<circle cx="369.8" cy="31.6" r="1.65" fill="#9696d2" fill-opacity="0.4"/>
<circle cx="416.3" cy="45.7" r="1.65" fill="#9696d2" fill-opacity="0.4"/>
<circle cx="424.1" cy="39.3" r="1.65" fill="#9696d2" fill-opacity="0.4"/>
<circle cx="380.1" cy="50.5" r="1.65" fill="#9696d2" fill-opacity="0.4"/>
<circle cx="371.9" cy="51.4" r="1.65" fill="#9696d2" fill-opacity="0.4"/>
<circle cx="417.6" cy="37.7" r="1.65" fill="#9696d2" fill-opacity="0.4"/>
<circle cx="375.5" cy="50.3" r="1.65" fill="#9696d2" fill-opacity="0.4"/>
<circle cx="377.5" cy="40.3" r="1.65" fill="#9696d2" fill-opacity="0.4"/>
<circle cx="435.6" cy="39.3" r="1.65" fill="#9696d2" fill-opacity="0.4"/>
<circle cx="366.6" cy="43.7" r="1.65" fill="#9696d2" fill-opacity="0.4"/>
<circle cx="411.8" cy="39.5" r="1.65" fill="#9696d2" fill-opacity="0.4"/>
<circle cx="428.6" cy="35.9" r="1.65" fill="#9696d2" fill-opacity="0.4"/>
<circle cx="369.6" cy="50.6" r="1.65" fill="#9696d2" fill-opacity="0.4"/>
<circle cx="419.5" cy="34.9" r="1.65" fill="#9696d2" fill-opacity="0.4"/>
<circle cx="433.6" cy="40.9" r="1.65" fill="#9696d2" fill-opacity="0.4"/>
<circle cx="370.5" cy="61.1" r="1.65" fill="#9696d2" fill-opacity="0.4"/>
<circle cx="386.8" cy="50.2" r="1.65" fill="#9696d2" fill-opacity="0.4"/>
<circle cx="385.2" cy="41.5" r="1.65" fill="#9696d2" fill-opacity="0.4"/>
<circle cx="444.3" cy="37.3" r="1.65" fill="#9696d2" fill-opacity="0.4"/>
<circle cx="416.0" cy="44.7" r="1.65" fill="#9696d2" fill-opacity="0.4"/>
<circle cx="382.2" cy="48.8" r="1.65" fill="#9696d2" fill-opacity="0.4"/>
<circle cx="391.2" cy="41.2" r="1.65" fill="#9696d2" fill-opacity="0.4"/>
<circle cx="438.8" cy="36.2" r="1.65" fill="#9696d2" fill-opacity="0.4"/>
<circle cx="436.8" cy="37.3" r="1.65" fill="#9696d2" fill-opacity="0.4"/>
<circle cx="382.9" cy="43.8" r="1.65" fill="#9696d2" fill-opacity="0.4"/>
<circle cx="427.8" cy="38.0" r="1.65" fill="#9696d2" fill-opacity="0.4"/>
<circle cx="357.5" cy="42.8" r="1.65" fill="#9696d2" fill-opacity="0.4"/>
<circle cx="372.1" cy="53.1" r="1.65" fill="#9696d2" fill-opacity="0.4"/>
<circle cx="375.9" cy="44.4" r="1.65" fill="#9696d2" fill-opacity="0.4"/>
<circle cx="373.0" cy="36.2" r="1.65" fill="#9696d2" fill-opacity="0.4"/>
<circle cx="374.5" cy="48.1" r="1.65" fill="#9696d2" fill-opacity="0.4"/>
<circle cx="410.1" cy="38.1" r="1.65" fill="#9696d2" fill-opacity="0.4"/>
<circle cx="374.4" cy="39.3" r="1.65" fill="#9696d2" fill-opacity="0.4"/>
<circle cx="428.1" cy="32.3" r="1.65" fill="#9696d2" fill-opacity="0.4"/>
<circle cx="362.7" cy="43.2" r="1.65" fill="#9696d2" fill-opacity="0.4"/>
<circle cx="421.5" cy="40.4" r="1.65" fill="#9696d2" fill-opacity="0.4"/>
<circle cx="387.2" cy="31.4" r="1.65" fill="#9696d2" fill-opacity="0.4"/>
<circle cx="401.7" cy="41.7" r="1.65" fill="#9696d2" fill-opacity="0.4"/>
<circle cx="399.3" cy="36.5" r="1.65" fill="#9696d2" fill-opacity="0.4"/>
<circle cx="373.7" cy="41.1" r="1.65" fill="#9696d2" fill-opacity="0.4"/>
<circle cx="370.8" cy="54.4" r="1.65" fill="#9696d2" fill-opacity="0.4"/>
<circle cx="356.8" cy="49.3" r="1.65" fill="#9696d2" fill-opacity="0.4"/>
<circle cx="403.1" cy="47.4" r="1.65" fill="#9696d2" fill-opacity="0.4"/>
<circle cx="429.2" cy="30.0" r="1.65" fill="#9696d2" fill-opacity="0.4"/>
<circle cx="418.8" cy="44.2" r="1.65" fill="#9696d2" fill-opacity="0.4"/>
<circle cx="363.4" cy="38.0" r="1.65" fill="#9696d2" fill-opacity="0.4"/>
<circle cx="399.8" cy="39.4" r="1.65" fill="#9696d2" fill-opacity="0.4"/>
<circle cx="405.8" cy="41.7" r="1.65" fill="#9696d2" fill-opacity="0.4"/>
<circle cx="376.8" cy="48.8" r="1.65" fill="#9696d2" fill-opacity="0.4"/>
<circle cx="379.1" cy="43.5" r="1.65" fill="#9696d2" fill-opacity="0.4"/>
<circle cx="365.4" cy="45.2" r="1.65" fill="#9696d2" fill-opacity="0.4"/>
<circle cx="357.9" cy="45.1" r="1.65" fill="#9696d2" fill-opacity="0.4"/>
<circle cx="402.9" cy="36.5" r="1.65" fill="#9696d2" fill-opacity="0.4"/>
<circle cx="433.5" cy="31.7" r="1.65" fill="#9696d2" fill-opacity="0.4"/>
<circle cx="367.1" cy="49.1" r="1.65" fill="#9696d2" fill-opacity="0.4"/>
<circle cx="382.0" cy="49.2" r="1.65" fill="#9696d2" fill-opacity="0.4"/>
<circle cx="374.6" cy="46.1" r="1.65" fill="#9696d2" fill-opacity="0.4"/>
<circle cx="373.1" cy="40.3" r="1.65" fill="#9696d2" fill-opacity="0.4"/>
<circle cx="367.5" cy="39.1" r="1.65" fill="#9696d2" fill-opacity="0.4"/>
<circle cx="374.9" cy="48.4" r="1.65" fill="#9696d2" fill-opacity="0.4"/>
<circle cx="374.8" cy="40.5" r="1.65" fill="#9696d2" fill-opacity="0.4"/>
<circle cx="367.0" cy="45.7" r="1.65" fill="#9696d2" fill-opacity="0.4"/>
<circle cx="369.0" cy="41.4" r="1.65" fill="#9696d2" fill-opacity="0.4"/>
<circle cx="376.8" cy="39.5" r="1.65" fill="#9696d2" fill-opacity="0.4"/>
<circle cx="370.8" cy="44.5" r="1.65" fill="#9696d2" fill-opacity="0.4"/>
<circle cx="370.4" cy="45.7" r="1.65" fill="#9696d2" fill-opacity="0.4"/>
<circle cx="377.4" cy="41.1" r="1.65" fill="#9696d2" fill-opacity="0.4"/>
<circle cx="376.7" cy="38.2" r="1.65" fill="#9696d2" fill-opacity="0.4"/>
<circle cx="372.6" cy="40.9" r="1.65" fill="#9696d2" fill-opacity="0.4"/>
<circle cx="364.5" cy="40.9" r="1.65" fill="#9696d2" fill-opacity="0.4"/>
<circle cx="374.1" cy="40.8" r="1.65" fill="#9696d2" fill-opacity="0.4"/>
<circle cx="368.3" cy="44.7" r="1.65" fill="#9696d2" fill-opacity="0.4"/>
<circle cx="369.6" cy="45.7" r="1.65" fill="#9696d2" fill-opacity="0.4"/>
<circle cx="374.9" cy="43.8" r="1.65" fill="#9696d2" fill-opacity="0.4"/>
<circle cx="371.4" cy="42.0" r="1.65" fill="#9696d2" fill-opacity="0.4"/>
<circle cx="377.1" cy="50.1" r="1.65" fill="#9696d2" fill-opacity="0.4"/>
<circle cx="438.2" cy="20.7" r="1.65" fill="#9696d2" fill-opacity="0.4"/>
<circle cx="433.3" cy="24.6" r="1.65" fill="#9696d2" fill-opacity="0.4"/>
<circle cx="441.7" cy="24.5" r="1.65" fill="#9696d2" fill-opacity="0.4"/>
<circle cx="441.2" cy="31.2" r="1.65" fill="#9696d2" fill-opacity="0.4"/>
<circle cx="436.6" cy="36.0" r="1.65" fill="#9696d2" fill-opacity="0.4"/>
<circle cx="436.4" cy="34.9" r="1.65" fill="#9696d2" fill-opacity="0.4"/>
<circle cx="440.7" cy="27.5" r="1.65" fill="#9696d2" fill-opacity="0.4"/>
<circle cx="437.0" cy="34.8" r="1.65" fill="#9696d2" fill-opacity="0.4"/>
<circle cx="430.3" cy="34.0" r="1.65" fill="#9696d2" fill-opacity="0.4"/>
<circle cx="436.4" cy="33.3" r="1.65" fill="#9696d2" fill-opacity="0.4"/>
<circle cx="436.1" cy="28.4" r="1.65" fill="#9696d2" fill-opacity="0.4"/>
<circle cx="430.8" cy="24.4" r="1.65" fill="#9696d2" fill-opacity="0.4"/>
<circle cx="434.6" cy="29.7" r="1.65" fill="#9696d2" fill-opacity="0.4"/>
<circle cx="433.4" cy="31.0" r="1.65" fill="#9696d2" fill-opacity="0.4"/>
<circle cx="437.9" cy="31.7" r="1.65" fill="#9696d2" fill-opacity="0.4"/>
<circle cx="365.7" cy="68.8" r="1.65" fill="#9696d2" fill-opacity="0.4"/>
<circle cx="364.2" cy="68.4" r="1.65" fill="#9696d2" fill-opacity="0.4"/>
<circle cx="365.0" cy="68.3" r="1.65" fill="#9696d2" fill-opacity="0.4"/>
<circle cx="362.8" cy="65.4" r="1.65" fill="#9696d2" fill-opacity="0.4"/>
<circle cx="363.8" cy="64.5" r="1.65" fill="#9696d2" fill-opacity="0.4"/>
<circle cx="364.5" cy="65.4" r="1.65" fill="#9696d2" fill-opacity="0.4"/>
<line x1="262.10" y1="67.40" x2="450.80" y2="67.40" stroke="#000" stroke-width="1.0" stroke-dasharray="3.5,1.8" stroke-dashoffset="0" stroke-linecap="butt"/>
<line x1="294.00" y1="0.50" x2="294.00" y2="163.10" stroke="#6cc46c" stroke-width="1.2" stroke-dasharray="4.44,1.92" stroke-dashoffset="4.88" stroke-linecap="butt"/>
<path d="M278.50,139.40 L278.69,138.28 L278.95,136.80 L279.25,135.04 L279.59,133.08 L279.95,130.99 L280.31,128.85 L280.67,126.72 L281.00,124.70 L281.32,122.71 L281.65,120.67 L281.97,118.59 L282.30,116.48 L282.63,114.37 L282.95,112.28 L283.28,110.21 L283.60,108.20 L283.92,106.21 L284.23,104.22 L284.54,102.24 L284.86,100.28 L285.17,98.36 L285.48,96.50 L285.79,94.71 L286.10,93.00 L286.42,91.37 L286.73,89.79 L287.06,88.27 L287.38,86.81 L287.69,85.41 L288.00,84.07 L288.31,82.80 L288.60,81.60 L288.88,80.47 L289.13,79.42 L289.38,78.44 L289.62,77.52 L289.86,76.66 L290.12,75.84 L290.40,75.06 L290.70,74.30 L291.03,73.58 L291.39,72.91 L291.77,72.28 L292.16,71.70 L292.55,71.15 L292.94,70.64 L293.33,70.16 L293.70,69.70 L294.06,69.30 L294.43,68.96 L294.80,68.67 L295.16,68.40 L295.51,68.14 L295.85,67.87 L296.18,67.56 L296.50,67.20 L296.79,66.81 L297.05,66.42 L297.30,66.01 L297.54,65.58 L297.78,65.12 L298.03,64.61 L298.30,64.04 L298.60,63.40 L298.93,62.68 L299.29,61.90 L299.66,61.05 L300.04,60.16 L300.44,59.23 L300.83,58.29 L301.22,57.34 L301.60,56.40 L301.97,55.47 L302.33,54.54 L302.69,53.59 L303.04,52.63 L303.41,51.65 L303.79,50.64 L304.18,49.59 L304.60,48.50 L305.05,47.32 L305.54,46.02 L306.05,44.66 L306.58,43.29 L307.09,41.95 L307.60,40.69 L308.07,39.55 L308.50,38.60 L308.87,37.81 L309.20,37.12 L309.49,36.54 L309.77,36.05 L310.05,35.65 L310.35,35.33 L310.70,35.08 L311.10,34.90 L311.55,34.81 L312.04,34.82 L312.55,34.93 L313.09,35.11 L313.66,35.34 L314.25,35.61 L314.87,35.90 L315.50,36.20 L316.17,36.51 L316.87,36.86 L317.60,37.25 L318.36,37.67 L319.12,38.12 L319.89,38.59 L320.65,39.08 L321.40,39.60 L322.14,40.16 L322.90,40.76 L323.65,41.41 L324.41,42.07 L325.15,42.74 L325.89,43.39 L326.61,44.02 L327.30,44.60 L327.97,45.16 L328.64,45.71 L329.28,46.24 L329.92,46.76 L330.54,47.25 L331.14,47.71 L331.73,48.13 L332.30,48.50 L332.84,48.83 L333.35,49.11 L333.83,49.37 L334.31,49.58 L334.78,49.76 L335.26,49.91 L335.76,50.02 L336.30,50.10 L336.86,50.13 L337.44,50.10 L338.03,50.04 L338.63,49.94 L339.25,49.82 L339.88,49.70 L340.53,49.59 L341.20,49.50 L341.89,49.41 L342.60,49.31 L343.33,49.20 L344.08,49.10 L344.84,49.01 L345.59,48.94 L346.35,48.90 L347.10,48.90 L347.86,48.95 L348.64,49.05 L349.43,49.19 L350.23,49.34 L351.00,49.51 L351.75,49.66 L352.45,49.80 L353.10,49.90 L353.69,49.97 L354.22,50.02 L354.71,50.05 L355.18,50.08 L355.62,50.10 L356.07,50.13 L356.52,50.16 L357.00,50.20 L357.48,50.27 L357.95,50.36 L358.41,50.47 L358.88,50.57 L359.36,50.66 L359.86,50.72 L360.41,50.74 L361.00,50.70 L361.63,50.61 L362.29,50.47 L362.99,50.30 L363.71,50.09 L364.46,49.87 L365.24,49.62 L366.05,49.36 L366.90,49.10 L367.79,48.82 L368.73,48.52 L369.72,48.19 L370.72,47.86 L371.75,47.51 L372.78,47.17 L373.80,46.83 L374.80,46.50 L375.75,46.19 L376.63,45.88 L377.50,45.58 L378.38,45.27 L379.30,44.97 L380.30,44.66 L381.43,44.34 L382.70,44.00 L384.14,43.65 L385.71,43.29 L387.39,42.93 L389.16,42.56 L390.98,42.18 L392.85,41.79 L394.73,41.40 L396.60,41.00 L398.48,40.59 L400.41,40.17 L402.38,39.73 L404.38,39.29 L406.38,38.86 L408.40,38.42 L410.41,38.00 L412.40,37.60 L414.39,37.21 L416.41,36.83 L418.43,36.46 L420.45,36.10 L422.46,35.74 L424.44,35.39 L426.39,35.04 L428.30,34.70 L430.25,34.34 L432.30,33.97 L434.37,33.59 L436.39,33.22 L438.29,32.87 L439.99,32.56 L441.42,32.30 L442.50,32.10" fill="none" stroke="#4c1d95" stroke-width="2.0" stroke-linejoin="round" stroke-linecap="butt"/>
</g>
<text x="294.00" y="153.70" font-size="7.31" font-weight="normal" text-anchor="middle" fill="#6cc46c" textLength="24.14" lengthAdjust="spacingAndGlyphs">324.84</text>
<rect x="262.1" y="0.5" width="188.7" height="162.6" fill="none" stroke="#000" stroke-width="0.9"/>
<line x1="278.90" y1="163.10" x2="278.90" y2="166.60" stroke="#000" stroke-width="0.9" stroke-linecap="butt"/>
<text x="278.90" y="176.00" font-size="8.69" font-weight="normal" text-anchor="middle" fill="#000" textLength="5.22" lengthAdjust="spacingAndGlyphs">0</text>
<line x1="325.57" y1="163.10" x2="325.57" y2="166.60" stroke="#000" stroke-width="0.9" stroke-linecap="butt"/>
<text x="325.57" y="176.00" font-size="8.69" font-weight="normal" text-anchor="middle" fill="#000" textLength="20.87" lengthAdjust="spacingAndGlyphs">1000</text>
<line x1="372.24" y1="163.10" x2="372.24" y2="166.60" stroke="#000" stroke-width="0.9" stroke-linecap="butt"/>
<text x="372.24" y="176.00" font-size="8.69" font-weight="normal" text-anchor="middle" fill="#000" textLength="20.87" lengthAdjust="spacingAndGlyphs">2000</text>
<line x1="418.91" y1="163.10" x2="418.91" y2="166.60" stroke="#000" stroke-width="0.9" stroke-linecap="butt"/>
<text x="418.91" y="176.00" font-size="8.69" font-weight="normal" text-anchor="middle" fill="#000" textLength="20.87" lengthAdjust="spacingAndGlyphs">3000</text>
<line x1="258.60" y1="151.11" x2="262.10" y2="151.11" stroke="#000" stroke-width="0.9" stroke-linecap="butt"/>
<text x="255.10" y="154.41" font-size="8.69" font-weight="normal" text-anchor="end" fill="#000" textLength="12.09" lengthAdjust="spacingAndGlyphs">−3</text>
<line x1="258.60" y1="123.24" x2="262.10" y2="123.24" stroke="#000" stroke-width="0.9" stroke-linecap="butt"/>
<text x="255.10" y="126.54" font-size="8.69" font-weight="normal" text-anchor="end" fill="#000" textLength="12.09" lengthAdjust="spacingAndGlyphs">−2</text>
<line x1="258.60" y1="95.37" x2="262.10" y2="95.37" stroke="#000" stroke-width="0.9" stroke-linecap="butt"/>
<text x="255.10" y="98.67" font-size="8.69" font-weight="normal" text-anchor="end" fill="#000" textLength="12.09" lengthAdjust="spacingAndGlyphs">−1</text>
<line x1="258.60" y1="67.50" x2="262.10" y2="67.50" stroke="#000" stroke-width="0.9" stroke-linecap="butt"/>
<text x="255.10" y="70.80" font-size="8.69" font-weight="normal" text-anchor="end" fill="#000" textLength="5.22" lengthAdjust="spacingAndGlyphs">0</text>
<line x1="258.60" y1="39.63" x2="262.10" y2="39.63" stroke="#000" stroke-width="0.9" stroke-linecap="butt"/>
<text x="255.10" y="42.93" font-size="8.69" font-weight="normal" text-anchor="end" fill="#000" textLength="5.22" lengthAdjust="spacingAndGlyphs">1</text>
<line x1="258.60" y1="11.76" x2="262.10" y2="11.76" stroke="#000" stroke-width="0.9" stroke-linecap="butt"/>
<text x="255.10" y="15.06" font-size="8.69" font-weight="normal" text-anchor="end" fill="#000" textLength="5.22" lengthAdjust="spacingAndGlyphs">2</text>
<text x="356.45" y="188.60" font-size="9.71" font-weight="normal" text-anchor="middle" fill="#000" textLength="45.83" lengthAdjust="spacingAndGlyphs">KD_militar</text>
<text x="237.80" y="81.80" font-size="9.66" font-weight="normal" text-anchor="middle" fill="#000" textLength="114.02" lengthAdjust="spacingAndGlyphs" transform="rotate(-90 237.80 81.80)">SHAP value for KD_militar</text>
<text x="268.40" y="14.80" font-size="9.30" font-weight="bold" text-anchor="start" fill="#000" textLength="15.32" lengthAdjust="spacingAndGlyphs">(b)</text>
<clipPath id="cc"><rect x="492.5" y="0.5" width="189.10000000000002" height="162.6"/></clipPath>
<g clip-path="url(#cc)">
<rect x="501.3" y="0.5" width="77.30000000000001" height="162.6" fill="#e3e0ef"/>
<circle cx="529.3" cy="115.2" r="1.65" fill="#9696d2" fill-opacity="0.4"/>
<circle cx="524.4" cy="120.2" r="1.65" fill="#9696d2" fill-opacity="0.4"/>
<circle cx="522.1" cy="110.2" r="1.65" fill="#9696d2" fill-opacity="0.4"/>
<circle cx="515.3" cy="107.3" r="1.65" fill="#9696d2" fill-opacity="0.4"/>
<circle cx="523.4" cy="112.6" r="1.65" fill="#9696d2" fill-opacity="0.4"/>
<circle cx="525.6" cy="100.4" r="1.65" fill="#9696d2" fill-opacity="0.4"/>
<circle cx="518.6" cy="128.4" r="1.65" fill="#9696d2" fill-opacity="0.4"/>
<circle cx="515.2" cy="118.4" r="1.65" fill="#9696d2" fill-opacity="0.4"/>
<circle cx="522.7" cy="109.4" r="1.65" fill="#9696d2" fill-opacity="0.4"/>
<circle cx="537.6" cy="109.8" r="1.65" fill="#9696d2" fill-opacity="0.4"/>
<circle cx="531.2" cy="105.2" r="1.65" fill="#9696d2" fill-opacity="0.4"/>
<circle cx="510.0" cy="128.8" r="1.65" fill="#9696d2" fill-opacity="0.4"/>
<circle cx="521.2" cy="102.0" r="1.65" fill="#9696d2" fill-opacity="0.4"/>
<circle cx="519.6" cy="114.5" r="1.65" fill="#9696d2" fill-opacity="0.4"/>
<circle cx="530.1" cy="103.6" r="1.65" fill="#9696d2" fill-opacity="0.4"/>
<circle cx="514.8" cy="131.7" r="1.65" fill="#9696d2" fill-opacity="0.4"/>
<circle cx="530.2" cy="105.1" r="1.65" fill="#9696d2" fill-opacity="0.4"/>
<circle cx="518.1" cy="111.6" r="1.65" fill="#9696d2" fill-opacity="0.4"/>
<circle cx="528.3" cy="120.3" r="1.65" fill="#9696d2" fill-opacity="0.4"/>
<circle cx="533.5" cy="127.1" r="1.65" fill="#9696d2" fill-opacity="0.4"/>
<circle cx="523.5" cy="124.4" r="1.65" fill="#9696d2" fill-opacity="0.4"/>
<circle cx="530.3" cy="125.1" r="1.65" fill="#9696d2" fill-opacity="0.4"/>
<circle cx="522.3" cy="125.9" r="1.65" fill="#9696d2" fill-opacity="0.4"/>
<circle cx="529.3" cy="130.2" r="1.65" fill="#9696d2" fill-opacity="0.4"/>
<circle cx="511.8" cy="128.7" r="1.65" fill="#9696d2" fill-opacity="0.4"/>
<circle cx="538.1" cy="120.9" r="1.65" fill="#9696d2" fill-opacity="0.4"/>
<circle cx="549.7" cy="109.4" r="1.65" fill="#9696d2" fill-opacity="0.4"/>
<circle cx="557.3" cy="112.6" r="1.65" fill="#9696d2" fill-opacity="0.4"/>
<circle cx="546.4" cy="121.7" r="1.65" fill="#9696d2" fill-opacity="0.4"/>
<circle cx="555.5" cy="114.1" r="1.65" fill="#9696d2" fill-opacity="0.4"/>
<circle cx="545.6" cy="107.4" r="1.65" fill="#9696d2" fill-opacity="0.4"/>
<circle cx="547.2" cy="119.1" r="1.65" fill="#9696d2" fill-opacity="0.4"/>
<circle cx="543.9" cy="104.8" r="1.65" fill="#9696d2" fill-opacity="0.4"/>
<circle cx="549.1" cy="104.5" r="1.65" fill="#9696d2" fill-opacity="0.4"/>
<circle cx="544.4" cy="121.8" r="1.65" fill="#9696d2" fill-opacity="0.4"/>
<circle cx="555.0" cy="109.5" r="1.65" fill="#9696d2" fill-opacity="0.4"/>
<circle cx="546.9" cy="95.9" r="1.65" fill="#9696d2" fill-opacity="0.4"/>
<circle cx="544.1" cy="94.2" r="1.65" fill="#9696d2" fill-opacity="0.4"/>
<circle cx="549.5" cy="113.0" r="1.65" fill="#9696d2" fill-opacity="0.4"/>
<circle cx="539.8" cy="127.6" r="1.65" fill="#9696d2" fill-opacity="0.4"/>
<circle cx="544.5" cy="124.3" r="1.65" fill="#9696d2" fill-opacity="0.4"/>
<circle cx="554.8" cy="129.2" r="1.65" fill="#9696d2" fill-opacity="0.4"/>
<circle cx="542.1" cy="106.3" r="1.65" fill="#9696d2" fill-opacity="0.4"/>
<circle cx="556.2" cy="88.5" r="1.65" fill="#9696d2" fill-opacity="0.4"/>
<circle cx="538.9" cy="112.3" r="1.65" fill="#9696d2" fill-opacity="0.4"/>
<circle cx="547.9" cy="127.6" r="1.65" fill="#9696d2" fill-opacity="0.4"/>
<circle cx="553.5" cy="111.2" r="1.65" fill="#9696d2" fill-opacity="0.4"/>
<circle cx="558.0" cy="110.3" r="1.65" fill="#9696d2" fill-opacity="0.4"/>
<circle cx="548.3" cy="117.5" r="1.65" fill="#9696d2" fill-opacity="0.4"/>
<circle cx="545.8" cy="103.4" r="1.65" fill="#9696d2" fill-opacity="0.4"/>
<circle cx="549.9" cy="103.1" r="1.65" fill="#9696d2" fill-opacity="0.4"/>
<circle cx="557.0" cy="117.1" r="1.65" fill="#9696d2" fill-opacity="0.4"/>
<circle cx="548.5" cy="92.3" r="1.65" fill="#9696d2" fill-opacity="0.4"/>
<circle cx="545.5" cy="105.2" r="1.65" fill="#9696d2" fill-opacity="0.4"/>
<circle cx="549.2" cy="112.7" r="1.65" fill="#9696d2" fill-opacity="0.4"/>
<circle cx="555.6" cy="129.5" r="1.65" fill="#9696d2" fill-opacity="0.4"/>
<circle cx="547.7" cy="106.9" r="1.65" fill="#9696d2" fill-opacity="0.4"/>
<circle cx="550.5" cy="130.8" r="1.65" fill="#9696d2" fill-opacity="0.4"/>
<circle cx="544.9" cy="110.8" r="1.65" fill="#9696d2" fill-opacity="0.4"/>
<circle cx="554.3" cy="95.3" r="1.65" fill="#9696d2" fill-opacity="0.4"/>
<circle cx="544.4" cy="130.1" r="1.65" fill="#9696d2" fill-opacity="0.4"/>
<circle cx="554.5" cy="110.0" r="1.65" fill="#9696d2" fill-opacity="0.4"/>
<circle cx="540.2" cy="126.5" r="1.65" fill="#9696d2" fill-opacity="0.4"/>
<circle cx="551.8" cy="123.3" r="1.65" fill="#9696d2" fill-opacity="0.4"/>
<circle cx="557.8" cy="126.2" r="1.65" fill="#9696d2" fill-opacity="0.4"/>
<circle cx="546.4" cy="94.7" r="1.65" fill="#9696d2" fill-opacity="0.4"/>
<circle cx="543.8" cy="110.0" r="1.65" fill="#9696d2" fill-opacity="0.4"/>
<circle cx="548.1" cy="96.1" r="1.65" fill="#9696d2" fill-opacity="0.4"/>
<circle cx="541.6" cy="115.1" r="1.65" fill="#9696d2" fill-opacity="0.4"/>
<circle cx="550.1" cy="103.2" r="1.65" fill="#9696d2" fill-opacity="0.4"/>
<circle cx="551.7" cy="85.8" r="1.65" fill="#9696d2" fill-opacity="0.4"/>
<circle cx="550.0" cy="86.8" r="1.65" fill="#9696d2" fill-opacity="0.4"/>
<circle cx="546.8" cy="83.5" r="1.65" fill="#9696d2" fill-opacity="0.4"/>
<circle cx="545.9" cy="85.8" r="1.65" fill="#9696d2" fill-opacity="0.4"/>
<circle cx="543.4" cy="91.4" r="1.65" fill="#9696d2" fill-opacity="0.4"/>
<circle cx="540.9" cy="83.7" r="1.65" fill="#9696d2" fill-opacity="0.4"/>
<circle cx="547.5" cy="89.3" r="1.65" fill="#9696d2" fill-opacity="0.4"/>
<circle cx="543.0" cy="85.2" r="1.65" fill="#9696d2" fill-opacity="0.4"/>
<circle cx="570.9" cy="122.8" r="1.65" fill="#9696d2" fill-opacity="0.4"/>
<circle cx="577.9" cy="125.3" r="1.65" fill="#9696d2" fill-opacity="0.4"/>
<circle cx="566.2" cy="99.0" r="1.65" fill="#9696d2" fill-opacity="0.4"/>
<circle cx="561.1" cy="136.1" r="1.65" fill="#9696d2" fill-opacity="0.4"/>
<circle cx="560.1" cy="97.8" r="1.65" fill="#9696d2" fill-opacity="0.4"/>
<circle cx="561.4" cy="122.3" r="1.65" fill="#9696d2" fill-opacity="0.4"/>
<circle cx="574.5" cy="127.6" r="1.65" fill="#9696d2" fill-opacity="0.4"/>
<circle cx="574.1" cy="95.6" r="1.65" fill="#9696d2" fill-opacity="0.4"/>
<circle cx="558.2" cy="136.7" r="1.65" fill="#9696d2" fill-opacity="0.4"/>
<circle cx="564.5" cy="133.5" r="1.65" fill="#9696d2" fill-opacity="0.4"/>
<circle cx="565.1" cy="101.8" r="1.65" fill="#9696d2" fill-opacity="0.4"/>
<circle cx="563.3" cy="97.8" r="1.65" fill="#9696d2" fill-opacity="0.4"/>
<circle cx="576.1" cy="125.8" r="1.65" fill="#9696d2" fill-opacity="0.4"/>
<circle cx="565.0" cy="118.1" r="1.65" fill="#9696d2" fill-opacity="0.4"/>
<circle cx="565.7" cy="95.2" r="1.65" fill="#9696d2" fill-opacity="0.4"/>
<circle cx="575.8" cy="125.8" r="1.65" fill="#9696d2" fill-opacity="0.4"/>
<circle cx="577.2" cy="117.5" r="1.65" fill="#9696d2" fill-opacity="0.4"/>
<circle cx="570.4" cy="106.5" r="1.65" fill="#9696d2" fill-opacity="0.4"/>
<circle cx="558.9" cy="146.0" r="1.65" fill="#9696d2" fill-opacity="0.4"/>
<circle cx="575.1" cy="110.3" r="1.65" fill="#9696d2" fill-opacity="0.4"/>
<circle cx="576.0" cy="139.3" r="1.65" fill="#9696d2" fill-opacity="0.4"/>
<circle cx="564.1" cy="126.9" r="1.65" fill="#9696d2" fill-opacity="0.4"/>
<circle cx="577.2" cy="120.7" r="1.65" fill="#9696d2" fill-opacity="0.4"/>
<circle cx="577.0" cy="106.1" r="1.65" fill="#9696d2" fill-opacity="0.4"/>
<circle cx="565.8" cy="133.7" r="1.65" fill="#9696d2" fill-opacity="0.4"/>
<circle cx="562.4" cy="109.9" r="1.65" fill="#9696d2" fill-opacity="0.4"/>
<circle cx="575.5" cy="120.1" r="1.65" fill="#9696d2" fill-opacity="0.4"/>
<circle cx="573.9" cy="106.1" r="1.65" fill="#9696d2" fill-opacity="0.4"/>
<circle cx="561.5" cy="112.8" r="1.65" fill="#9696d2" fill-opacity="0.4"/>
<circle cx="561.7" cy="148.3" r="1.65" fill="#9696d2" fill-opacity="0.4"/>
<circle cx="563.8" cy="124.6" r="1.65" fill="#9696d2" fill-opacity="0.4"/>
<circle cx="560.3" cy="123.0" r="1.65" fill="#9696d2" fill-opacity="0.4"/>
<circle cx="565.7" cy="115.4" r="1.65" fill="#9696d2" fill-opacity="0.4"/>
<circle cx="559.3" cy="99.2" r="1.65" fill="#9696d2" fill-opacity="0.4"/>
<circle cx="574.5" cy="112.4" r="1.65" fill="#9696d2" fill-opacity="0.4"/>
<circle cx="562.9" cy="103.1" r="1.65" fill="#9696d2" fill-opacity="0.4"/>
<circle cx="563.7" cy="105.8" r="1.65" fill="#9696d2" fill-opacity="0.4"/>
<circle cx="558.7" cy="130.5" r="1.65" fill="#9696d2" fill-opacity="0.4"/>
<circle cx="564.8" cy="101.0" r="1.65" fill="#9696d2" fill-opacity="0.4"/>
<circle cx="572.1" cy="97.4" r="1.65" fill="#9696d2" fill-opacity="0.4"/>
<circle cx="563.4" cy="140.4" r="1.65" fill="#9696d2" fill-opacity="0.4"/>
<circle cx="560.6" cy="117.7" r="1.65" fill="#9696d2" fill-opacity="0.4"/>
<circle cx="574.7" cy="138.7" r="1.65" fill="#9696d2" fill-opacity="0.4"/>
<circle cx="561.2" cy="112.5" r="1.65" fill="#9696d2" fill-opacity="0.4"/>
<circle cx="572.4" cy="113.9" r="1.65" fill="#9696d2" fill-opacity="0.4"/>
<circle cx="577.2" cy="104.1" r="1.65" fill="#9696d2" fill-opacity="0.4"/>
<circle cx="577.0" cy="121.3" r="1.65" fill="#9696d2" fill-opacity="0.4"/>
<circle cx="562.5" cy="118.3" r="1.65" fill="#9696d2" fill-opacity="0.4"/>
<circle cx="560.6" cy="133.0" r="1.65" fill="#9696d2" fill-opacity="0.4"/>
<circle cx="563.2" cy="144.2" r="1.65" fill="#9696d2" fill-opacity="0.4"/>
<circle cx="569.8" cy="113.3" r="1.65" fill="#9696d2" fill-opacity="0.4"/>
<circle cx="562.9" cy="127.3" r="1.65" fill="#9696d2" fill-opacity="0.4"/>
<circle cx="562.3" cy="142.6" r="1.65" fill="#9696d2" fill-opacity="0.4"/>
<circle cx="560.5" cy="121.8" r="1.65" fill="#9696d2" fill-opacity="0.4"/>
<circle cx="568.9" cy="107.7" r="1.65" fill="#9696d2" fill-opacity="0.4"/>
<circle cx="573.4" cy="114.3" r="1.65" fill="#9696d2" fill-opacity="0.4"/>
<circle cx="571.2" cy="124.9" r="1.65" fill="#9696d2" fill-opacity="0.4"/>
<circle cx="564.2" cy="114.6" r="1.65" fill="#9696d2" fill-opacity="0.4"/>
<circle cx="559.7" cy="102.3" r="1.65" fill="#9696d2" fill-opacity="0.4"/>
<circle cx="575.0" cy="110.6" r="1.65" fill="#9696d2" fill-opacity="0.4"/>
<circle cx="569.3" cy="121.9" r="1.65" fill="#9696d2" fill-opacity="0.4"/>
<circle cx="567.5" cy="122.4" r="1.65" fill="#9696d2" fill-opacity="0.4"/>
<circle cx="567.6" cy="126.0" r="1.65" fill="#9696d2" fill-opacity="0.4"/>
<circle cx="572.2" cy="129.5" r="1.65" fill="#9696d2" fill-opacity="0.4"/>
<circle cx="570.2" cy="131.1" r="1.65" fill="#9696d2" fill-opacity="0.4"/>
<circle cx="569.5" cy="118.0" r="1.65" fill="#9696d2" fill-opacity="0.4"/>
<circle cx="565.0" cy="138.5" r="1.65" fill="#9696d2" fill-opacity="0.4"/>
<circle cx="570.9" cy="105.5" r="1.65" fill="#9696d2" fill-opacity="0.4"/>
<circle cx="571.0" cy="121.9" r="1.65" fill="#9696d2" fill-opacity="0.4"/>
<circle cx="569.9" cy="128.4" r="1.65" fill="#9696d2" fill-opacity="0.4"/>
<circle cx="568.2" cy="112.7" r="1.65" fill="#9696d2" fill-opacity="0.4"/>
<circle cx="568.3" cy="134.3" r="1.65" fill="#9696d2" fill-opacity="0.4"/>
<circle cx="567.7" cy="113.0" r="1.65" fill="#9696d2" fill-opacity="0.4"/>
<circle cx="570.1" cy="145.4" r="1.65" fill="#9696d2" fill-opacity="0.4"/>
<circle cx="567.6" cy="137.3" r="1.65" fill="#9696d2" fill-opacity="0.4"/>
<circle cx="570.6" cy="130.5" r="1.65" fill="#9696d2" fill-opacity="0.4"/>
<circle cx="573.9" cy="117.5" r="1.65" fill="#9696d2" fill-opacity="0.4"/>
<circle cx="569.8" cy="123.2" r="1.65" fill="#9696d2" fill-opacity="0.4"/>
<circle cx="571.6" cy="127.5" r="1.65" fill="#9696d2" fill-opacity="0.4"/>
<circle cx="570.8" cy="134.0" r="1.65" fill="#9696d2" fill-opacity="0.4"/>
<circle cx="569.4" cy="127.9" r="1.65" fill="#9696d2" fill-opacity="0.4"/>
<circle cx="568.5" cy="139.2" r="1.65" fill="#9696d2" fill-opacity="0.4"/>
<circle cx="572.3" cy="143.3" r="1.65" fill="#9696d2" fill-opacity="0.4"/>
<circle cx="566.0" cy="119.2" r="1.65" fill="#9696d2" fill-opacity="0.4"/>
<circle cx="569.9" cy="136.7" r="1.65" fill="#9696d2" fill-opacity="0.4"/>
<circle cx="569.0" cy="117.5" r="1.65" fill="#9696d2" fill-opacity="0.4"/>
<circle cx="575.3" cy="126.1" r="1.65" fill="#9696d2" fill-opacity="0.4"/>
<circle cx="570.4" cy="117.9" r="1.65" fill="#9696d2" fill-opacity="0.4"/>
<circle cx="575.3" cy="131.2" r="1.65" fill="#9696d2" fill-opacity="0.4"/>
<circle cx="569.3" cy="124.1" r="1.65" fill="#9696d2" fill-opacity="0.4"/>
<circle cx="570.0" cy="130.9" r="1.65" fill="#9696d2" fill-opacity="0.4"/>
<circle cx="570.5" cy="119.4" r="1.65" fill="#9696d2" fill-opacity="0.4"/>
<circle cx="574.0" cy="117.5" r="1.65" fill="#9696d2" fill-opacity="0.4"/>
<circle cx="573.7" cy="133.9" r="1.65" fill="#9696d2" fill-opacity="0.4"/>
<circle cx="566.4" cy="136.3" r="1.65" fill="#9696d2" fill-opacity="0.4"/>
<circle cx="571.1" cy="118.8" r="1.65" fill="#9696d2" fill-opacity="0.4"/>
<circle cx="575.7" cy="139.0" r="1.65" fill="#9696d2" fill-opacity="0.4"/>
<circle cx="564.3" cy="136.6" r="1.65" fill="#9696d2" fill-opacity="0.4"/>
<circle cx="568.4" cy="110.7" r="1.65" fill="#9696d2" fill-opacity="0.4"/>
<circle cx="571.9" cy="113.7" r="1.65" fill="#9696d2" fill-opacity="0.4"/>
<circle cx="569.1" cy="127.0" r="1.65" fill="#9696d2" fill-opacity="0.4"/>
<circle cx="569.1" cy="116.0" r="1.65" fill="#9696d2" fill-opacity="0.4"/>
<circle cx="563.6" cy="124.3" r="1.65" fill="#9696d2" fill-opacity="0.4"/>
<circle cx="573.3" cy="138.2" r="1.65" fill="#9696d2" fill-opacity="0.4"/>
<circle cx="574.2" cy="130.2" r="1.65" fill="#9696d2" fill-opacity="0.4"/>
<circle cx="570.7" cy="118.7" r="1.65" fill="#9696d2" fill-opacity="0.4"/>
<circle cx="562.9" cy="118.4" r="1.65" fill="#9696d2" fill-opacity="0.4"/>
<circle cx="567.7" cy="116.5" r="1.65" fill="#9696d2" fill-opacity="0.4"/>
<circle cx="570.0" cy="129.5" r="1.65" fill="#9696d2" fill-opacity="0.4"/>
<circle cx="568.2" cy="134.0" r="1.65" fill="#9696d2" fill-opacity="0.4"/>
<circle cx="570.7" cy="134.2" r="1.65" fill="#9696d2" fill-opacity="0.4"/>
<circle cx="572.9" cy="137.9" r="1.65" fill="#9696d2" fill-opacity="0.4"/>
<circle cx="569.0" cy="119.5" r="1.65" fill="#9696d2" fill-opacity="0.4"/>
<circle cx="570.2" cy="138.0" r="1.65" fill="#9696d2" fill-opacity="0.4"/>
<circle cx="563.8" cy="133.9" r="1.65" fill="#9696d2" fill-opacity="0.4"/>
<circle cx="568.6" cy="132.8" r="1.65" fill="#9696d2" fill-opacity="0.4"/>
<circle cx="571.2" cy="122.3" r="1.65" fill="#9696d2" fill-opacity="0.4"/>
<circle cx="567.7" cy="122.5" r="1.65" fill="#9696d2" fill-opacity="0.4"/>
<circle cx="571.4" cy="114.4" r="1.65" fill="#9696d2" fill-opacity="0.4"/>
<circle cx="570.1" cy="119.9" r="1.65" fill="#9696d2" fill-opacity="0.4"/>
<circle cx="568.1" cy="114.3" r="1.65" fill="#9696d2" fill-opacity="0.4"/>
<circle cx="565.4" cy="130.1" r="1.65" fill="#9696d2" fill-opacity="0.4"/>
<circle cx="570.7" cy="121.7" r="1.65" fill="#9696d2" fill-opacity="0.4"/>
<circle cx="569.4" cy="135.2" r="1.65" fill="#9696d2" fill-opacity="0.4"/>
<circle cx="570.3" cy="129.4" r="1.65" fill="#9696d2" fill-opacity="0.4"/>
<circle cx="569.6" cy="132.5" r="1.65" fill="#9696d2" fill-opacity="0.4"/>
<circle cx="569.1" cy="115.6" r="1.65" fill="#9696d2" fill-opacity="0.4"/>
<circle cx="571.9" cy="131.8" r="1.65" fill="#9696d2" fill-opacity="0.4"/>
<circle cx="567.4" cy="127.9" r="1.65" fill="#9696d2" fill-opacity="0.4"/>
<circle cx="570.5" cy="129.4" r="1.65" fill="#9696d2" fill-opacity="0.4"/>
<circle cx="579.2" cy="99.6" r="1.65" fill="#9696d2" fill-opacity="0.4"/>
<circle cx="579.5" cy="70.8" r="1.65" fill="#9696d2" fill-opacity="0.4"/>
<circle cx="590.9" cy="60.4" r="1.65" fill="#9696d2" fill-opacity="0.4"/>
<circle cx="587.8" cy="71.8" r="1.65" fill="#9696d2" fill-opacity="0.4"/>
<circle cx="578.9" cy="95.0" r="1.65" fill="#9696d2" fill-opacity="0.4"/>
<circle cx="592.6" cy="47.2" r="1.65" fill="#9696d2" fill-opacity="0.4"/>
<circle cx="583.5" cy="80.0" r="1.65" fill="#9696d2" fill-opacity="0.4"/>
<circle cx="578.8" cy="83.3" r="1.65" fill="#9696d2" fill-opacity="0.4"/>
<circle cx="584.9" cy="82.5" r="1.65" fill="#9696d2" fill-opacity="0.4"/>
<circle cx="596.9" cy="41.3" r="1.65" fill="#9696d2" fill-opacity="0.4"/>
<circle cx="595.7" cy="34.1" r="1.65" fill="#9696d2" fill-opacity="0.4"/>
<circle cx="585.6" cy="83.4" r="1.65" fill="#9696d2" fill-opacity="0.4"/>
<circle cx="584.5" cy="77.6" r="1.65" fill="#9696d2" fill-opacity="0.4"/>
<circle cx="586.3" cy="61.5" r="1.65" fill="#9696d2" fill-opacity="0.4"/>
<circle cx="578.1" cy="92.5" r="1.65" fill="#9696d2" fill-opacity="0.4"/>
<circle cx="595.7" cy="27.7" r="1.65" fill="#9696d2" fill-opacity="0.4"/>
<circle cx="598.1" cy="41.3" r="1.65" fill="#9696d2" fill-opacity="0.4"/>
<circle cx="581.2" cy="94.9" r="1.65" fill="#9696d2" fill-opacity="0.4"/>
<circle cx="579.6" cy="88.7" r="1.65" fill="#9696d2" fill-opacity="0.4"/>
<circle cx="588.0" cy="61.2" r="1.65" fill="#9696d2" fill-opacity="0.4"/>
<circle cx="578.5" cy="99.1" r="1.65" fill="#9696d2" fill-opacity="0.4"/>
<circle cx="595.1" cy="48.3" r="1.65" fill="#9696d2" fill-opacity="0.4"/>
<circle cx="597.0" cy="34.9" r="1.65" fill="#9696d2" fill-opacity="0.4"/>
<circle cx="583.9" cy="64.9" r="1.65" fill="#9696d2" fill-opacity="0.4"/>
<circle cx="586.9" cy="70.6" r="1.65" fill="#9696d2" fill-opacity="0.4"/>
<circle cx="593.3" cy="34.9" r="1.65" fill="#9696d2" fill-opacity="0.4"/>
<circle cx="581.4" cy="92.5" r="1.65" fill="#9696d2" fill-opacity="0.4"/>
<circle cx="590.2" cy="58.8" r="1.65" fill="#9696d2" fill-opacity="0.4"/>
<circle cx="579.6" cy="100.6" r="1.65" fill="#9696d2" fill-opacity="0.4"/>
<circle cx="600.4" cy="31.7" r="1.65" fill="#9696d2" fill-opacity="0.4"/>
<circle cx="600.2" cy="37.7" r="1.65" fill="#9696d2" fill-opacity="0.4"/>
<circle cx="596.7" cy="49.1" r="1.65" fill="#9696d2" fill-opacity="0.4"/>
<circle cx="591.2" cy="62.4" r="1.65" fill="#9696d2" fill-opacity="0.4"/>
<circle cx="598.1" cy="42.2" r="1.65" fill="#9696d2" fill-opacity="0.4"/>
<circle cx="583.9" cy="85.6" r="1.65" fill="#9696d2" fill-opacity="0.4"/>
<circle cx="579.0" cy="109.6" r="1.65" fill="#9696d2" fill-opacity="0.4"/>
<circle cx="588.6" cy="67.6" r="1.65" fill="#9696d2" fill-opacity="0.4"/>
<circle cx="585.6" cy="62.5" r="1.65" fill="#9696d2" fill-opacity="0.4"/>
<circle cx="589.1" cy="53.2" r="1.65" fill="#9696d2" fill-opacity="0.4"/>
<circle cx="581.0" cy="104.7" r="1.65" fill="#9696d2" fill-opacity="0.4"/>
<circle cx="591.0" cy="65.7" r="1.65" fill="#9696d2" fill-opacity="0.4"/>
<circle cx="584.2" cy="81.0" r="1.65" fill="#9696d2" fill-opacity="0.4"/>
<circle cx="582.8" cy="76.3" r="1.65" fill="#9696d2" fill-opacity="0.4"/>
<circle cx="582.7" cy="76.2" r="1.65" fill="#9696d2" fill-opacity="0.4"/>
<circle cx="589.1" cy="55.7" r="1.65" fill="#9696d2" fill-opacity="0.4"/>
<circle cx="587.6" cy="68.0" r="1.65" fill="#9696d2" fill-opacity="0.4"/>
<circle cx="596.1" cy="38.8" r="1.65" fill="#9696d2" fill-opacity="0.4"/>
<circle cx="596.0" cy="62.9" r="1.65" fill="#9696d2" fill-opacity="0.4"/>
<circle cx="594.8" cy="57.1" r="1.65" fill="#9696d2" fill-opacity="0.4"/>
<circle cx="587.3" cy="83.1" r="1.65" fill="#9696d2" fill-opacity="0.4"/>
<circle cx="590.4" cy="50.3" r="1.65" fill="#9696d2" fill-opacity="0.4"/>
<circle cx="595.5" cy="48.1" r="1.65" fill="#9696d2" fill-opacity="0.4"/>
<circle cx="587.0" cy="67.5" r="1.65" fill="#9696d2" fill-opacity="0.4"/>
<circle cx="582.4" cy="91.1" r="1.65" fill="#9696d2" fill-opacity="0.4"/>
<circle cx="588.0" cy="55.8" r="1.65" fill="#9696d2" fill-opacity="0.4"/>
<circle cx="594.2" cy="50.1" r="1.65" fill="#9696d2" fill-opacity="0.4"/>
<circle cx="594.8" cy="55.7" r="1.65" fill="#9696d2" fill-opacity="0.4"/>
<circle cx="584.4" cy="53.4" r="1.65" fill="#9696d2" fill-opacity="0.4"/>
<circle cx="586.8" cy="53.7" r="1.65" fill="#9696d2" fill-opacity="0.4"/>
<circle cx="591.5" cy="54.9" r="1.65" fill="#9696d2" fill-opacity="0.4"/>
<circle cx="583.7" cy="46.7" r="1.65" fill="#9696d2" fill-opacity="0.4"/>
<circle cx="592.3" cy="57.1" r="1.65" fill="#9696d2" fill-opacity="0.4"/>
<circle cx="592.1" cy="40.8" r="1.65" fill="#9696d2" fill-opacity="0.4"/>
<circle cx="590.5" cy="41.8" r="1.65" fill="#9696d2" fill-opacity="0.4"/>
<circle cx="589.7" cy="54.5" r="1.65" fill="#9696d2" fill-opacity="0.4"/>
<circle cx="583.6" cy="56.7" r="1.65" fill="#9696d2" fill-opacity="0.4"/>
<circle cx="591.5" cy="44.6" r="1.65" fill="#9696d2" fill-opacity="0.4"/>
<circle cx="584.7" cy="48.0" r="1.65" fill="#9696d2" fill-opacity="0.4"/>
<circle cx="593.7" cy="50.5" r="1.65" fill="#9696d2" fill-opacity="0.4"/>
<circle cx="583.6" cy="40.4" r="1.65" fill="#9696d2" fill-opacity="0.4"/>
<circle cx="583.5" cy="54.4" r="1.65" fill="#9696d2" fill-opacity="0.4"/>
<circle cx="584.6" cy="50.0" r="1.65" fill="#9696d2" fill-opacity="0.4"/>
<circle cx="586.1" cy="52.4" r="1.65" fill="#9696d2" fill-opacity="0.4"/>
<circle cx="587.3" cy="42.6" r="1.65" fill="#9696d2" fill-opacity="0.4"/>
<circle cx="594.3" cy="49.7" r="1.65" fill="#9696d2" fill-opacity="0.4"/>
<circle cx="591.7" cy="54.5" r="1.65" fill="#9696d2" fill-opacity="0.4"/>
<circle cx="595.3" cy="40.2" r="1.65" fill="#9696d2" fill-opacity="0.4"/>
<circle cx="586.8" cy="42.7" r="1.65" fill="#9696d2" fill-opacity="0.4"/>
<circle cx="589.0" cy="55.7" r="1.65" fill="#9696d2" fill-opacity="0.4"/>
<circle cx="593.2" cy="40.6" r="1.65" fill="#9696d2" fill-opacity="0.4"/>
<circle cx="593.5" cy="29.6" r="1.65" fill="#9696d2" fill-opacity="0.4"/>
<circle cx="602.9" cy="19.4" r="1.65" fill="#9696d2" fill-opacity="0.4"/>
<circle cx="599.0" cy="13.8" r="1.65" fill="#9696d2" fill-opacity="0.4"/>
<circle cx="606.1" cy="19.4" r="1.65" fill="#9696d2" fill-opacity="0.4"/>
<circle cx="606.6" cy="24.7" r="1.65" fill="#9696d2" fill-opacity="0.4"/>
<circle cx="591.4" cy="17.9" r="1.65" fill="#9696d2" fill-opacity="0.4"/>
<circle cx="594.1" cy="31.5" r="1.65" fill="#9696d2" fill-opacity="0.4"/>
<circle cx="601.2" cy="11.0" r="1.65" fill="#9696d2" fill-opacity="0.4"/>
<circle cx="593.2" cy="18.7" r="1.65" fill="#9696d2" fill-opacity="0.4"/>
<circle cx="598.9" cy="23.8" r="1.65" fill="#9696d2" fill-opacity="0.4"/>
<circle cx="597.4" cy="18.5" r="1.65" fill="#9696d2" fill-opacity="0.4"/>
<circle cx="590.1" cy="23.9" r="1.65" fill="#9696d2" fill-opacity="0.4"/>
<circle cx="596.3" cy="10.5" r="1.65" fill="#9696d2" fill-opacity="0.4"/>
<circle cx="598.7" cy="33.7" r="1.65" fill="#9696d2" fill-opacity="0.4"/>
<circle cx="590.9" cy="13.5" r="1.65" fill="#9696d2" fill-opacity="0.4"/>
<circle cx="602.7" cy="16.5" r="1.65" fill="#9696d2" fill-opacity="0.4"/>
<circle cx="595.2" cy="22.0" r="1.65" fill="#9696d2" fill-opacity="0.4"/>
<circle cx="595.0" cy="23.7" r="1.65" fill="#9696d2" fill-opacity="0.4"/>
<circle cx="600.0" cy="33.0" r="1.65" fill="#9696d2" fill-opacity="0.4"/>
<circle cx="608.9" cy="10.8" r="1.65" fill="#9696d2" fill-opacity="0.4"/>
<circle cx="600.7" cy="28.5" r="1.65" fill="#9696d2" fill-opacity="0.4"/>
<circle cx="606.6" cy="28.6" r="1.65" fill="#9696d2" fill-opacity="0.4"/>
<circle cx="602.0" cy="25.2" r="1.65" fill="#9696d2" fill-opacity="0.4"/>
<circle cx="596.9" cy="16.8" r="1.65" fill="#9696d2" fill-opacity="0.4"/>
<circle cx="605.1" cy="30.9" r="1.65" fill="#9696d2" fill-opacity="0.4"/>
<circle cx="607.8" cy="26.4" r="1.65" fill="#9696d2" fill-opacity="0.4"/>
<circle cx="595.8" cy="28.3" r="1.65" fill="#9696d2" fill-opacity="0.4"/>
<circle cx="604.1" cy="22.2" r="1.65" fill="#9696d2" fill-opacity="0.4"/>
<circle cx="602.1" cy="18.4" r="1.65" fill="#9696d2" fill-opacity="0.4"/>
<circle cx="600.5" cy="19.7" r="1.65" fill="#9696d2" fill-opacity="0.4"/>
<circle cx="591.1" cy="18.1" r="1.65" fill="#9696d2" fill-opacity="0.4"/>
<circle cx="596.1" cy="33.7" r="1.65" fill="#9696d2" fill-opacity="0.4"/>
<circle cx="599.1" cy="18.8" r="1.65" fill="#9696d2" fill-opacity="0.4"/>
<circle cx="594.6" cy="15.6" r="1.65" fill="#9696d2" fill-opacity="0.4"/>
<circle cx="596.6" cy="13.3" r="1.65" fill="#9696d2" fill-opacity="0.4"/>
<circle cx="590.1" cy="30.9" r="1.65" fill="#9696d2" fill-opacity="0.4"/>
<circle cx="598.6" cy="20.7" r="1.65" fill="#9696d2" fill-opacity="0.4"/>
<circle cx="600.8" cy="17.3" r="1.65" fill="#9696d2" fill-opacity="0.4"/>
<circle cx="593.2" cy="11.6" r="1.65" fill="#9696d2" fill-opacity="0.4"/>
<circle cx="595.7" cy="17.4" r="1.65" fill="#9696d2" fill-opacity="0.4"/>
<circle cx="603.8" cy="23.2" r="1.65" fill="#9696d2" fill-opacity="0.4"/>
<circle cx="607.8" cy="18.2" r="1.65" fill="#9696d2" fill-opacity="0.4"/>
<circle cx="607.5" cy="24.0" r="1.65" fill="#9696d2" fill-opacity="0.4"/>
<circle cx="591.5" cy="14.3" r="1.65" fill="#9696d2" fill-opacity="0.4"/>
<circle cx="601.0" cy="33.7" r="1.65" fill="#9696d2" fill-opacity="0.4"/>
<circle cx="596.8" cy="28.6" r="1.65" fill="#9696d2" fill-opacity="0.4"/>
<circle cx="598.1" cy="30.8" r="1.65" fill="#9696d2" fill-opacity="0.4"/>
<circle cx="591.3" cy="21.6" r="1.65" fill="#9696d2" fill-opacity="0.4"/>
<circle cx="607.1" cy="16.6" r="1.65" fill="#9696d2" fill-opacity="0.4"/>
<circle cx="594.9" cy="10.6" r="1.65" fill="#9696d2" fill-opacity="0.4"/>
<circle cx="593.1" cy="16.4" r="1.65" fill="#9696d2" fill-opacity="0.4"/>
<circle cx="603.4" cy="15.2" r="1.65" fill="#9696d2" fill-opacity="0.4"/>
<circle cx="597.6" cy="14.8" r="1.65" fill="#9696d2" fill-opacity="0.4"/>
<circle cx="601.5" cy="30.7" r="1.65" fill="#9696d2" fill-opacity="0.4"/>
<circle cx="602.3" cy="14.7" r="1.65" fill="#9696d2" fill-opacity="0.4"/>
<circle cx="625.3" cy="58.0" r="1.65" fill="#9696d2" fill-opacity="0.4"/>
<circle cx="617.5" cy="11.2" r="1.65" fill="#9696d2" fill-opacity="0.4"/>
<circle cx="629.8" cy="53.4" r="1.65" fill="#9696d2" fill-opacity="0.4"/>
<circle cx="602.1" cy="14.2" r="1.65" fill="#9696d2" fill-opacity="0.4"/>
<circle cx="593.1" cy="35.5" r="1.65" fill="#9696d2" fill-opacity="0.4"/>
<circle cx="633.7" cy="40.9" r="1.65" fill="#9696d2" fill-opacity="0.4"/>
<circle cx="636.5" cy="18.2" r="1.65" fill="#9696d2" fill-opacity="0.4"/>
<circle cx="601.3" cy="46.7" r="1.65" fill="#9696d2" fill-opacity="0.4"/>
<circle cx="620.3" cy="28.5" r="1.65" fill="#9696d2" fill-opacity="0.4"/>
<circle cx="622.1" cy="24.9" r="1.65" fill="#9696d2" fill-opacity="0.4"/>
<circle cx="585.4" cy="29.0" r="1.65" fill="#9696d2" fill-opacity="0.4"/>
<circle cx="584.7" cy="40.2" r="1.65" fill="#9696d2" fill-opacity="0.4"/>
<circle cx="601.7" cy="33.2" r="1.65" fill="#9696d2" fill-opacity="0.4"/>
<circle cx="617.3" cy="20.6" r="1.65" fill="#9696d2" fill-opacity="0.4"/>
<circle cx="609.3" cy="7.7" r="1.65" fill="#9696d2" fill-opacity="0.4"/>
<circle cx="636.6" cy="36.9" r="1.65" fill="#9696d2" fill-opacity="0.4"/>
<circle cx="640.3" cy="10.0" r="1.65" fill="#9696d2" fill-opacity="0.4"/>
<circle cx="618.2" cy="45.4" r="1.65" fill="#9696d2" fill-opacity="0.4"/>
<circle cx="601.4" cy="12.0" r="1.65" fill="#9696d2" fill-opacity="0.4"/>
<circle cx="591.2" cy="14.6" r="1.65" fill="#9696d2" fill-opacity="0.4"/>
<circle cx="627.3" cy="11.8" r="1.65" fill="#9696d2" fill-opacity="0.4"/>
<circle cx="630.0" cy="29.4" r="1.65" fill="#9696d2" fill-opacity="0.4"/>
<circle cx="613.8" cy="38.2" r="1.65" fill="#9696d2" fill-opacity="0.4"/>
<circle cx="614.7" cy="41.8" r="1.65" fill="#9696d2" fill-opacity="0.4"/>
<circle cx="617.5" cy="24.5" r="1.65" fill="#9696d2" fill-opacity="0.4"/>
<circle cx="625.7" cy="20.7" r="1.65" fill="#9696d2" fill-opacity="0.4"/>
<circle cx="624.0" cy="47.5" r="1.65" fill="#9696d2" fill-opacity="0.4"/>
<circle cx="627.8" cy="23.4" r="1.65" fill="#9696d2" fill-opacity="0.4"/>
<circle cx="627.6" cy="58.8" r="1.65" fill="#9696d2" fill-opacity="0.4"/>
<circle cx="608.7" cy="21.7" r="1.65" fill="#9696d2" fill-opacity="0.4"/>
<circle cx="612.9" cy="56.9" r="1.65" fill="#9696d2" fill-opacity="0.4"/>
<circle cx="589.8" cy="7.5" r="1.65" fill="#9696d2" fill-opacity="0.4"/>
<circle cx="610.1" cy="41.7" r="1.65" fill="#9696d2" fill-opacity="0.4"/>
<circle cx="627.7" cy="26.2" r="1.65" fill="#9696d2" fill-opacity="0.4"/>
<circle cx="640.4" cy="19.1" r="1.65" fill="#9696d2" fill-opacity="0.4"/>
<circle cx="626.6" cy="11.8" r="1.65" fill="#9696d2" fill-opacity="0.4"/>
<circle cx="583.6" cy="14.1" r="1.65" fill="#9696d2" fill-opacity="0.4"/>
<circle cx="585.5" cy="33.6" r="1.65" fill="#9696d2" fill-opacity="0.4"/>
<circle cx="614.8" cy="16.6" r="1.65" fill="#9696d2" fill-opacity="0.4"/>
<circle cx="637.4" cy="26.4" r="1.65" fill="#9696d2" fill-opacity="0.4"/>
<circle cx="590.8" cy="16.4" r="1.65" fill="#9696d2" fill-opacity="0.4"/>
<circle cx="625.5" cy="55.8" r="1.65" fill="#9696d2" fill-opacity="0.4"/>
<circle cx="591.6" cy="8.5" r="1.65" fill="#9696d2" fill-opacity="0.4"/>
<circle cx="627.9" cy="19.9" r="1.65" fill="#9696d2" fill-opacity="0.4"/>
<circle cx="640.0" cy="33.4" r="1.65" fill="#9696d2" fill-opacity="0.4"/>
<circle cx="619.5" cy="25.2" r="1.65" fill="#9696d2" fill-opacity="0.4"/>
<circle cx="629.2" cy="31.4" r="1.65" fill="#9696d2" fill-opacity="0.4"/>
<circle cx="601.1" cy="54.9" r="1.65" fill="#9696d2" fill-opacity="0.4"/>
<circle cx="588.4" cy="45.9" r="1.65" fill="#9696d2" fill-opacity="0.4"/>
<circle cx="585.9" cy="41.2" r="1.65" fill="#9696d2" fill-opacity="0.4"/>
<circle cx="599.3" cy="35.5" r="1.65" fill="#9696d2" fill-opacity="0.4"/>
<circle cx="584.6" cy="25.6" r="1.65" fill="#9696d2" fill-opacity="0.4"/>
<circle cx="599.6" cy="37.3" r="1.65" fill="#9696d2" fill-opacity="0.4"/>
<circle cx="622.6" cy="27.7" r="1.65" fill="#9696d2" fill-opacity="0.4"/>
<circle cx="591.6" cy="15.3" r="1.65" fill="#9696d2" fill-opacity="0.4"/>
<circle cx="593.3" cy="21.3" r="1.65" fill="#9696d2" fill-opacity="0.4"/>
<circle cx="591.9" cy="13.7" r="1.65" fill="#9696d2" fill-opacity="0.4"/>
<circle cx="614.6" cy="28.2" r="1.65" fill="#9696d2" fill-opacity="0.4"/>
<circle cx="594.8" cy="39.8" r="1.65" fill="#9696d2" fill-opacity="0.4"/>
<circle cx="591.3" cy="25.8" r="1.65" fill="#9696d2" fill-opacity="0.4"/>
<circle cx="588.7" cy="35.5" r="1.65" fill="#9696d2" fill-opacity="0.4"/>
<circle cx="619.4" cy="15.8" r="1.65" fill="#9696d2" fill-opacity="0.4"/>
<circle cx="614.3" cy="34.2" r="1.65" fill="#9696d2" fill-opacity="0.4"/>
<circle cx="594.2" cy="17.9" r="1.65" fill="#9696d2" fill-opacity="0.4"/>
<circle cx="602.9" cy="36.4" r="1.65" fill="#9696d2" fill-opacity="0.4"/>
<circle cx="672.7" cy="54.3" r="1.65" fill="#9696d2" fill-opacity="0.4"/>
<circle cx="634.0" cy="55.6" r="1.65" fill="#9696d2" fill-opacity="0.4"/>
<circle cx="629.0" cy="67.6" r="1.65" fill="#9696d2" fill-opacity="0.4"/>
<circle cx="609.9" cy="81.0" r="1.65" fill="#9696d2" fill-opacity="0.4"/>
<circle cx="615.4" cy="82.6" r="1.65" fill="#9696d2" fill-opacity="0.4"/>
<circle cx="645.0" cy="45.0" r="1.65" fill="#9696d2" fill-opacity="0.4"/>
<circle cx="650.0" cy="38.0" r="1.65" fill="#9696d2" fill-opacity="0.4"/>
<circle cx="655.0" cy="42.0" r="1.65" fill="#9696d2" fill-opacity="0.4"/>
<line x1="492.50" y1="96.80" x2="681.60" y2="96.80" stroke="#000" stroke-width="1.0" stroke-dasharray="3.5,1.8" stroke-dashoffset="0" stroke-linecap="butt"/>
<line x1="578.60" y1="0.50" x2="578.60" y2="163.10" stroke="#6cc46c" stroke-width="1.2" stroke-dasharray="4.44,1.92" stroke-dashoffset="4.88" stroke-linecap="butt"/>
<path d="M508.50,114.00 L509.18,113.82 L510.07,113.58 L511.13,113.29 L512.32,112.97 L513.58,112.64 L514.88,112.31 L516.17,111.99 L517.40,111.70 L518.60,111.43 L519.81,111.17 L521.04,110.92 L522.29,110.67 L523.56,110.42 L524.86,110.18 L526.17,109.94 L527.50,109.70 L528.89,109.45 L530.35,109.18 L531.85,108.90 L533.36,108.62 L534.85,108.38 L536.29,108.16 L537.65,108.00 L538.90,107.90 L540.04,107.87 L541.10,107.91 L542.08,107.99 L543.01,108.11 L543.90,108.25 L544.77,108.40 L545.63,108.56 L546.50,108.70 L547.36,108.82 L548.21,108.94 L549.03,109.06 L549.83,109.19 L550.62,109.34 L551.39,109.52 L552.15,109.74 L552.90,110.00 L553.65,110.33 L554.39,110.73 L555.13,111.18 L555.84,111.66 L556.54,112.13 L557.20,112.58 L557.82,112.97 L558.40,113.30 L558.91,113.56 L559.37,113.79 L559.78,113.98 L560.16,114.14 L560.52,114.27 L560.89,114.37 L561.28,114.45 L561.70,114.50 L562.16,114.49 L562.64,114.38 L563.14,114.23 L563.64,114.06 L564.14,113.91 L564.62,113.83 L565.08,113.84 L565.50,114.00 L565.88,114.28 L566.24,114.63 L566.57,115.07 L566.88,115.57 L567.19,116.15 L567.49,116.80 L567.79,117.52 L568.10,118.30 L568.42,119.26 L568.73,120.44 L569.04,121.75 L569.35,123.11 L569.66,124.40 L569.97,125.54 L570.28,126.44 L570.60,127.00 L570.92,127.26 L571.23,127.33 L571.55,127.22 L571.86,126.92 L572.18,126.44 L572.51,125.80 L572.85,124.98 L573.20,124.00 L573.57,122.76 L573.96,121.20 L574.37,119.42 L574.77,117.50 L575.18,115.51 L575.58,113.55 L575.95,111.68 L576.30,110.00 L576.63,108.44 L576.94,106.90 L577.24,105.40 L577.52,103.94 L577.80,102.56 L578.05,101.26 L578.28,100.07 L578.50,99.00 L578.68,98.15 L578.80,97.55 L578.90,97.10 L578.99,96.71 L579.08,96.29 L579.20,95.75 L579.37,94.98 L579.60,93.90 L579.91,92.44 L580.27,90.66 L580.69,88.65 L581.12,86.53 L581.57,84.37 L582.01,82.28 L582.43,80.36 L582.80,78.70 L583.13,77.29 L583.44,76.02 L583.74,74.86 L584.02,73.81 L584.29,72.82 L584.56,71.87 L584.83,70.94 L585.10,70.00 L585.37,69.10 L585.62,68.27 L585.86,67.49 L586.11,66.74 L586.36,65.99 L586.62,65.21 L586.90,64.39 L587.20,63.50 L587.54,62.51 L587.90,61.42 L588.29,60.29 L588.68,59.13 L589.08,57.99 L589.47,56.90 L589.85,55.89 L590.20,55.00 L590.52,54.26 L590.80,53.65 L591.06,53.12 L591.31,52.64 L591.58,52.17 L591.87,51.67 L592.21,51.09 L592.60,50.40 L593.07,49.56 L593.61,48.58 L594.20,47.53 L594.82,46.44 L595.43,45.38 L596.01,44.38 L596.55,43.51 L597.00,42.80 L597.36,42.29 L597.63,41.95 L597.85,41.73 L598.04,41.58 L598.23,41.45 L598.45,41.29 L598.73,41.06 L599.10,40.70 L599.55,40.21 L600.06,39.63 L600.62,38.98 L601.21,38.31 L601.83,37.62 L602.46,36.96 L603.08,36.34 L603.70,35.80 L604.31,35.31 L604.94,34.84 L605.58,34.40 L606.22,33.99 L606.87,33.61 L607.51,33.29 L608.16,33.01 L608.80,32.80 L609.43,32.66 L610.04,32.59 L610.64,32.58 L611.25,32.62 L611.87,32.68 L612.51,32.76 L613.19,32.84 L613.90,32.90 L614.64,32.96 L615.38,33.03 L616.15,33.12 L616.94,33.21 L617.77,33.31 L618.65,33.41 L619.59,33.51 L620.60,33.60 L621.72,33.68 L622.96,33.76 L624.28,33.84 L625.64,33.92 L627.00,34.00 L628.33,34.09 L629.57,34.19 L630.70,34.30 L631.69,34.41 L632.55,34.51 L633.35,34.62 L634.10,34.73 L634.85,34.87 L635.65,35.03 L636.51,35.24 L637.50,35.50 L638.59,35.82 L639.75,36.20 L640.97,36.62 L642.23,37.07 L643.54,37.54 L644.87,38.01 L646.23,38.46 L647.60,38.90 L648.99,39.31 L650.41,39.72 L651.86,40.12 L653.34,40.53 L654.84,40.93 L656.37,41.34 L657.92,41.76 L659.50,42.20 L661.20,42.68 L663.08,43.20 L665.04,43.76 L666.99,44.31 L668.86,44.83 L670.54,45.31 L671.95,45.70 L673.00,46.00" fill="none" stroke="#4c1d95" stroke-width="2.0" stroke-linejoin="round" stroke-linecap="butt"/>
</g>
<text x="578.60" y="153.70" font-size="7.31" font-weight="normal" text-anchor="middle" fill="#6cc46c" textLength="15.36" lengthAdjust="spacingAndGlyphs">6.72</text>
<rect x="492.5" y="0.5" width="189.10000000000002" height="162.6" fill="none" stroke="#000" stroke-width="0.9"/>
<line x1="517.40" y1="163.10" x2="517.40" y2="166.60" stroke="#000" stroke-width="0.9" stroke-linecap="butt"/>
<text x="517.40" y="176.00" font-size="8.69" font-weight="normal" text-anchor="middle" fill="#000" textLength="17.30" lengthAdjust="spacingAndGlyphs">−40</text>
<line x1="543.70" y1="163.10" x2="543.70" y2="166.60" stroke="#000" stroke-width="0.9" stroke-linecap="butt"/>
<text x="543.70" y="176.00" font-size="8.69" font-weight="normal" text-anchor="middle" fill="#000" textLength="17.30" lengthAdjust="spacingAndGlyphs">−20</text>
<line x1="570.00" y1="163.10" x2="570.00" y2="166.60" stroke="#000" stroke-width="0.9" stroke-linecap="butt"/>
<text x="570.00" y="176.00" font-size="8.69" font-weight="normal" text-anchor="middle" fill="#000" textLength="5.22" lengthAdjust="spacingAndGlyphs">0</text>
<line x1="596.30" y1="163.10" x2="596.30" y2="166.60" stroke="#000" stroke-width="0.9" stroke-linecap="butt"/>
<text x="596.30" y="176.00" font-size="8.69" font-weight="normal" text-anchor="middle" fill="#000" textLength="10.43" lengthAdjust="spacingAndGlyphs">20</text>
<line x1="622.60" y1="163.10" x2="622.60" y2="166.60" stroke="#000" stroke-width="0.9" stroke-linecap="butt"/>
<text x="622.60" y="176.00" font-size="8.69" font-weight="normal" text-anchor="middle" fill="#000" textLength="10.43" lengthAdjust="spacingAndGlyphs">40</text>
<line x1="648.90" y1="163.10" x2="648.90" y2="166.60" stroke="#000" stroke-width="0.9" stroke-linecap="butt"/>
<text x="648.90" y="176.00" font-size="8.69" font-weight="normal" text-anchor="middle" fill="#000" textLength="10.43" lengthAdjust="spacingAndGlyphs">60</text>
<line x1="675.20" y1="163.10" x2="675.20" y2="166.60" stroke="#000" stroke-width="0.9" stroke-linecap="butt"/>
<text x="675.20" y="176.00" font-size="8.69" font-weight="normal" text-anchor="middle" fill="#000" textLength="10.43" lengthAdjust="spacingAndGlyphs">80</text>
<line x1="489.00" y1="161.80" x2="492.50" y2="161.80" stroke="#000" stroke-width="0.9" stroke-linecap="butt"/>
<text x="485.50" y="165.10" font-size="8.69" font-weight="normal" text-anchor="end" fill="#000" textLength="12.09" lengthAdjust="spacingAndGlyphs">−2</text>
<line x1="489.00" y1="129.30" x2="492.50" y2="129.30" stroke="#000" stroke-width="0.9" stroke-linecap="butt"/>
<text x="485.50" y="132.60" font-size="8.69" font-weight="normal" text-anchor="end" fill="#000" textLength="12.09" lengthAdjust="spacingAndGlyphs">−1</text>
<line x1="489.00" y1="96.80" x2="492.50" y2="96.80" stroke="#000" stroke-width="0.9" stroke-linecap="butt"/>
<text x="485.50" y="100.10" font-size="8.69" font-weight="normal" text-anchor="end" fill="#000" textLength="5.22" lengthAdjust="spacingAndGlyphs">0</text>
<line x1="489.00" y1="64.30" x2="492.50" y2="64.30" stroke="#000" stroke-width="0.9" stroke-linecap="butt"/>
<text x="485.50" y="67.60" font-size="8.69" font-weight="normal" text-anchor="end" fill="#000" textLength="5.22" lengthAdjust="spacingAndGlyphs">1</text>
<line x1="489.00" y1="31.80" x2="492.50" y2="31.80" stroke="#000" stroke-width="0.9" stroke-linecap="butt"/>
<text x="485.50" y="35.10" font-size="8.69" font-weight="normal" text-anchor="end" fill="#000" textLength="5.22" lengthAdjust="spacingAndGlyphs">2</text>
<text x="587.05" y="188.60" font-size="9.71" font-weight="normal" text-anchor="middle" fill="#000" textLength="13.56" lengthAdjust="spacingAndGlyphs">Tpi</text>
<text x="468.20" y="81.80" font-size="9.66" font-weight="normal" text-anchor="middle" fill="#000" textLength="81.93" lengthAdjust="spacingAndGlyphs" transform="rotate(-90 468.20 81.80)">SHAP value for Tpi</text>
<text x="498.80" y="14.80" font-size="9.30" font-weight="bold" text-anchor="start" fill="#000" textLength="14.16" lengthAdjust="spacingAndGlyphs">(c)</text>
<clipPath id="cd"><rect x="31.5" y="201.0" width="189.0" height="162.39999999999998"/></clipPath>
<g clip-path="url(#cd)">
<rect x="39.2" y="201.0" width="39.8" height="162.39999999999998" fill="#e3e0ef"/>
<circle cx="48.1" cy="242.5" r="1.65" fill="#9696d2" fill-opacity="0.4"/>
<circle cx="49.9" cy="235.0" r="1.65" fill="#9696d2" fill-opacity="0.4"/>
<circle cx="49.8" cy="249.1" r="1.65" fill="#9696d2" fill-opacity="0.4"/>
<circle cx="48.3" cy="249.2" r="1.65" fill="#9696d2" fill-opacity="0.4"/>
<circle cx="48.9" cy="245.7" r="1.65" fill="#9696d2" fill-opacity="0.4"/>
<circle cx="51.0" cy="226.0" r="1.65" fill="#9696d2" fill-opacity="0.4"/>
<circle cx="51.0" cy="252.8" r="1.65" fill="#9696d2" fill-opacity="0.4"/>
<circle cx="48.7" cy="220.8" r="1.65" fill="#9696d2" fill-opacity="0.4"/>
<circle cx="47.9" cy="252.2" r="1.65" fill="#9696d2" fill-opacity="0.4"/>
<circle cx="47.5" cy="250.1" r="1.65" fill="#9696d2" fill-opacity="0.4"/>
<circle cx="48.1" cy="244.3" r="1.65" fill="#9696d2" fill-opacity="0.4"/>
<circle cx="47.9" cy="225.6" r="1.65" fill="#9696d2" fill-opacity="0.4"/>
<circle cx="50.2" cy="223.0" r="1.65" fill="#9696d2" fill-opacity="0.4"/>
<circle cx="48.9" cy="250.3" r="1.65" fill="#9696d2" fill-opacity="0.4"/>
<circle cx="50.4" cy="249.1" r="1.65" fill="#9696d2" fill-opacity="0.4"/>
<circle cx="51.4" cy="221.1" r="1.65" fill="#9696d2" fill-opacity="0.4"/>
<circle cx="48.4" cy="246.1" r="1.65" fill="#9696d2" fill-opacity="0.4"/>
<circle cx="50.3" cy="221.2" r="1.65" fill="#9696d2" fill-opacity="0.4"/>
<circle cx="49.5" cy="227.6" r="1.65" fill="#9696d2" fill-opacity="0.4"/>
<circle cx="49.2" cy="223.5" r="1.65" fill="#9696d2" fill-opacity="0.4"/>
<circle cx="47.6" cy="252.7" r="1.65" fill="#9696d2" fill-opacity="0.4"/>
<circle cx="48.8" cy="249.0" r="1.65" fill="#9696d2" fill-opacity="0.4"/>
<circle cx="48.0" cy="236.1" r="1.65" fill="#9696d2" fill-opacity="0.4"/>
<circle cx="48.0" cy="234.1" r="1.65" fill="#9696d2" fill-opacity="0.4"/>
<circle cx="48.2" cy="242.6" r="1.65" fill="#9696d2" fill-opacity="0.4"/>
<circle cx="52.4" cy="255.3" r="1.65" fill="#9696d2" fill-opacity="0.4"/>
<circle cx="53.5" cy="232.2" r="1.65" fill="#9696d2" fill-opacity="0.4"/>
<circle cx="53.1" cy="246.4" r="1.65" fill="#9696d2" fill-opacity="0.4"/>
<circle cx="54.8" cy="240.9" r="1.65" fill="#9696d2" fill-opacity="0.4"/>
<circle cx="52.6" cy="263.8" r="1.65" fill="#9696d2" fill-opacity="0.4"/>
<circle cx="54.6" cy="255.1" r="1.65" fill="#9696d2" fill-opacity="0.4"/>
<circle cx="52.8" cy="234.6" r="1.65" fill="#9696d2" fill-opacity="0.4"/>
<circle cx="52.8" cy="230.6" r="1.65" fill="#9696d2" fill-opacity="0.4"/>
<circle cx="52.1" cy="246.8" r="1.65" fill="#9696d2" fill-opacity="0.4"/>
<circle cx="53.2" cy="248.6" r="1.65" fill="#9696d2" fill-opacity="0.4"/>
<circle cx="53.1" cy="228.4" r="1.65" fill="#9696d2" fill-opacity="0.4"/>
<circle cx="54.1" cy="252.2" r="1.65" fill="#9696d2" fill-opacity="0.4"/>
<circle cx="53.6" cy="248.3" r="1.65" fill="#9696d2" fill-opacity="0.4"/>
<circle cx="54.1" cy="264.3" r="1.65" fill="#9696d2" fill-opacity="0.4"/>
<circle cx="54.6" cy="254.6" r="1.65" fill="#9696d2" fill-opacity="0.4"/>
<circle cx="53.2" cy="239.8" r="1.65" fill="#9696d2" fill-opacity="0.4"/>
<circle cx="53.3" cy="264.0" r="1.65" fill="#9696d2" fill-opacity="0.4"/>
<circle cx="53.2" cy="242.3" r="1.65" fill="#9696d2" fill-opacity="0.4"/>
<circle cx="53.2" cy="233.3" r="1.65" fill="#9696d2" fill-opacity="0.4"/>
<circle cx="55.0" cy="228.2" r="1.65" fill="#9696d2" fill-opacity="0.4"/>
<circle cx="53.8" cy="262.3" r="1.65" fill="#9696d2" fill-opacity="0.4"/>
<circle cx="52.8" cy="250.6" r="1.65" fill="#9696d2" fill-opacity="0.4"/>
<circle cx="53.1" cy="236.9" r="1.65" fill="#9696d2" fill-opacity="0.4"/>
<circle cx="52.6" cy="232.3" r="1.65" fill="#9696d2" fill-opacity="0.4"/>
<circle cx="54.5" cy="257.0" r="1.65" fill="#9696d2" fill-opacity="0.4"/>
<circle cx="54.7" cy="229.8" r="1.65" fill="#9696d2" fill-opacity="0.4"/>
<circle cx="54.1" cy="240.0" r="1.65" fill="#9696d2" fill-opacity="0.4"/>
<circle cx="53.9" cy="248.3" r="1.65" fill="#9696d2" fill-opacity="0.4"/>
<circle cx="52.9" cy="263.9" r="1.65" fill="#9696d2" fill-opacity="0.4"/>
<circle cx="52.0" cy="255.6" r="1.65" fill="#9696d2" fill-opacity="0.4"/>
<circle cx="59.8" cy="234.7" r="1.65" fill="#9696d2" fill-opacity="0.4"/>
<circle cx="58.7" cy="245.9" r="1.65" fill="#9696d2" fill-opacity="0.4"/>
<circle cx="57.1" cy="237.5" r="1.65" fill="#9696d2" fill-opacity="0.4"/>
<circle cx="59.3" cy="231.7" r="1.65" fill="#9696d2" fill-opacity="0.4"/>
<circle cx="59.2" cy="232.1" r="1.65" fill="#9696d2" fill-opacity="0.4"/>
<circle cx="58.4" cy="237.1" r="1.65" fill="#9696d2" fill-opacity="0.4"/>
<circle cx="59.0" cy="230.4" r="1.65" fill="#9696d2" fill-opacity="0.4"/>
<circle cx="58.8" cy="235.5" r="1.65" fill="#9696d2" fill-opacity="0.4"/>
<circle cx="57.0" cy="237.1" r="1.65" fill="#9696d2" fill-opacity="0.4"/>
<circle cx="57.2" cy="243.9" r="1.65" fill="#9696d2" fill-opacity="0.4"/>
<circle cx="58.1" cy="239.6" r="1.65" fill="#9696d2" fill-opacity="0.4"/>
<circle cx="58.3" cy="234.0" r="1.65" fill="#9696d2" fill-opacity="0.4"/>
<circle cx="57.0" cy="226.3" r="1.65" fill="#9696d2" fill-opacity="0.4"/>
<circle cx="60.2" cy="235.2" r="1.65" fill="#9696d2" fill-opacity="0.4"/>
<circle cx="58.4" cy="235.1" r="1.65" fill="#9696d2" fill-opacity="0.4"/>
<circle cx="59.7" cy="228.5" r="1.65" fill="#9696d2" fill-opacity="0.4"/>
<circle cx="56.8" cy="241.9" r="1.65" fill="#9696d2" fill-opacity="0.4"/>
<circle cx="58.1" cy="237.7" r="1.65" fill="#9696d2" fill-opacity="0.4"/>
<circle cx="59.7" cy="243.6" r="1.65" fill="#9696d2" fill-opacity="0.4"/>
<circle cx="59.9" cy="224.0" r="1.65" fill="#9696d2" fill-opacity="0.4"/>
<circle cx="57.7" cy="242.1" r="1.65" fill="#9696d2" fill-opacity="0.4"/>
<circle cx="59.7" cy="225.8" r="1.65" fill="#9696d2" fill-opacity="0.4"/>
<circle cx="56.7" cy="228.8" r="1.65" fill="#9696d2" fill-opacity="0.4"/>
<circle cx="56.5" cy="231.2" r="1.65" fill="#9696d2" fill-opacity="0.4"/>
<circle cx="59.6" cy="235.0" r="1.65" fill="#9696d2" fill-opacity="0.4"/>
<circle cx="65.3" cy="210.0" r="1.65" fill="#9696d2" fill-opacity="0.4"/>
<circle cx="65.1" cy="240.9" r="1.65" fill="#9696d2" fill-opacity="0.4"/>
<circle cx="66.3" cy="222.3" r="1.65" fill="#9696d2" fill-opacity="0.4"/>
<circle cx="65.4" cy="234.1" r="1.65" fill="#9696d2" fill-opacity="0.4"/>
<circle cx="66.5" cy="212.1" r="1.65" fill="#9696d2" fill-opacity="0.4"/>
<circle cx="66.2" cy="219.5" r="1.65" fill="#9696d2" fill-opacity="0.4"/>
<circle cx="65.6" cy="215.1" r="1.65" fill="#9696d2" fill-opacity="0.4"/>
<circle cx="65.0" cy="218.6" r="1.65" fill="#9696d2" fill-opacity="0.4"/>
<circle cx="65.0" cy="207.6" r="1.65" fill="#9696d2" fill-opacity="0.4"/>
<circle cx="64.3" cy="226.4" r="1.65" fill="#9696d2" fill-opacity="0.4"/>
<circle cx="63.7" cy="213.1" r="1.65" fill="#9696d2" fill-opacity="0.4"/>
<circle cx="66.4" cy="216.3" r="1.65" fill="#9696d2" fill-opacity="0.4"/>
<circle cx="64.8" cy="215.2" r="1.65" fill="#9696d2" fill-opacity="0.4"/>
<circle cx="66.8" cy="210.1" r="1.65" fill="#9696d2" fill-opacity="0.4"/>
<circle cx="66.0" cy="236.2" r="1.65" fill="#9696d2" fill-opacity="0.4"/>
<circle cx="64.3" cy="221.4" r="1.65" fill="#9696d2" fill-opacity="0.4"/>
<circle cx="66.7" cy="228.0" r="1.65" fill="#9696d2" fill-opacity="0.4"/>
<circle cx="65.0" cy="208.5" r="1.65" fill="#9696d2" fill-opacity="0.4"/>
<circle cx="65.3" cy="219.5" r="1.65" fill="#9696d2" fill-opacity="0.4"/>
<circle cx="66.4" cy="217.0" r="1.65" fill="#9696d2" fill-opacity="0.4"/>
<circle cx="65.1" cy="229.0" r="1.65" fill="#9696d2" fill-opacity="0.4"/>
<circle cx="66.7" cy="219.0" r="1.65" fill="#9696d2" fill-opacity="0.4"/>
<circle cx="65.0" cy="226.7" r="1.65" fill="#9696d2" fill-opacity="0.4"/>
<circle cx="67.2" cy="213.5" r="1.65" fill="#9696d2" fill-opacity="0.4"/>
<circle cx="67.4" cy="231.2" r="1.65" fill="#9696d2" fill-opacity="0.4"/>
<circle cx="65.0" cy="229.6" r="1.65" fill="#9696d2" fill-opacity="0.4"/>
<circle cx="64.8" cy="209.4" r="1.65" fill="#9696d2" fill-opacity="0.4"/>
<circle cx="66.5" cy="219.9" r="1.65" fill="#9696d2" fill-opacity="0.4"/>
<circle cx="65.6" cy="223.9" r="1.65" fill="#9696d2" fill-opacity="0.4"/>
<circle cx="67.1" cy="232.7" r="1.65" fill="#9696d2" fill-opacity="0.4"/>
<circle cx="63.6" cy="227.2" r="1.65" fill="#9696d2" fill-opacity="0.4"/>
<circle cx="65.4" cy="222.7" r="1.65" fill="#9696d2" fill-opacity="0.4"/>
<circle cx="66.9" cy="221.1" r="1.65" fill="#9696d2" fill-opacity="0.4"/>
<circle cx="65.4" cy="237.3" r="1.65" fill="#9696d2" fill-opacity="0.4"/>
<circle cx="65.3" cy="223.7" r="1.65" fill="#9696d2" fill-opacity="0.4"/>
<circle cx="65.5" cy="235.0" r="1.65" fill="#9696d2" fill-opacity="0.4"/>
<circle cx="66.2" cy="232.2" r="1.65" fill="#9696d2" fill-opacity="0.4"/>
<circle cx="65.1" cy="208.4" r="1.65" fill="#9696d2" fill-opacity="0.4"/>
<circle cx="66.2" cy="225.8" r="1.65" fill="#9696d2" fill-opacity="0.4"/>
<circle cx="66.6" cy="233.2" r="1.65" fill="#9696d2" fill-opacity="0.4"/>
<circle cx="68.6" cy="223.4" r="1.65" fill="#9696d2" fill-opacity="0.4"/>
<circle cx="68.4" cy="240.7" r="1.65" fill="#9696d2" fill-opacity="0.4"/>
<circle cx="68.6" cy="219.6" r="1.65" fill="#9696d2" fill-opacity="0.4"/>
<circle cx="72.1" cy="233.4" r="1.65" fill="#9696d2" fill-opacity="0.4"/>
<circle cx="68.3" cy="236.7" r="1.65" fill="#9696d2" fill-opacity="0.4"/>
<circle cx="71.9" cy="231.0" r="1.65" fill="#9696d2" fill-opacity="0.4"/>
<circle cx="68.3" cy="237.0" r="1.65" fill="#9696d2" fill-opacity="0.4"/>
<circle cx="70.3" cy="233.9" r="1.65" fill="#9696d2" fill-opacity="0.4"/>
<circle cx="73.5" cy="240.7" r="1.65" fill="#9696d2" fill-opacity="0.4"/>
<circle cx="72.8" cy="221.2" r="1.65" fill="#9696d2" fill-opacity="0.4"/>
<circle cx="69.8" cy="232.0" r="1.65" fill="#9696d2" fill-opacity="0.4"/>
<circle cx="68.0" cy="245.7" r="1.65" fill="#9696d2" fill-opacity="0.4"/>
<circle cx="69.5" cy="224.6" r="1.65" fill="#9696d2" fill-opacity="0.4"/>
<circle cx="69.7" cy="224.4" r="1.65" fill="#9696d2" fill-opacity="0.4"/>
<circle cx="72.7" cy="233.1" r="1.65" fill="#9696d2" fill-opacity="0.4"/>
<circle cx="70.8" cy="229.2" r="1.65" fill="#9696d2" fill-opacity="0.4"/>
<circle cx="68.3" cy="225.8" r="1.65" fill="#9696d2" fill-opacity="0.4"/>
<circle cx="72.8" cy="240.3" r="1.65" fill="#9696d2" fill-opacity="0.4"/>
<circle cx="72.7" cy="224.5" r="1.65" fill="#9696d2" fill-opacity="0.4"/>
<circle cx="69.1" cy="218.5" r="1.65" fill="#9696d2" fill-opacity="0.4"/>
<circle cx="71.0" cy="227.8" r="1.65" fill="#9696d2" fill-opacity="0.4"/>
<circle cx="70.6" cy="231.2" r="1.65" fill="#9696d2" fill-opacity="0.4"/>
<circle cx="71.2" cy="227.6" r="1.65" fill="#9696d2" fill-opacity="0.4"/>
<circle cx="72.4" cy="222.8" r="1.65" fill="#9696d2" fill-opacity="0.4"/>
<circle cx="73.1" cy="233.1" r="1.65" fill="#9696d2" fill-opacity="0.4"/>
<circle cx="68.3" cy="226.1" r="1.65" fill="#9696d2" fill-opacity="0.4"/>
<circle cx="70.9" cy="228.9" r="1.65" fill="#9696d2" fill-opacity="0.4"/>
<circle cx="71.1" cy="226.4" r="1.65" fill="#9696d2" fill-opacity="0.4"/>
<circle cx="69.5" cy="240.1" r="1.65" fill="#9696d2" fill-opacity="0.4"/>
<circle cx="69.6" cy="237.6" r="1.65" fill="#9696d2" fill-opacity="0.4"/>
<circle cx="72.4" cy="234.2" r="1.65" fill="#9696d2" fill-opacity="0.4"/>
<circle cx="70.5" cy="244.1" r="1.65" fill="#9696d2" fill-opacity="0.4"/>
<circle cx="70.4" cy="242.5" r="1.65" fill="#9696d2" fill-opacity="0.4"/>
<circle cx="68.3" cy="229.6" r="1.65" fill="#9696d2" fill-opacity="0.4"/>
<circle cx="71.5" cy="218.4" r="1.65" fill="#9696d2" fill-opacity="0.4"/>
<circle cx="77.4" cy="234.6" r="1.65" fill="#9696d2" fill-opacity="0.4"/>
<circle cx="76.2" cy="237.0" r="1.65" fill="#9696d2" fill-opacity="0.4"/>
<circle cx="77.7" cy="245.3" r="1.65" fill="#9696d2" fill-opacity="0.4"/>
<circle cx="77.1" cy="244.0" r="1.65" fill="#9696d2" fill-opacity="0.4"/>
<circle cx="76.5" cy="247.8" r="1.65" fill="#9696d2" fill-opacity="0.4"/>
<circle cx="74.8" cy="237.6" r="1.65" fill="#9696d2" fill-opacity="0.4"/>
<circle cx="77.3" cy="236.2" r="1.65" fill="#9696d2" fill-opacity="0.4"/>
<circle cx="77.6" cy="237.6" r="1.65" fill="#9696d2" fill-opacity="0.4"/>
<circle cx="74.0" cy="235.1" r="1.65" fill="#9696d2" fill-opacity="0.4"/>
<circle cx="77.0" cy="253.9" r="1.65" fill="#9696d2" fill-opacity="0.4"/>
<circle cx="75.4" cy="247.5" r="1.65" fill="#9696d2" fill-opacity="0.4"/>
<circle cx="74.7" cy="252.9" r="1.65" fill="#9696d2" fill-opacity="0.4"/>
<circle cx="76.6" cy="236.4" r="1.65" fill="#9696d2" fill-opacity="0.4"/>
<circle cx="73.8" cy="248.3" r="1.65" fill="#9696d2" fill-opacity="0.4"/>
<circle cx="73.7" cy="251.4" r="1.65" fill="#9696d2" fill-opacity="0.4"/>
<circle cx="74.8" cy="238.1" r="1.65" fill="#9696d2" fill-opacity="0.4"/>
<circle cx="76.1" cy="240.0" r="1.65" fill="#9696d2" fill-opacity="0.4"/>
<circle cx="76.0" cy="236.4" r="1.65" fill="#9696d2" fill-opacity="0.4"/>
<circle cx="77.6" cy="240.1" r="1.65" fill="#9696d2" fill-opacity="0.4"/>
<circle cx="77.3" cy="236.3" r="1.65" fill="#9696d2" fill-opacity="0.4"/>
<circle cx="81.0" cy="261.6" r="1.65" fill="#9696d2" fill-opacity="0.4"/>
<circle cx="79.0" cy="240.7" r="1.65" fill="#9696d2" fill-opacity="0.4"/>
<circle cx="78.9" cy="254.1" r="1.65" fill="#9696d2" fill-opacity="0.4"/>
<circle cx="78.1" cy="252.0" r="1.65" fill="#9696d2" fill-opacity="0.4"/>
<circle cx="77.5" cy="250.2" r="1.65" fill="#9696d2" fill-opacity="0.4"/>
<circle cx="80.6" cy="249.5" r="1.65" fill="#9696d2" fill-opacity="0.4"/>
<circle cx="80.4" cy="242.5" r="1.65" fill="#9696d2" fill-opacity="0.4"/>
<circle cx="81.1" cy="242.7" r="1.65" fill="#9696d2" fill-opacity="0.4"/>
<circle cx="81.6" cy="261.9" r="1.65" fill="#9696d2" fill-opacity="0.4"/>
<circle cx="81.7" cy="251.6" r="1.65" fill="#9696d2" fill-opacity="0.4"/>
<circle cx="84.6" cy="266.4" r="1.65" fill="#9696d2" fill-opacity="0.4"/>
<circle cx="92.6" cy="269.9" r="1.65" fill="#9696d2" fill-opacity="0.4"/>
<circle cx="95.8" cy="260.2" r="1.65" fill="#9696d2" fill-opacity="0.4"/>
<circle cx="88.0" cy="278.7" r="1.65" fill="#9696d2" fill-opacity="0.4"/>
<circle cx="90.0" cy="271.0" r="1.65" fill="#9696d2" fill-opacity="0.4"/>
<circle cx="81.0" cy="261.4" r="1.65" fill="#9696d2" fill-opacity="0.4"/>
<circle cx="84.2" cy="279.4" r="1.65" fill="#9696d2" fill-opacity="0.4"/>
<circle cx="94.3" cy="263.5" r="1.65" fill="#9696d2" fill-opacity="0.4"/>
<circle cx="95.7" cy="258.8" r="1.65" fill="#9696d2" fill-opacity="0.4"/>
<circle cx="90.0" cy="281.2" r="1.65" fill="#9696d2" fill-opacity="0.4"/>
<circle cx="85.5" cy="280.7" r="1.65" fill="#9696d2" fill-opacity="0.4"/>
<circle cx="91.0" cy="259.2" r="1.65" fill="#9696d2" fill-opacity="0.4"/>
<circle cx="85.3" cy="268.8" r="1.65" fill="#9696d2" fill-opacity="0.4"/>
<circle cx="83.8" cy="275.8" r="1.65" fill="#9696d2" fill-opacity="0.4"/>
<circle cx="82.6" cy="276.9" r="1.65" fill="#9696d2" fill-opacity="0.4"/>
<circle cx="84.7" cy="259.7" r="1.65" fill="#9696d2" fill-opacity="0.4"/>
<circle cx="89.3" cy="260.3" r="1.65" fill="#9696d2" fill-opacity="0.4"/>
<circle cx="89.2" cy="276.9" r="1.65" fill="#9696d2" fill-opacity="0.4"/>
<circle cx="89.9" cy="269.1" r="1.65" fill="#9696d2" fill-opacity="0.4"/>
<circle cx="80.1" cy="270.3" r="1.65" fill="#9696d2" fill-opacity="0.4"/>
<circle cx="81.2" cy="273.5" r="1.65" fill="#9696d2" fill-opacity="0.4"/>
<circle cx="81.8" cy="271.9" r="1.65" fill="#9696d2" fill-opacity="0.4"/>
<circle cx="85.7" cy="267.0" r="1.65" fill="#9696d2" fill-opacity="0.4"/>
<circle cx="91.1" cy="261.9" r="1.65" fill="#9696d2" fill-opacity="0.4"/>
<circle cx="82.5" cy="280.6" r="1.65" fill="#9696d2" fill-opacity="0.4"/>
<circle cx="85.3" cy="278.2" r="1.65" fill="#9696d2" fill-opacity="0.4"/>
<circle cx="94.8" cy="269.5" r="1.65" fill="#9696d2" fill-opacity="0.4"/>
<circle cx="82.1" cy="260.3" r="1.65" fill="#9696d2" fill-opacity="0.4"/>
<circle cx="94.9" cy="260.8" r="1.65" fill="#9696d2" fill-opacity="0.4"/>
<circle cx="88.2" cy="270.9" r="1.65" fill="#9696d2" fill-opacity="0.4"/>
<circle cx="81.6" cy="269.2" r="1.65" fill="#9696d2" fill-opacity="0.4"/>
<circle cx="82.4" cy="270.9" r="1.65" fill="#9696d2" fill-opacity="0.4"/>
<circle cx="88.4" cy="266.8" r="1.65" fill="#9696d2" fill-opacity="0.4"/>
<circle cx="83.0" cy="267.7" r="1.65" fill="#9696d2" fill-opacity="0.4"/>
<circle cx="83.1" cy="261.1" r="1.65" fill="#9696d2" fill-opacity="0.4"/>
<circle cx="83.7" cy="278.9" r="1.65" fill="#9696d2" fill-opacity="0.4"/>
<circle cx="88.3" cy="279.4" r="1.65" fill="#9696d2" fill-opacity="0.4"/>
<circle cx="79.8" cy="280.6" r="1.65" fill="#9696d2" fill-opacity="0.4"/>
<circle cx="88.0" cy="277.0" r="1.65" fill="#9696d2" fill-opacity="0.4"/>
<circle cx="89.5" cy="274.5" r="1.65" fill="#9696d2" fill-opacity="0.4"/>
<circle cx="83.5" cy="276.0" r="1.65" fill="#9696d2" fill-opacity="0.4"/>
<circle cx="82.2" cy="264.3" r="1.65" fill="#9696d2" fill-opacity="0.4"/>
<circle cx="80.0" cy="267.4" r="1.65" fill="#9696d2" fill-opacity="0.4"/>
<circle cx="88.6" cy="265.0" r="1.65" fill="#9696d2" fill-opacity="0.4"/>
<circle cx="95.1" cy="260.0" r="1.65" fill="#9696d2" fill-opacity="0.4"/>
<circle cx="89.6" cy="263.6" r="1.65" fill="#9696d2" fill-opacity="0.4"/>
<circle cx="89.9" cy="276.8" r="1.65" fill="#9696d2" fill-opacity="0.4"/>
<circle cx="91.9" cy="259.5" r="1.65" fill="#9696d2" fill-opacity="0.4"/>
<circle cx="83.8" cy="272.4" r="1.65" fill="#9696d2" fill-opacity="0.4"/>
<circle cx="96.7" cy="259.0" r="1.65" fill="#9696d2" fill-opacity="0.4"/>
<circle cx="90.3" cy="274.6" r="1.65" fill="#9696d2" fill-opacity="0.4"/>
<circle cx="93.8" cy="266.2" r="1.65" fill="#9696d2" fill-opacity="0.4"/>
<circle cx="93.7" cy="269.1" r="1.65" fill="#9696d2" fill-opacity="0.4"/>
<circle cx="95.6" cy="258.3" r="1.65" fill="#9696d2" fill-opacity="0.4"/>
<circle cx="96.0" cy="267.9" r="1.65" fill="#9696d2" fill-opacity="0.4"/>
<circle cx="94.1" cy="244.1" r="1.65" fill="#9696d2" fill-opacity="0.4"/>
<circle cx="90.9" cy="252.5" r="1.65" fill="#9696d2" fill-opacity="0.4"/>
<circle cx="99.6" cy="245.0" r="1.65" fill="#9696d2" fill-opacity="0.4"/>
<circle cx="92.9" cy="244.8" r="1.65" fill="#9696d2" fill-opacity="0.4"/>
<circle cx="90.0" cy="245.9" r="1.65" fill="#9696d2" fill-opacity="0.4"/>
<circle cx="92.6" cy="255.7" r="1.65" fill="#9696d2" fill-opacity="0.4"/>
<circle cx="105.9" cy="253.3" r="1.65" fill="#9696d2" fill-opacity="0.4"/>
<circle cx="95.6" cy="249.5" r="1.65" fill="#9696d2" fill-opacity="0.4"/>
<circle cx="101.6" cy="254.8" r="1.65" fill="#9696d2" fill-opacity="0.4"/>
<circle cx="101.0" cy="251.3" r="1.65" fill="#9696d2" fill-opacity="0.4"/>
<circle cx="90.0" cy="251.1" r="1.65" fill="#9696d2" fill-opacity="0.4"/>
<circle cx="102.9" cy="253.2" r="1.65" fill="#9696d2" fill-opacity="0.4"/>
<circle cx="87.8" cy="252.3" r="1.65" fill="#9696d2" fill-opacity="0.4"/>
<circle cx="93.0" cy="245.1" r="1.65" fill="#9696d2" fill-opacity="0.4"/>
<circle cx="105.3" cy="251.7" r="1.65" fill="#9696d2" fill-opacity="0.4"/>
<circle cx="108.9" cy="265.8" r="1.65" fill="#9696d2" fill-opacity="0.4"/>
<circle cx="110.3" cy="288.2" r="1.65" fill="#9696d2" fill-opacity="0.4"/>
<circle cx="111.5" cy="282.9" r="1.65" fill="#9696d2" fill-opacity="0.4"/>
<circle cx="110.3" cy="284.5" r="1.65" fill="#9696d2" fill-opacity="0.4"/>
<circle cx="106.4" cy="274.2" r="1.65" fill="#9696d2" fill-opacity="0.4"/>
<circle cx="110.2" cy="284.0" r="1.65" fill="#9696d2" fill-opacity="0.4"/>
<circle cx="110.9" cy="270.4" r="1.65" fill="#9696d2" fill-opacity="0.4"/>
<circle cx="112.4" cy="276.9" r="1.65" fill="#9696d2" fill-opacity="0.4"/>
<circle cx="112.1" cy="265.2" r="1.65" fill="#9696d2" fill-opacity="0.4"/>
<circle cx="112.5" cy="284.0" r="1.65" fill="#9696d2" fill-opacity="0.4"/>
<circle cx="101.0" cy="285.5" r="1.65" fill="#9696d2" fill-opacity="0.4"/>
<circle cx="100.7" cy="267.5" r="1.65" fill="#9696d2" fill-opacity="0.4"/>
<circle cx="104.3" cy="268.6" r="1.65" fill="#9696d2" fill-opacity="0.4"/>
<circle cx="104.9" cy="287.4" r="1.65" fill="#9696d2" fill-opacity="0.4"/>
<circle cx="108.0" cy="281.9" r="1.65" fill="#9696d2" fill-opacity="0.4"/>
<circle cx="103.3" cy="283.9" r="1.65" fill="#9696d2" fill-opacity="0.4"/>
<circle cx="109.7" cy="281.1" r="1.65" fill="#9696d2" fill-opacity="0.4"/>
<circle cx="112.1" cy="285.1" r="1.65" fill="#9696d2" fill-opacity="0.4"/>
<circle cx="103.5" cy="264.4" r="1.65" fill="#9696d2" fill-opacity="0.4"/>
<circle cx="107.4" cy="285.4" r="1.65" fill="#9696d2" fill-opacity="0.4"/>
<circle cx="102.4" cy="278.7" r="1.65" fill="#9696d2" fill-opacity="0.4"/>
<circle cx="110.4" cy="284.2" r="1.65" fill="#9696d2" fill-opacity="0.4"/>
<circle cx="97.1" cy="275.7" r="1.65" fill="#9696d2" fill-opacity="0.4"/>
<circle cx="97.3" cy="265.1" r="1.65" fill="#9696d2" fill-opacity="0.4"/>
<circle cx="110.0" cy="273.7" r="1.65" fill="#9696d2" fill-opacity="0.4"/>
<circle cx="119.1" cy="280.1" r="1.65" fill="#9696d2" fill-opacity="0.4"/>
<circle cx="115.0" cy="274.7" r="1.65" fill="#9696d2" fill-opacity="0.4"/>
<circle cx="115.3" cy="288.6" r="1.65" fill="#9696d2" fill-opacity="0.4"/>
<circle cx="119.3" cy="276.4" r="1.65" fill="#9696d2" fill-opacity="0.4"/>
<circle cx="111.3" cy="276.0" r="1.65" fill="#9696d2" fill-opacity="0.4"/>
<circle cx="120.5" cy="279.7" r="1.65" fill="#9696d2" fill-opacity="0.4"/>
<circle cx="119.9" cy="287.8" r="1.65" fill="#9696d2" fill-opacity="0.4"/>
<circle cx="111.8" cy="285.0" r="1.65" fill="#9696d2" fill-opacity="0.4"/>
<circle cx="110.6" cy="288.1" r="1.65" fill="#9696d2" fill-opacity="0.4"/>
<circle cx="112.8" cy="276.0" r="1.65" fill="#9696d2" fill-opacity="0.4"/>
<circle cx="124.4" cy="278.0" r="1.65" fill="#9696d2" fill-opacity="0.4"/>
<circle cx="113.4" cy="289.6" r="1.65" fill="#9696d2" fill-opacity="0.4"/>
<circle cx="119.2" cy="289.7" r="1.65" fill="#9696d2" fill-opacity="0.4"/>
<circle cx="115.9" cy="281.0" r="1.65" fill="#9696d2" fill-opacity="0.4"/>
<circle cx="124.3" cy="281.1" r="1.65" fill="#9696d2" fill-opacity="0.4"/>
<circle cx="171.3" cy="299.6" r="1.65" fill="#9696d2" fill-opacity="0.4"/>
<circle cx="161.5" cy="298.7" r="1.65" fill="#9696d2" fill-opacity="0.4"/>
<circle cx="142.7" cy="293.0" r="1.65" fill="#9696d2" fill-opacity="0.4"/>
<circle cx="120.9" cy="326.1" r="1.65" fill="#9696d2" fill-opacity="0.4"/>
<circle cx="138.2" cy="321.3" r="1.65" fill="#9696d2" fill-opacity="0.4"/>
<circle cx="125.6" cy="305.3" r="1.65" fill="#9696d2" fill-opacity="0.4"/>
<circle cx="116.3" cy="312.3" r="1.65" fill="#9696d2" fill-opacity="0.4"/>
<circle cx="163.5" cy="311.0" r="1.65" fill="#9696d2" fill-opacity="0.4"/>
<circle cx="133.4" cy="325.5" r="1.65" fill="#9696d2" fill-opacity="0.4"/>
<circle cx="165.4" cy="316.3" r="1.65" fill="#9696d2" fill-opacity="0.4"/>
<circle cx="114.7" cy="314.8" r="1.65" fill="#9696d2" fill-opacity="0.4"/>
<circle cx="137.5" cy="326.5" r="1.65" fill="#9696d2" fill-opacity="0.4"/>
<circle cx="132.4" cy="316.1" r="1.65" fill="#9696d2" fill-opacity="0.4"/>
<circle cx="149.2" cy="306.2" r="1.65" fill="#9696d2" fill-opacity="0.4"/>
<circle cx="142.4" cy="316.7" r="1.65" fill="#9696d2" fill-opacity="0.4"/>
<circle cx="166.2" cy="310.4" r="1.65" fill="#9696d2" fill-opacity="0.4"/>
<circle cx="132.6" cy="327.2" r="1.65" fill="#9696d2" fill-opacity="0.4"/>
<circle cx="113.5" cy="322.2" r="1.65" fill="#9696d2" fill-opacity="0.4"/>
<circle cx="152.4" cy="312.5" r="1.65" fill="#9696d2" fill-opacity="0.4"/>
<circle cx="137.8" cy="319.3" r="1.65" fill="#9696d2" fill-opacity="0.4"/>
<circle cx="165.2" cy="318.5" r="1.65" fill="#9696d2" fill-opacity="0.4"/>
<circle cx="156.5" cy="294.2" r="1.65" fill="#9696d2" fill-opacity="0.4"/>
<circle cx="130.2" cy="297.8" r="1.65" fill="#9696d2" fill-opacity="0.4"/>
<circle cx="169.1" cy="324.2" r="1.65" fill="#9696d2" fill-opacity="0.4"/>
<circle cx="119.0" cy="313.6" r="1.65" fill="#9696d2" fill-opacity="0.4"/>
<circle cx="145.8" cy="294.6" r="1.65" fill="#9696d2" fill-opacity="0.4"/>
<circle cx="134.3" cy="319.2" r="1.65" fill="#9696d2" fill-opacity="0.4"/>
<circle cx="149.8" cy="302.8" r="1.65" fill="#9696d2" fill-opacity="0.4"/>
<circle cx="157.3" cy="303.2" r="1.65" fill="#9696d2" fill-opacity="0.4"/>
<circle cx="143.7" cy="307.7" r="1.65" fill="#9696d2" fill-opacity="0.4"/>
<circle cx="170.6" cy="315.7" r="1.65" fill="#9696d2" fill-opacity="0.4"/>
<circle cx="159.9" cy="316.7" r="1.65" fill="#9696d2" fill-opacity="0.4"/>
<circle cx="133.6" cy="326.7" r="1.65" fill="#9696d2" fill-opacity="0.4"/>
<circle cx="154.0" cy="317.2" r="1.65" fill="#9696d2" fill-opacity="0.4"/>
<circle cx="127.2" cy="298.7" r="1.65" fill="#9696d2" fill-opacity="0.4"/>
<circle cx="145.7" cy="321.9" r="1.65" fill="#9696d2" fill-opacity="0.4"/>
<circle cx="159.2" cy="305.2" r="1.65" fill="#9696d2" fill-opacity="0.4"/>
<circle cx="118.7" cy="311.1" r="1.65" fill="#9696d2" fill-opacity="0.4"/>
<circle cx="164.4" cy="298.7" r="1.65" fill="#9696d2" fill-opacity="0.4"/>
<circle cx="155.8" cy="299.0" r="1.65" fill="#9696d2" fill-opacity="0.4"/>
<circle cx="129.3" cy="294.9" r="1.65" fill="#9696d2" fill-opacity="0.4"/>
<circle cx="128.5" cy="306.4" r="1.65" fill="#9696d2" fill-opacity="0.4"/>
<circle cx="169.9" cy="326.7" r="1.65" fill="#9696d2" fill-opacity="0.4"/>
<circle cx="121.6" cy="303.8" r="1.65" fill="#9696d2" fill-opacity="0.4"/>
<circle cx="168.5" cy="299.9" r="1.65" fill="#9696d2" fill-opacity="0.4"/>
<circle cx="127.6" cy="323.1" r="1.65" fill="#9696d2" fill-opacity="0.4"/>
<circle cx="120.6" cy="317.8" r="1.65" fill="#9696d2" fill-opacity="0.4"/>
<circle cx="130.0" cy="321.6" r="1.65" fill="#9696d2" fill-opacity="0.4"/>
<circle cx="148.8" cy="318.0" r="1.65" fill="#9696d2" fill-opacity="0.4"/>
<circle cx="123.7" cy="337.3" r="1.65" fill="#9696d2" fill-opacity="0.4"/>
<circle cx="131.9" cy="335.1" r="1.65" fill="#9696d2" fill-opacity="0.4"/>
<circle cx="138.0" cy="333.4" r="1.65" fill="#9696d2" fill-opacity="0.4"/>
<circle cx="127.4" cy="314.6" r="1.65" fill="#9696d2" fill-opacity="0.4"/>
<circle cx="142.0" cy="324.1" r="1.65" fill="#9696d2" fill-opacity="0.4"/>
<circle cx="135.4" cy="330.1" r="1.65" fill="#9696d2" fill-opacity="0.4"/>
<circle cx="141.8" cy="318.3" r="1.65" fill="#9696d2" fill-opacity="0.4"/>
<circle cx="129.0" cy="337.5" r="1.65" fill="#9696d2" fill-opacity="0.4"/>
<circle cx="134.5" cy="318.7" r="1.65" fill="#9696d2" fill-opacity="0.4"/>
<circle cx="137.8" cy="317.8" r="1.65" fill="#9696d2" fill-opacity="0.4"/>
<circle cx="142.5" cy="311.2" r="1.65" fill="#9696d2" fill-opacity="0.4"/>
<circle cx="146.9" cy="346.2" r="1.65" fill="#9696d2" fill-opacity="0.4"/>
<circle cx="129.7" cy="355.1" r="1.65" fill="#9696d2" fill-opacity="0.4"/>
<circle cx="211.6" cy="355.9" r="1.65" fill="#9696d2" fill-opacity="0.4"/>
<circle cx="166.4" cy="297.5" r="1.65" fill="#9696d2" fill-opacity="0.4"/>
<circle cx="176.1" cy="303.1" r="1.65" fill="#9696d2" fill-opacity="0.4"/>
<line x1="31.50" y1="254.40" x2="220.50" y2="254.40" stroke="#000" stroke-width="1.0" stroke-dasharray="3.5,1.8" stroke-dashoffset="0" stroke-linecap="butt"/>
<line x1="79.00" y1="201.00" x2="79.00" y2="363.40" stroke="#6cc46c" stroke-width="1.2" stroke-dasharray="4.44,1.92" stroke-dashoffset="4.88" stroke-linecap="butt"/>
<path d="M47.20,243.90 L47.56,243.71 L48.04,243.47 L48.60,243.19 L49.23,242.86 L49.90,242.51 L50.59,242.15 L51.26,241.77 L51.90,241.40 L52.52,241.04 L53.15,240.69 L53.79,240.34 L54.43,239.97 L55.08,239.56 L55.72,239.11 L56.36,238.59 L57.00,238.00 L57.64,237.29 L58.28,236.47 L58.92,235.57 L59.56,234.62 L60.19,233.68 L60.81,232.77 L61.41,231.93 L62.00,231.20 L62.57,230.55 L63.14,229.92 L63.70,229.33 L64.25,228.79 L64.78,228.32 L65.28,227.92 L65.76,227.61 L66.20,227.40 L66.60,227.29 L66.94,227.28 L67.26,227.35 L67.55,227.49 L67.84,227.71 L68.13,227.99 L68.45,228.32 L68.80,228.70 L69.19,229.14 L69.60,229.65 L70.02,230.22 L70.46,230.86 L70.90,231.54 L71.34,232.26 L71.77,233.02 L72.20,233.80 L72.62,234.63 L73.05,235.52 L73.48,236.47 L73.90,237.44 L74.32,238.44 L74.73,239.44 L75.12,240.43 L75.50,241.40 L75.86,242.37 L76.22,243.36 L76.57,244.36 L76.90,245.36 L77.22,246.33 L77.53,247.28 L77.82,248.17 L78.10,249.00 L78.35,249.76 L78.57,250.44 L78.77,251.08 L78.96,251.69 L79.14,252.28 L79.34,252.86 L79.56,253.47 L79.80,254.10 L80.07,254.77 L80.35,255.45 L80.64,256.15 L80.94,256.85 L81.26,257.54 L81.59,258.22 L81.94,258.88 L82.30,259.50 L82.68,260.11 L83.09,260.71 L83.51,261.31 L83.95,261.88 L84.39,262.43 L84.84,262.93 L85.27,263.39 L85.70,263.80 L86.10,264.15 L86.48,264.46 L86.84,264.72 L87.21,264.95 L87.60,265.14 L88.02,265.29 L88.48,265.41 L89.00,265.50 L89.58,265.52 L90.22,265.47 L90.89,265.35 L91.60,265.22 L92.33,265.09 L93.08,264.99 L93.84,264.95 L94.60,265.00 L95.37,265.11 L96.16,265.23 L96.97,265.39 L97.79,265.59 L98.62,265.86 L99.45,266.21 L100.28,266.65 L101.10,267.20 L101.92,267.88 L102.75,268.69 L103.59,269.61 L104.42,270.59 L105.24,271.63 L106.05,272.70 L106.84,273.76 L107.60,274.80 L108.33,275.83 L109.02,276.90 L109.70,277.98 L110.36,279.08 L111.02,280.19 L111.67,281.30 L112.33,282.40 L113.00,283.50 L113.68,284.60 L114.34,285.73 L115.01,286.86 L115.68,287.99 L116.36,289.10 L117.05,290.18 L117.76,291.22 L118.50,292.20 L119.25,293.12 L120.00,293.99 L120.77,294.82 L121.55,295.61 L122.36,296.39 L123.20,297.15 L124.08,297.92 L125.00,298.70 L125.97,299.48 L126.97,300.26 L128.00,301.03 L129.08,301.79 L130.18,302.54 L131.32,303.30 L132.49,304.05 L133.70,304.80 L134.94,305.54 L136.22,306.28 L137.53,307.00 L138.88,307.73 L140.26,308.45 L141.68,309.19 L143.12,309.94 L144.60,310.70 L146.09,311.47 L147.60,312.23 L149.13,313.00 L150.69,313.77 L152.31,314.57 L153.99,315.41 L155.75,316.28 L157.60,317.20 L159.50,318.15 L161.43,319.12 L163.41,320.11 L165.46,321.14 L167.62,322.23 L169.91,323.37 L172.36,324.59 L175.00,325.90 L177.98,327.37 L181.34,329.03 L184.93,330.79 L188.62,332.61 L192.25,334.39 L195.69,336.08 L198.79,337.61 L201.40,338.90 L203.56,339.98 L205.43,340.91 L207.03,341.72 L208.40,342.41 L209.56,343.00 L210.55,343.51 L211.38,343.94 L212.10,344.30" fill="none" stroke="#4c1d95" stroke-width="2.0" stroke-linejoin="round" stroke-linecap="butt"/>
</g>
<text x="79.00" y="354.10" font-size="7.31" font-weight="normal" text-anchor="middle" fill="#6cc46c" textLength="19.75" lengthAdjust="spacingAndGlyphs">11.34</text>
<rect x="31.5" y="201.0" width="189.0" height="162.39999999999998" fill="none" stroke="#000" stroke-width="0.9"/>
<line x1="48.20" y1="363.40" x2="48.20" y2="366.90" stroke="#000" stroke-width="0.9" stroke-linecap="butt"/>
<text x="48.20" y="376.30" font-size="8.69" font-weight="normal" text-anchor="middle" fill="#000" textLength="5.22" lengthAdjust="spacingAndGlyphs">0</text>
<line x1="75.48" y1="363.40" x2="75.48" y2="366.90" stroke="#000" stroke-width="0.9" stroke-linecap="butt"/>
<text x="75.48" y="376.30" font-size="8.69" font-weight="normal" text-anchor="middle" fill="#000" textLength="10.43" lengthAdjust="spacingAndGlyphs">10</text>
<line x1="102.76" y1="363.40" x2="102.76" y2="366.90" stroke="#000" stroke-width="0.9" stroke-linecap="butt"/>
<text x="102.76" y="376.30" font-size="8.69" font-weight="normal" text-anchor="middle" fill="#000" textLength="10.43" lengthAdjust="spacingAndGlyphs">20</text>
<line x1="130.04" y1="363.40" x2="130.04" y2="366.90" stroke="#000" stroke-width="0.9" stroke-linecap="butt"/>
<text x="130.04" y="376.30" font-size="8.69" font-weight="normal" text-anchor="middle" fill="#000" textLength="10.43" lengthAdjust="spacingAndGlyphs">30</text>
<line x1="157.32" y1="363.40" x2="157.32" y2="366.90" stroke="#000" stroke-width="0.9" stroke-linecap="butt"/>
<text x="157.32" y="376.30" font-size="8.69" font-weight="normal" text-anchor="middle" fill="#000" textLength="10.43" lengthAdjust="spacingAndGlyphs">40</text>
<line x1="184.60" y1="363.40" x2="184.60" y2="366.90" stroke="#000" stroke-width="0.9" stroke-linecap="butt"/>
<text x="184.60" y="376.30" font-size="8.69" font-weight="normal" text-anchor="middle" fill="#000" textLength="10.43" lengthAdjust="spacingAndGlyphs">50</text>
<line x1="211.88" y1="363.40" x2="211.88" y2="366.90" stroke="#000" stroke-width="0.9" stroke-linecap="butt"/>
<text x="211.88" y="376.30" font-size="8.69" font-weight="normal" text-anchor="middle" fill="#000" textLength="10.43" lengthAdjust="spacingAndGlyphs">60</text>
<line x1="28.00" y1="346.10" x2="31.50" y2="346.10" stroke="#000" stroke-width="0.9" stroke-linecap="butt"/>
<text x="24.50" y="349.40" font-size="8.69" font-weight="normal" text-anchor="end" fill="#000" textLength="12.09" lengthAdjust="spacingAndGlyphs">−3</text>
<line x1="28.00" y1="315.60" x2="31.50" y2="315.60" stroke="#000" stroke-width="0.9" stroke-linecap="butt"/>
<text x="24.50" y="318.90" font-size="8.69" font-weight="normal" text-anchor="end" fill="#000" textLength="12.09" lengthAdjust="spacingAndGlyphs">−2</text>
<line x1="28.00" y1="285.10" x2="31.50" y2="285.10" stroke="#000" stroke-width="0.9" stroke-linecap="butt"/>
<text x="24.50" y="288.40" font-size="8.69" font-weight="normal" text-anchor="end" fill="#000" textLength="12.09" lengthAdjust="spacingAndGlyphs">−1</text>
<line x1="28.00" y1="254.60" x2="31.50" y2="254.60" stroke="#000" stroke-width="0.9" stroke-linecap="butt"/>
<text x="24.50" y="257.90" font-size="8.69" font-weight="normal" text-anchor="end" fill="#000" textLength="5.22" lengthAdjust="spacingAndGlyphs">0</text>
<line x1="28.00" y1="224.10" x2="31.50" y2="224.10" stroke="#000" stroke-width="0.9" stroke-linecap="butt"/>
<text x="24.50" y="227.40" font-size="8.69" font-weight="normal" text-anchor="end" fill="#000" textLength="5.22" lengthAdjust="spacingAndGlyphs">1</text>
<text x="126.00" y="388.90" font-size="9.71" font-weight="normal" text-anchor="middle" fill="#000" textLength="24.69" lengthAdjust="spacingAndGlyphs">Slope</text>
<text x="7.20" y="282.20" font-size="9.66" font-weight="normal" text-anchor="middle" fill="#000" textLength="93.00" lengthAdjust="spacingAndGlyphs" transform="rotate(-90 7.20 282.20)">SHAP value for Slope</text>
<text x="37.80" y="215.60" font-size="9.30" font-weight="bold" text-anchor="start" fill="#000" textLength="15.32" lengthAdjust="spacingAndGlyphs">(d)</text>
<clipPath id="ce"><rect x="262.1" y="201.0" width="188.7" height="162.39999999999998"/></clipPath>
<g clip-path="url(#ce)">
<rect x="270.0" y="201.0" width="11.699999999999989" height="162.39999999999998" fill="#e3e0ef"/>
<circle cx="279.9" cy="230.9" r="1.65" fill="#9696d2" fill-opacity="0.4"/>
<circle cx="278.7" cy="247.4" r="1.65" fill="#9696d2" fill-opacity="0.4"/>
<circle cx="278.5" cy="216.7" r="1.65" fill="#9696d2" fill-opacity="0.4"/>
<circle cx="278.0" cy="230.1" r="1.65" fill="#9696d2" fill-opacity="0.4"/>
<circle cx="279.8" cy="235.8" r="1.65" fill="#9696d2" fill-opacity="0.4"/>
<circle cx="278.9" cy="241.5" r="1.65" fill="#9696d2" fill-opacity="0.4"/>
<circle cx="278.1" cy="219.5" r="1.65" fill="#9696d2" fill-opacity="0.4"/>
<circle cx="279.5" cy="248.6" r="1.65" fill="#9696d2" fill-opacity="0.4"/>
<circle cx="279.4" cy="236.4" r="1.65" fill="#9696d2" fill-opacity="0.4"/>
<circle cx="279.8" cy="223.4" r="1.65" fill="#9696d2" fill-opacity="0.4"/>
<circle cx="280.2" cy="238.7" r="1.65" fill="#9696d2" fill-opacity="0.4"/>
<circle cx="278.7" cy="223.3" r="1.65" fill="#9696d2" fill-opacity="0.4"/>
<circle cx="279.9" cy="221.4" r="1.65" fill="#9696d2" fill-opacity="0.4"/>
<circle cx="278.3" cy="244.4" r="1.65" fill="#9696d2" fill-opacity="0.4"/>
<circle cx="279.2" cy="228.9" r="1.65" fill="#9696d2" fill-opacity="0.4"/>
<circle cx="279.5" cy="245.7" r="1.65" fill="#9696d2" fill-opacity="0.4"/>
<circle cx="278.1" cy="220.9" r="1.65" fill="#9696d2" fill-opacity="0.4"/>
<circle cx="278.0" cy="224.2" r="1.65" fill="#9696d2" fill-opacity="0.4"/>
<circle cx="279.1" cy="243.5" r="1.65" fill="#9696d2" fill-opacity="0.4"/>
<circle cx="279.5" cy="231.4" r="1.65" fill="#9696d2" fill-opacity="0.4"/>
<circle cx="278.8" cy="231.2" r="1.65" fill="#9696d2" fill-opacity="0.4"/>
<circle cx="278.5" cy="243.2" r="1.65" fill="#9696d2" fill-opacity="0.4"/>
<circle cx="279.9" cy="242.9" r="1.65" fill="#9696d2" fill-opacity="0.4"/>
<circle cx="278.2" cy="235.5" r="1.65" fill="#9696d2" fill-opacity="0.4"/>
<circle cx="279.8" cy="228.0" r="1.65" fill="#9696d2" fill-opacity="0.4"/>
<circle cx="280.1" cy="245.5" r="1.65" fill="#9696d2" fill-opacity="0.4"/>
<circle cx="279.7" cy="242.1" r="1.65" fill="#9696d2" fill-opacity="0.4"/>
<circle cx="279.5" cy="244.7" r="1.65" fill="#9696d2" fill-opacity="0.4"/>
<circle cx="278.1" cy="237.0" r="1.65" fill="#9696d2" fill-opacity="0.4"/>
<circle cx="279.6" cy="232.9" r="1.65" fill="#9696d2" fill-opacity="0.4"/>
<circle cx="278.5" cy="209.0" r="1.65" fill="#9696d2" fill-opacity="0.4"/>
<circle cx="279.4" cy="242.3" r="1.65" fill="#9696d2" fill-opacity="0.4"/>
<circle cx="278.5" cy="215.4" r="1.65" fill="#9696d2" fill-opacity="0.4"/>
<circle cx="278.4" cy="210.1" r="1.65" fill="#9696d2" fill-opacity="0.4"/>
<circle cx="279.6" cy="248.9" r="1.65" fill="#9696d2" fill-opacity="0.4"/>
<circle cx="279.9" cy="221.8" r="1.65" fill="#9696d2" fill-opacity="0.4"/>
<circle cx="279.6" cy="209.2" r="1.65" fill="#9696d2" fill-opacity="0.4"/>
<circle cx="280.0" cy="220.3" r="1.65" fill="#9696d2" fill-opacity="0.4"/>
<circle cx="277.8" cy="233.7" r="1.65" fill="#9696d2" fill-opacity="0.4"/>
<circle cx="278.2" cy="218.1" r="1.65" fill="#9696d2" fill-opacity="0.4"/>
<circle cx="278.0" cy="225.6" r="1.65" fill="#9696d2" fill-opacity="0.4"/>
<circle cx="279.2" cy="241.5" r="1.65" fill="#9696d2" fill-opacity="0.4"/>
<circle cx="277.9" cy="242.4" r="1.65" fill="#9696d2" fill-opacity="0.4"/>
<circle cx="278.1" cy="215.9" r="1.65" fill="#9696d2" fill-opacity="0.4"/>
<circle cx="279.4" cy="221.0" r="1.65" fill="#9696d2" fill-opacity="0.4"/>
<circle cx="280.2" cy="333.8" r="1.65" fill="#9696d2" fill-opacity="0.4"/>
<circle cx="281.5" cy="342.4" r="1.65" fill="#9696d2" fill-opacity="0.4"/>
<circle cx="281.6" cy="343.9" r="1.65" fill="#9696d2" fill-opacity="0.4"/>
<circle cx="281.6" cy="301.8" r="1.65" fill="#9696d2" fill-opacity="0.4"/>
<circle cx="283.2" cy="322.6" r="1.65" fill="#9696d2" fill-opacity="0.4"/>
<circle cx="282.5" cy="320.9" r="1.65" fill="#9696d2" fill-opacity="0.4"/>
<circle cx="280.6" cy="320.3" r="1.65" fill="#9696d2" fill-opacity="0.4"/>
<circle cx="279.6" cy="301.6" r="1.65" fill="#9696d2" fill-opacity="0.4"/>
<circle cx="279.9" cy="310.8" r="1.65" fill="#9696d2" fill-opacity="0.4"/>
<circle cx="279.3" cy="316.6" r="1.65" fill="#9696d2" fill-opacity="0.4"/>
<circle cx="281.4" cy="345.8" r="1.65" fill="#9696d2" fill-opacity="0.4"/>
<circle cx="283.3" cy="317.3" r="1.65" fill="#9696d2" fill-opacity="0.4"/>
<circle cx="282.1" cy="315.0" r="1.65" fill="#9696d2" fill-opacity="0.4"/>
<circle cx="281.5" cy="317.5" r="1.65" fill="#9696d2" fill-opacity="0.4"/>
<circle cx="280.3" cy="319.0" r="1.65" fill="#9696d2" fill-opacity="0.4"/>
<circle cx="279.1" cy="324.0" r="1.65" fill="#9696d2" fill-opacity="0.4"/>
<circle cx="280.6" cy="303.1" r="1.65" fill="#9696d2" fill-opacity="0.4"/>
<circle cx="280.5" cy="325.6" r="1.65" fill="#9696d2" fill-opacity="0.4"/>
<circle cx="280.1" cy="324.5" r="1.65" fill="#9696d2" fill-opacity="0.4"/>
<circle cx="281.7" cy="339.5" r="1.65" fill="#9696d2" fill-opacity="0.4"/>
<circle cx="279.6" cy="316.5" r="1.65" fill="#9696d2" fill-opacity="0.4"/>
<circle cx="281.7" cy="338.7" r="1.65" fill="#9696d2" fill-opacity="0.4"/>
<circle cx="281.3" cy="328.4" r="1.65" fill="#9696d2" fill-opacity="0.4"/>
<circle cx="279.1" cy="310.0" r="1.65" fill="#9696d2" fill-opacity="0.4"/>
<circle cx="283.1" cy="314.1" r="1.65" fill="#9696d2" fill-opacity="0.4"/>
<circle cx="283.8" cy="308.0" r="1.65" fill="#9696d2" fill-opacity="0.4"/>
<circle cx="280.6" cy="296.0" r="1.65" fill="#9696d2" fill-opacity="0.4"/>
<circle cx="281.8" cy="321.6" r="1.65" fill="#9696d2" fill-opacity="0.4"/>
<circle cx="283.6" cy="320.3" r="1.65" fill="#9696d2" fill-opacity="0.4"/>
<circle cx="280.7" cy="298.6" r="1.65" fill="#9696d2" fill-opacity="0.4"/>
<circle cx="280.9" cy="331.1" r="1.65" fill="#9696d2" fill-opacity="0.4"/>
<circle cx="281.9" cy="335.0" r="1.65" fill="#9696d2" fill-opacity="0.4"/>
<circle cx="282.1" cy="317.4" r="1.65" fill="#9696d2" fill-opacity="0.4"/>
<circle cx="281.8" cy="320.4" r="1.65" fill="#9696d2" fill-opacity="0.4"/>
<circle cx="279.3" cy="341.7" r="1.65" fill="#9696d2" fill-opacity="0.4"/>
<circle cx="281.5" cy="303.5" r="1.65" fill="#9696d2" fill-opacity="0.4"/>
<circle cx="281.5" cy="322.0" r="1.65" fill="#9696d2" fill-opacity="0.4"/>
<circle cx="282.3" cy="338.0" r="1.65" fill="#9696d2" fill-opacity="0.4"/>
<circle cx="277.1" cy="325.7" r="1.65" fill="#9696d2" fill-opacity="0.4"/>
<circle cx="283.0" cy="304.9" r="1.65" fill="#9696d2" fill-opacity="0.4"/>
<circle cx="282.3" cy="346.8" r="1.65" fill="#9696d2" fill-opacity="0.4"/>
<circle cx="279.9" cy="301.9" r="1.65" fill="#9696d2" fill-opacity="0.4"/>
<circle cx="282.9" cy="327.0" r="1.65" fill="#9696d2" fill-opacity="0.4"/>
<circle cx="280.5" cy="310.9" r="1.65" fill="#9696d2" fill-opacity="0.4"/>
<circle cx="279.1" cy="352.3" r="1.65" fill="#9696d2" fill-opacity="0.4"/>
<circle cx="284.0" cy="354.6" r="1.65" fill="#9696d2" fill-opacity="0.4"/>
<circle cx="285.9" cy="322.5" r="1.65" fill="#9696d2" fill-opacity="0.4"/>
<circle cx="284.1" cy="319.2" r="1.65" fill="#9696d2" fill-opacity="0.4"/>
<circle cx="284.7" cy="348.0" r="1.65" fill="#9696d2" fill-opacity="0.4"/>
<circle cx="279.9" cy="295.8" r="1.65" fill="#9696d2" fill-opacity="0.4"/>
<circle cx="280.5" cy="331.9" r="1.65" fill="#9696d2" fill-opacity="0.4"/>
<circle cx="281.7" cy="295.6" r="1.65" fill="#9696d2" fill-opacity="0.4"/>
<circle cx="284.8" cy="344.5" r="1.65" fill="#9696d2" fill-opacity="0.4"/>
<circle cx="282.2" cy="297.7" r="1.65" fill="#9696d2" fill-opacity="0.4"/>
<circle cx="285.2" cy="328.7" r="1.65" fill="#9696d2" fill-opacity="0.4"/>
<circle cx="279.5" cy="315.4" r="1.65" fill="#9696d2" fill-opacity="0.4"/>
<circle cx="283.4" cy="350.8" r="1.65" fill="#9696d2" fill-opacity="0.4"/>
<circle cx="282.4" cy="335.3" r="1.65" fill="#9696d2" fill-opacity="0.4"/>
<circle cx="280.4" cy="310.3" r="1.65" fill="#9696d2" fill-opacity="0.4"/>
<circle cx="285.3" cy="319.1" r="1.65" fill="#9696d2" fill-opacity="0.4"/>
<circle cx="279.7" cy="332.2" r="1.65" fill="#9696d2" fill-opacity="0.4"/>
<circle cx="279.9" cy="307.6" r="1.65" fill="#9696d2" fill-opacity="0.4"/>
<circle cx="282.2" cy="331.9" r="1.65" fill="#9696d2" fill-opacity="0.4"/>
<circle cx="283.5" cy="339.5" r="1.65" fill="#9696d2" fill-opacity="0.4"/>
<circle cx="282.1" cy="299.3" r="1.65" fill="#9696d2" fill-opacity="0.4"/>
<circle cx="290.9" cy="310.7" r="1.65" fill="#9696d2" fill-opacity="0.4"/>
<circle cx="288.0" cy="321.8" r="1.65" fill="#9696d2" fill-opacity="0.4"/>
<circle cx="290.3" cy="331.8" r="1.65" fill="#9696d2" fill-opacity="0.4"/>
<circle cx="285.4" cy="329.8" r="1.65" fill="#9696d2" fill-opacity="0.4"/>
<circle cx="290.5" cy="324.1" r="1.65" fill="#9696d2" fill-opacity="0.4"/>
<circle cx="284.3" cy="338.1" r="1.65" fill="#9696d2" fill-opacity="0.4"/>
<circle cx="289.5" cy="311.0" r="1.65" fill="#9696d2" fill-opacity="0.4"/>
<circle cx="285.4" cy="340.6" r="1.65" fill="#9696d2" fill-opacity="0.4"/>
<circle cx="285.3" cy="321.6" r="1.65" fill="#9696d2" fill-opacity="0.4"/>
<circle cx="291.6" cy="335.4" r="1.65" fill="#9696d2" fill-opacity="0.4"/>
<circle cx="289.9" cy="332.7" r="1.65" fill="#9696d2" fill-opacity="0.4"/>
<circle cx="283.1" cy="312.0" r="1.65" fill="#9696d2" fill-opacity="0.4"/>
<circle cx="293.7" cy="334.7" r="1.65" fill="#9696d2" fill-opacity="0.4"/>
<circle cx="283.1" cy="310.6" r="1.65" fill="#9696d2" fill-opacity="0.4"/>
<circle cx="285.4" cy="338.8" r="1.65" fill="#9696d2" fill-opacity="0.4"/>
<circle cx="285.2" cy="330.5" r="1.65" fill="#9696d2" fill-opacity="0.4"/>
<circle cx="293.2" cy="329.4" r="1.65" fill="#9696d2" fill-opacity="0.4"/>
<circle cx="293.1" cy="317.4" r="1.65" fill="#9696d2" fill-opacity="0.4"/>
<circle cx="284.4" cy="309.6" r="1.65" fill="#9696d2" fill-opacity="0.4"/>
<circle cx="291.3" cy="312.3" r="1.65" fill="#9696d2" fill-opacity="0.4"/>
<circle cx="293.7" cy="331.7" r="1.65" fill="#9696d2" fill-opacity="0.4"/>
<circle cx="284.8" cy="334.8" r="1.65" fill="#9696d2" fill-opacity="0.4"/>
<circle cx="284.5" cy="325.4" r="1.65" fill="#9696d2" fill-opacity="0.4"/>
<circle cx="283.9" cy="334.2" r="1.65" fill="#9696d2" fill-opacity="0.4"/>
<circle cx="292.8" cy="338.3" r="1.65" fill="#9696d2" fill-opacity="0.4"/>
<circle cx="282.7" cy="336.2" r="1.65" fill="#9696d2" fill-opacity="0.4"/>
<circle cx="289.0" cy="335.3" r="1.65" fill="#9696d2" fill-opacity="0.4"/>
<circle cx="288.4" cy="328.8" r="1.65" fill="#9696d2" fill-opacity="0.4"/>
<circle cx="289.4" cy="334.6" r="1.65" fill="#9696d2" fill-opacity="0.4"/>
<circle cx="283.6" cy="310.7" r="1.65" fill="#9696d2" fill-opacity="0.4"/>
<circle cx="288.9" cy="318.3" r="1.65" fill="#9696d2" fill-opacity="0.4"/>
<circle cx="287.2" cy="309.2" r="1.65" fill="#9696d2" fill-opacity="0.4"/>
<circle cx="291.1" cy="309.8" r="1.65" fill="#9696d2" fill-opacity="0.4"/>
<circle cx="292.1" cy="335.0" r="1.65" fill="#9696d2" fill-opacity="0.4"/>
<circle cx="287.9" cy="312.9" r="1.65" fill="#9696d2" fill-opacity="0.4"/>
<circle cx="290.0" cy="315.6" r="1.65" fill="#9696d2" fill-opacity="0.4"/>
<circle cx="287.5" cy="312.5" r="1.65" fill="#9696d2" fill-opacity="0.4"/>
<circle cx="293.7" cy="326.5" r="1.65" fill="#9696d2" fill-opacity="0.4"/>
<circle cx="286.7" cy="312.0" r="1.65" fill="#9696d2" fill-opacity="0.4"/>
<circle cx="291.0" cy="336.2" r="1.65" fill="#9696d2" fill-opacity="0.4"/>
<circle cx="292.3" cy="312.2" r="1.65" fill="#9696d2" fill-opacity="0.4"/>
<circle cx="286.9" cy="318.7" r="1.65" fill="#9696d2" fill-opacity="0.4"/>
<circle cx="291.3" cy="313.7" r="1.65" fill="#9696d2" fill-opacity="0.4"/>
<circle cx="289.6" cy="340.3" r="1.65" fill="#9696d2" fill-opacity="0.4"/>
<circle cx="291.4" cy="309.2" r="1.65" fill="#9696d2" fill-opacity="0.4"/>
<circle cx="283.5" cy="312.6" r="1.65" fill="#9696d2" fill-opacity="0.4"/>
<circle cx="290.5" cy="328.2" r="1.65" fill="#9696d2" fill-opacity="0.4"/>
<circle cx="288.6" cy="323.6" r="1.65" fill="#9696d2" fill-opacity="0.4"/>
<circle cx="287.3" cy="328.6" r="1.65" fill="#9696d2" fill-opacity="0.4"/>
<circle cx="290.0" cy="338.3" r="1.65" fill="#9696d2" fill-opacity="0.4"/>
<circle cx="291.0" cy="334.5" r="1.65" fill="#9696d2" fill-opacity="0.4"/>
<circle cx="293.0" cy="335.8" r="1.65" fill="#9696d2" fill-opacity="0.4"/>
<circle cx="290.8" cy="310.0" r="1.65" fill="#9696d2" fill-opacity="0.4"/>
<circle cx="290.4" cy="336.2" r="1.65" fill="#9696d2" fill-opacity="0.4"/>
<circle cx="287.6" cy="337.1" r="1.65" fill="#9696d2" fill-opacity="0.4"/>
<circle cx="295.4" cy="355.8" r="1.65" fill="#9696d2" fill-opacity="0.4"/>
<circle cx="296.7" cy="350.8" r="1.65" fill="#9696d2" fill-opacity="0.4"/>
<circle cx="295.8" cy="342.3" r="1.65" fill="#9696d2" fill-opacity="0.4"/>
<circle cx="296.2" cy="342.8" r="1.65" fill="#9696d2" fill-opacity="0.4"/>
<circle cx="295.0" cy="345.3" r="1.65" fill="#9696d2" fill-opacity="0.4"/>
<circle cx="299.4" cy="349.7" r="1.65" fill="#9696d2" fill-opacity="0.4"/>
<circle cx="299.2" cy="352.0" r="1.65" fill="#9696d2" fill-opacity="0.4"/>
<circle cx="298.7" cy="356.9" r="1.65" fill="#9696d2" fill-opacity="0.4"/>
<circle cx="298.3" cy="341.8" r="1.65" fill="#9696d2" fill-opacity="0.4"/>
<circle cx="295.7" cy="344.7" r="1.65" fill="#9696d2" fill-opacity="0.4"/>
<circle cx="294.6" cy="340.8" r="1.65" fill="#9696d2" fill-opacity="0.4"/>
<circle cx="298.9" cy="355.3" r="1.65" fill="#9696d2" fill-opacity="0.4"/>
<circle cx="296.1" cy="352.2" r="1.65" fill="#9696d2" fill-opacity="0.4"/>
<circle cx="298.4" cy="354.7" r="1.65" fill="#9696d2" fill-opacity="0.4"/>
<circle cx="298.5" cy="347.2" r="1.65" fill="#9696d2" fill-opacity="0.4"/>
<circle cx="295.0" cy="353.3" r="1.65" fill="#9696d2" fill-opacity="0.4"/>
<circle cx="296.1" cy="349.2" r="1.65" fill="#9696d2" fill-opacity="0.4"/>
<circle cx="296.3" cy="347.3" r="1.65" fill="#9696d2" fill-opacity="0.4"/>
<circle cx="299.3" cy="339.4" r="1.65" fill="#9696d2" fill-opacity="0.4"/>
<circle cx="297.2" cy="349.6" r="1.65" fill="#9696d2" fill-opacity="0.4"/>
<circle cx="297.2" cy="355.7" r="1.65" fill="#9696d2" fill-opacity="0.4"/>
<circle cx="296.5" cy="355.2" r="1.65" fill="#9696d2" fill-opacity="0.4"/>
<circle cx="297.9" cy="356.3" r="1.65" fill="#9696d2" fill-opacity="0.4"/>
<circle cx="294.9" cy="340.5" r="1.65" fill="#9696d2" fill-opacity="0.4"/>
<circle cx="295.9" cy="355.0" r="1.65" fill="#9696d2" fill-opacity="0.4"/>
<circle cx="294.6" cy="341.5" r="1.65" fill="#9696d2" fill-opacity="0.4"/>
<circle cx="298.1" cy="356.8" r="1.65" fill="#9696d2" fill-opacity="0.4"/>
<circle cx="295.4" cy="345.2" r="1.65" fill="#9696d2" fill-opacity="0.4"/>
<circle cx="310.6" cy="313.1" r="1.65" fill="#9696d2" fill-opacity="0.4"/>
<circle cx="311.4" cy="314.1" r="1.65" fill="#9696d2" fill-opacity="0.4"/>
<circle cx="304.5" cy="306.1" r="1.65" fill="#9696d2" fill-opacity="0.4"/>
<circle cx="301.4" cy="313.1" r="1.65" fill="#9696d2" fill-opacity="0.4"/>
<circle cx="303.9" cy="306.2" r="1.65" fill="#9696d2" fill-opacity="0.4"/>
<circle cx="314.5" cy="312.3" r="1.65" fill="#9696d2" fill-opacity="0.4"/>
<circle cx="309.3" cy="312.5" r="1.65" fill="#9696d2" fill-opacity="0.4"/>
<circle cx="309.4" cy="313.1" r="1.65" fill="#9696d2" fill-opacity="0.4"/>
<circle cx="305.3" cy="303.0" r="1.65" fill="#9696d2" fill-opacity="0.4"/>
<circle cx="301.9" cy="302.2" r="1.65" fill="#9696d2" fill-opacity="0.4"/>
<circle cx="306.1" cy="304.3" r="1.65" fill="#9696d2" fill-opacity="0.4"/>
<circle cx="302.6" cy="309.9" r="1.65" fill="#9696d2" fill-opacity="0.4"/>
<circle cx="314.6" cy="313.0" r="1.65" fill="#9696d2" fill-opacity="0.4"/>
<circle cx="304.8" cy="314.3" r="1.65" fill="#9696d2" fill-opacity="0.4"/>
<circle cx="303.5" cy="303.6" r="1.65" fill="#9696d2" fill-opacity="0.4"/>
<circle cx="305.2" cy="308.5" r="1.65" fill="#9696d2" fill-opacity="0.4"/>
<circle cx="310.7" cy="309.1" r="1.65" fill="#9696d2" fill-opacity="0.4"/>
<circle cx="311.2" cy="303.5" r="1.65" fill="#9696d2" fill-opacity="0.4"/>
<circle cx="314.1" cy="307.5" r="1.65" fill="#9696d2" fill-opacity="0.4"/>
<circle cx="312.7" cy="302.5" r="1.65" fill="#9696d2" fill-opacity="0.4"/>
<circle cx="312.6" cy="305.6" r="1.65" fill="#9696d2" fill-opacity="0.4"/>
<circle cx="313.0" cy="314.8" r="1.65" fill="#9696d2" fill-opacity="0.4"/>
<circle cx="310.4" cy="306.4" r="1.65" fill="#9696d2" fill-opacity="0.4"/>
<circle cx="301.1" cy="305.0" r="1.65" fill="#9696d2" fill-opacity="0.4"/>
<circle cx="313.7" cy="304.5" r="1.65" fill="#9696d2" fill-opacity="0.4"/>
<circle cx="310.2" cy="311.4" r="1.65" fill="#9696d2" fill-opacity="0.4"/>
<circle cx="310.3" cy="304.9" r="1.65" fill="#9696d2" fill-opacity="0.4"/>
<circle cx="303.0" cy="303.6" r="1.65" fill="#9696d2" fill-opacity="0.4"/>
<circle cx="314.8" cy="324.9" r="1.65" fill="#9696d2" fill-opacity="0.4"/>
<circle cx="310.1" cy="328.3" r="1.65" fill="#9696d2" fill-opacity="0.4"/>
<circle cx="304.1" cy="319.2" r="1.65" fill="#9696d2" fill-opacity="0.4"/>
<circle cx="301.2" cy="333.3" r="1.65" fill="#9696d2" fill-opacity="0.4"/>
<circle cx="302.8" cy="335.3" r="1.65" fill="#9696d2" fill-opacity="0.4"/>
<circle cx="306.1" cy="331.0" r="1.65" fill="#9696d2" fill-opacity="0.4"/>
<circle cx="302.9" cy="332.2" r="1.65" fill="#9696d2" fill-opacity="0.4"/>
<circle cx="304.5" cy="324.6" r="1.65" fill="#9696d2" fill-opacity="0.4"/>
<circle cx="308.3" cy="320.0" r="1.65" fill="#9696d2" fill-opacity="0.4"/>
<circle cx="304.5" cy="332.3" r="1.65" fill="#9696d2" fill-opacity="0.4"/>
<circle cx="305.0" cy="324.9" r="1.65" fill="#9696d2" fill-opacity="0.4"/>
<circle cx="311.7" cy="322.0" r="1.65" fill="#9696d2" fill-opacity="0.4"/>
<circle cx="303.7" cy="321.9" r="1.65" fill="#9696d2" fill-opacity="0.4"/>
<circle cx="306.4" cy="324.6" r="1.65" fill="#9696d2" fill-opacity="0.4"/>
<circle cx="310.0" cy="326.5" r="1.65" fill="#9696d2" fill-opacity="0.4"/>
<circle cx="313.2" cy="318.9" r="1.65" fill="#9696d2" fill-opacity="0.4"/>
<circle cx="310.3" cy="333.1" r="1.65" fill="#9696d2" fill-opacity="0.4"/>
<circle cx="304.3" cy="318.5" r="1.65" fill="#9696d2" fill-opacity="0.4"/>
<circle cx="307.1" cy="320.1" r="1.65" fill="#9696d2" fill-opacity="0.4"/>
<circle cx="307.4" cy="330.8" r="1.65" fill="#9696d2" fill-opacity="0.4"/>
<circle cx="316.5" cy="325.7" r="1.65" fill="#9696d2" fill-opacity="0.4"/>
<circle cx="322.7" cy="327.0" r="1.65" fill="#9696d2" fill-opacity="0.4"/>
<circle cx="318.7" cy="333.1" r="1.65" fill="#9696d2" fill-opacity="0.4"/>
<circle cx="316.9" cy="324.6" r="1.65" fill="#9696d2" fill-opacity="0.4"/>
<circle cx="320.8" cy="333.8" r="1.65" fill="#9696d2" fill-opacity="0.4"/>
<circle cx="330.0" cy="335.8" r="1.65" fill="#9696d2" fill-opacity="0.4"/>
<circle cx="316.1" cy="328.1" r="1.65" fill="#9696d2" fill-opacity="0.4"/>
<circle cx="326.9" cy="335.9" r="1.65" fill="#9696d2" fill-opacity="0.4"/>
<circle cx="328.9" cy="345.1" r="1.65" fill="#9696d2" fill-opacity="0.4"/>
<circle cx="328.7" cy="325.5" r="1.65" fill="#9696d2" fill-opacity="0.4"/>
<circle cx="330.1" cy="335.1" r="1.65" fill="#9696d2" fill-opacity="0.4"/>
<circle cx="318.8" cy="326.9" r="1.65" fill="#9696d2" fill-opacity="0.4"/>
<circle cx="328.8" cy="327.9" r="1.65" fill="#9696d2" fill-opacity="0.4"/>
<circle cx="316.3" cy="329.1" r="1.65" fill="#9696d2" fill-opacity="0.4"/>
<circle cx="329.8" cy="333.6" r="1.65" fill="#9696d2" fill-opacity="0.4"/>
<circle cx="326.7" cy="324.7" r="1.65" fill="#9696d2" fill-opacity="0.4"/>
<circle cx="322.2" cy="330.3" r="1.65" fill="#9696d2" fill-opacity="0.4"/>
<circle cx="318.3" cy="338.2" r="1.65" fill="#9696d2" fill-opacity="0.4"/>
<circle cx="320.8" cy="325.8" r="1.65" fill="#9696d2" fill-opacity="0.4"/>
<circle cx="330.7" cy="334.1" r="1.65" fill="#9696d2" fill-opacity="0.4"/>
<circle cx="317.9" cy="323.3" r="1.65" fill="#9696d2" fill-opacity="0.4"/>
<circle cx="325.4" cy="334.8" r="1.65" fill="#9696d2" fill-opacity="0.4"/>
<circle cx="315.4" cy="333.8" r="1.65" fill="#9696d2" fill-opacity="0.4"/>
<circle cx="326.8" cy="335.4" r="1.65" fill="#9696d2" fill-opacity="0.4"/>
<circle cx="318.7" cy="334.5" r="1.65" fill="#9696d2" fill-opacity="0.4"/>
<circle cx="324.7" cy="338.0" r="1.65" fill="#9696d2" fill-opacity="0.4"/>
<circle cx="317.3" cy="341.5" r="1.65" fill="#9696d2" fill-opacity="0.4"/>
<circle cx="330.1" cy="340.0" r="1.65" fill="#9696d2" fill-opacity="0.4"/>
<circle cx="328.7" cy="331.5" r="1.65" fill="#9696d2" fill-opacity="0.4"/>
<circle cx="329.4" cy="327.2" r="1.65" fill="#9696d2" fill-opacity="0.4"/>
<circle cx="318.6" cy="336.8" r="1.65" fill="#9696d2" fill-opacity="0.4"/>
<circle cx="329.4" cy="324.9" r="1.65" fill="#9696d2" fill-opacity="0.4"/>
<circle cx="318.5" cy="323.8" r="1.65" fill="#9696d2" fill-opacity="0.4"/>
<circle cx="322.0" cy="326.2" r="1.65" fill="#9696d2" fill-opacity="0.4"/>
<circle cx="318.1" cy="340.2" r="1.65" fill="#9696d2" fill-opacity="0.4"/>
<circle cx="324.3" cy="344.6" r="1.65" fill="#9696d2" fill-opacity="0.4"/>
<circle cx="321.4" cy="338.6" r="1.65" fill="#9696d2" fill-opacity="0.4"/>
<circle cx="315.2" cy="344.8" r="1.65" fill="#9696d2" fill-opacity="0.4"/>
<circle cx="332.4" cy="330.6" r="1.65" fill="#9696d2" fill-opacity="0.4"/>
<circle cx="334.1" cy="339.1" r="1.65" fill="#9696d2" fill-opacity="0.4"/>
<circle cx="334.0" cy="339.9" r="1.65" fill="#9696d2" fill-opacity="0.4"/>
<circle cx="334.7" cy="325.9" r="1.65" fill="#9696d2" fill-opacity="0.4"/>
<circle cx="336.0" cy="325.6" r="1.65" fill="#9696d2" fill-opacity="0.4"/>
<circle cx="337.0" cy="330.2" r="1.65" fill="#9696d2" fill-opacity="0.4"/>
<circle cx="332.4" cy="339.3" r="1.65" fill="#9696d2" fill-opacity="0.4"/>
<circle cx="332.9" cy="329.3" r="1.65" fill="#9696d2" fill-opacity="0.4"/>
<circle cx="340.4" cy="335.4" r="1.65" fill="#9696d2" fill-opacity="0.4"/>
<circle cx="337.2" cy="328.6" r="1.65" fill="#9696d2" fill-opacity="0.4"/>
<circle cx="338.6" cy="339.0" r="1.65" fill="#9696d2" fill-opacity="0.4"/>
<circle cx="337.0" cy="334.0" r="1.65" fill="#9696d2" fill-opacity="0.4"/>
<circle cx="339.6" cy="330.4" r="1.65" fill="#9696d2" fill-opacity="0.4"/>
<circle cx="342.6" cy="336.4" r="1.65" fill="#9696d2" fill-opacity="0.4"/>
<circle cx="338.4" cy="325.5" r="1.65" fill="#9696d2" fill-opacity="0.4"/>
<circle cx="338.2" cy="342.1" r="1.65" fill="#9696d2" fill-opacity="0.4"/>
<circle cx="338.5" cy="323.2" r="1.65" fill="#9696d2" fill-opacity="0.4"/>
<circle cx="342.2" cy="333.4" r="1.65" fill="#9696d2" fill-opacity="0.4"/>
<circle cx="345.9" cy="321.3" r="1.65" fill="#9696d2" fill-opacity="0.4"/>
<circle cx="339.3" cy="323.9" r="1.65" fill="#9696d2" fill-opacity="0.4"/>
<circle cx="342.9" cy="330.4" r="1.65" fill="#9696d2" fill-opacity="0.4"/>
<circle cx="341.1" cy="340.4" r="1.65" fill="#9696d2" fill-opacity="0.4"/>
<circle cx="343.6" cy="339.8" r="1.65" fill="#9696d2" fill-opacity="0.4"/>
<circle cx="346.6" cy="326.2" r="1.65" fill="#9696d2" fill-opacity="0.4"/>
<circle cx="375.1" cy="275.8" r="1.65" fill="#9696d2" fill-opacity="0.4"/>
<circle cx="374.1" cy="282.2" r="1.65" fill="#9696d2" fill-opacity="0.4"/>
<circle cx="366.8" cy="287.2" r="1.65" fill="#9696d2" fill-opacity="0.4"/>
<circle cx="367.2" cy="294.5" r="1.65" fill="#9696d2" fill-opacity="0.4"/>
<circle cx="371.7" cy="294.5" r="1.65" fill="#9696d2" fill-opacity="0.4"/>
<circle cx="383.3" cy="286.2" r="1.65" fill="#9696d2" fill-opacity="0.4"/>
<circle cx="391.4" cy="279.8" r="1.65" fill="#9696d2" fill-opacity="0.4"/>
<circle cx="393.9" cy="280.5" r="1.65" fill="#9696d2" fill-opacity="0.4"/>
<circle cx="379.1" cy="301.9" r="1.65" fill="#9696d2" fill-opacity="0.4"/>
<circle cx="381.0" cy="301.4" r="1.65" fill="#9696d2" fill-opacity="0.4"/>
<circle cx="398.8" cy="302.2" r="1.65" fill="#9696d2" fill-opacity="0.4"/>
<circle cx="412.1" cy="289.1" r="1.65" fill="#9696d2" fill-opacity="0.4"/>
<circle cx="429.3" cy="275.1" r="1.65" fill="#9696d2" fill-opacity="0.4"/>
<circle cx="436.7" cy="287.9" r="1.65" fill="#9696d2" fill-opacity="0.4"/>
<circle cx="442.1" cy="289.4" r="1.65" fill="#9696d2" fill-opacity="0.4"/>
<circle cx="438.7" cy="296.0" r="1.65" fill="#9696d2" fill-opacity="0.4"/>
<circle cx="352.5" cy="301.4" r="1.65" fill="#9696d2" fill-opacity="0.4"/>
<circle cx="358.1" cy="300.7" r="1.65" fill="#9696d2" fill-opacity="0.4"/>
<circle cx="351.2" cy="303.9" r="1.65" fill="#9696d2" fill-opacity="0.4"/>
<circle cx="350.0" cy="323.6" r="1.65" fill="#9696d2" fill-opacity="0.4"/>
<circle cx="345.0" cy="310.0" r="1.65" fill="#9696d2" fill-opacity="0.4"/>
<circle cx="348.0" cy="305.0" r="1.65" fill="#9696d2" fill-opacity="0.4"/>
<line x1="262.10" y1="314.40" x2="450.80" y2="314.40" stroke="#000" stroke-width="1.0" stroke-dasharray="3.5,1.8" stroke-dashoffset="0" stroke-linecap="butt"/>
<line x1="281.70" y1="201.00" x2="281.70" y2="363.40" stroke="#6cc46c" stroke-width="1.2" stroke-dasharray="4.44,1.92" stroke-dashoffset="4.88" stroke-linecap="butt"/>
<path d="M278.40,252.60 L278.46,253.94 L278.53,255.70 L278.62,257.81 L278.72,260.15 L278.84,262.64 L278.95,265.17 L279.08,267.66 L279.20,270.00 L279.33,272.25 L279.47,274.53 L279.63,276.83 L279.78,279.14 L279.94,281.46 L280.10,283.78 L280.25,286.10 L280.40,288.40 L280.54,290.73 L280.68,293.12 L280.82,295.52 L280.95,297.91 L281.08,300.26 L281.22,302.53 L281.36,304.69 L281.50,306.70 L281.64,308.58 L281.77,310.36 L281.90,312.04 L282.03,313.64 L282.17,315.16 L282.33,316.60 L282.50,317.98 L282.70,319.30 L282.92,320.57 L283.15,321.79 L283.39,322.94 L283.66,324.02 L283.94,325.02 L284.24,325.92 L284.56,326.72 L284.90,327.40 L285.28,327.95 L285.70,328.37 L286.14,328.68 L286.60,328.89 L287.07,329.04 L287.53,329.12 L287.98,329.17 L288.40,329.20 L288.80,329.15 L289.19,328.97 L289.57,328.72 L289.95,328.42 L290.32,328.14 L290.68,327.92 L291.04,327.79 L291.40,327.80 L291.75,327.97 L292.11,328.27 L292.45,328.66 L292.79,329.11 L293.13,329.58 L293.46,330.05 L293.78,330.46 L294.10,330.80 L294.40,331.10 L294.68,331.43 L294.94,331.74 L295.20,332.03 L295.47,332.26 L295.75,332.42 L296.06,332.47 L296.40,332.40 L296.77,332.20 L297.16,331.90 L297.58,331.50 L298.01,331.03 L298.45,330.48 L298.92,329.86 L299.40,329.20 L299.90,328.50 L300.43,327.69 L301.00,326.74 L301.60,325.69 L302.21,324.60 L302.81,323.52 L303.41,322.51 L303.97,321.62 L304.50,320.90 L304.98,320.33 L305.43,319.85 L305.86,319.46 L306.27,319.16 L306.68,318.92 L307.08,318.76 L307.48,318.65 L307.90,318.60 L308.31,318.62 L308.69,318.72 L309.07,318.89 L309.45,319.12 L309.85,319.41 L310.28,319.74 L310.76,320.10 L311.30,320.50 L311.90,320.95 L312.56,321.49 L313.25,322.08 L313.98,322.71 L314.74,323.34 L315.52,323.97 L316.31,324.56 L317.10,325.10 L317.91,325.60 L318.75,326.10 L319.61,326.58 L320.49,327.04 L321.37,327.48 L322.26,327.87 L323.13,328.21 L324.00,328.50 L324.85,328.73 L325.70,328.92 L326.55,329.07 L327.40,329.17 L328.25,329.24 L329.10,329.26 L329.95,329.25 L330.80,329.20 L331.66,329.11 L332.52,328.99 L333.38,328.83 L334.24,328.63 L335.11,328.39 L335.97,328.11 L336.84,327.78 L337.70,327.40 L338.57,326.97 L339.46,326.49 L340.35,325.95 L341.24,325.38 L342.12,324.77 L342.98,324.14 L343.81,323.48 L344.60,322.80 L345.33,322.10 L346.01,321.38 L346.65,320.62 L347.27,319.84 L347.89,319.04 L348.54,318.21 L349.24,317.37 L350.00,316.50 L350.81,315.60 L351.65,314.67 L352.52,313.70 L353.43,312.72 L354.36,311.73 L355.33,310.74 L356.35,309.76 L357.40,308.80 L358.49,307.86 L359.62,306.93 L360.78,306.00 L361.99,305.07 L363.23,304.15 L364.51,303.24 L365.83,302.32 L367.20,301.40 L368.61,300.46 L370.06,299.50 L371.56,298.53 L373.09,297.57 L374.67,296.63 L376.28,295.73 L377.92,294.88 L379.60,294.10 L381.31,293.42 L383.05,292.85 L384.83,292.33 L386.64,291.86 L388.50,291.38 L390.39,290.86 L392.32,290.28 L394.30,289.60 L396.34,288.80 L398.44,287.92 L400.60,286.97 L402.79,285.99 L405.01,284.99 L407.22,284.01 L409.42,283.07 L411.60,282.20 L413.77,281.38 L415.98,280.58 L418.18,279.81 L420.39,279.06 L422.57,278.34 L424.71,277.63 L426.79,276.96 L428.80,276.30 L430.82,275.65 L432.91,274.99 L435.00,274.35 L437.02,273.73 L438.91,273.16 L440.60,272.66 L442.02,272.23 L443.10,271.90" fill="none" stroke="#4c1d95" stroke-width="2.0" stroke-linejoin="round" stroke-linecap="butt"/>
</g>
<text x="281.70" y="354.10" font-size="7.31" font-weight="normal" text-anchor="middle" fill="#6cc46c" textLength="15.36" lengthAdjust="spacingAndGlyphs">0.01</text>
<rect x="262.1" y="201.0" width="188.7" height="162.39999999999998" fill="none" stroke="#000" stroke-width="0.9"/>
<line x1="279.20" y1="363.40" x2="279.20" y2="366.90" stroke="#000" stroke-width="0.9" stroke-linecap="butt"/>
<text x="279.20" y="376.30" font-size="8.69" font-weight="normal" text-anchor="middle" fill="#000" textLength="13.04" lengthAdjust="spacingAndGlyphs">0.0</text>
<line x1="308.20" y1="363.40" x2="308.20" y2="366.90" stroke="#000" stroke-width="0.9" stroke-linecap="butt"/>
<text x="308.20" y="376.30" font-size="8.69" font-weight="normal" text-anchor="middle" fill="#000" textLength="13.04" lengthAdjust="spacingAndGlyphs">0.1</text>
<line x1="337.20" y1="363.40" x2="337.20" y2="366.90" stroke="#000" stroke-width="0.9" stroke-linecap="butt"/>
<text x="337.20" y="376.30" font-size="8.69" font-weight="normal" text-anchor="middle" fill="#000" textLength="13.04" lengthAdjust="spacingAndGlyphs">0.2</text>
<line x1="366.20" y1="363.40" x2="366.20" y2="366.90" stroke="#000" stroke-width="0.9" stroke-linecap="butt"/>
<text x="366.20" y="376.30" font-size="8.69" font-weight="normal" text-anchor="middle" fill="#000" textLength="13.04" lengthAdjust="spacingAndGlyphs">0.3</text>
<line x1="395.20" y1="363.40" x2="395.20" y2="366.90" stroke="#000" stroke-width="0.9" stroke-linecap="butt"/>
<text x="395.20" y="376.30" font-size="8.69" font-weight="normal" text-anchor="middle" fill="#000" textLength="13.04" lengthAdjust="spacingAndGlyphs">0.4</text>
<line x1="424.20" y1="363.40" x2="424.20" y2="366.90" stroke="#000" stroke-width="0.9" stroke-linecap="butt"/>
<text x="424.20" y="376.30" font-size="8.69" font-weight="normal" text-anchor="middle" fill="#000" textLength="13.04" lengthAdjust="spacingAndGlyphs">0.5</text>
<line x1="258.60" y1="343.00" x2="262.10" y2="343.00" stroke="#000" stroke-width="0.9" stroke-linecap="butt"/>
<text x="255.10" y="346.30" font-size="8.69" font-weight="normal" text-anchor="end" fill="#000" textLength="12.09" lengthAdjust="spacingAndGlyphs">−1</text>
<line x1="258.60" y1="314.60" x2="262.10" y2="314.60" stroke="#000" stroke-width="0.9" stroke-linecap="butt"/>
<text x="255.10" y="317.90" font-size="8.69" font-weight="normal" text-anchor="end" fill="#000" textLength="5.22" lengthAdjust="spacingAndGlyphs">0</text>
<line x1="258.60" y1="286.20" x2="262.10" y2="286.20" stroke="#000" stroke-width="0.9" stroke-linecap="butt"/>
<text x="255.10" y="289.50" font-size="8.69" font-weight="normal" text-anchor="end" fill="#000" textLength="5.22" lengthAdjust="spacingAndGlyphs">1</text>
<line x1="258.60" y1="257.80" x2="262.10" y2="257.80" stroke="#000" stroke-width="0.9" stroke-linecap="butt"/>
<text x="255.10" y="261.10" font-size="8.69" font-weight="normal" text-anchor="end" fill="#000" textLength="5.22" lengthAdjust="spacingAndGlyphs">2</text>
<line x1="258.60" y1="229.40" x2="262.10" y2="229.40" stroke="#000" stroke-width="0.9" stroke-linecap="butt"/>
<text x="255.10" y="232.70" font-size="8.69" font-weight="normal" text-anchor="end" fill="#000" textLength="5.22" lengthAdjust="spacingAndGlyphs">3</text>
<text x="356.45" y="388.90" font-size="9.71" font-weight="normal" text-anchor="middle" fill="#000" textLength="59.33" lengthAdjust="spacingAndGlyphs">Betweenness</text>
<text x="237.80" y="282.20" font-size="9.66" font-weight="normal" text-anchor="middle" fill="#000" textLength="127.44" lengthAdjust="spacingAndGlyphs" transform="rotate(-90 237.80 282.20)">SHAP value for Betweenness</text>
<text x="268.40" y="215.60" font-size="9.30" font-weight="bold" text-anchor="start" fill="#000" textLength="14.97" lengthAdjust="spacingAndGlyphs">(e)</text>
<clipPath id="cf"><rect x="492.5" y="201.0" width="189.10000000000002" height="162.39999999999998"/></clipPath>
<g clip-path="url(#cf)">
<rect x="501.1" y="201.0" width="16.899999999999977" height="162.39999999999998" fill="#e3e0ef"/>
<circle cx="510.8" cy="219.9" r="1.65" fill="#9696d2" fill-opacity="0.4"/>
<circle cx="508.4" cy="237.1" r="1.65" fill="#9696d2" fill-opacity="0.4"/>
<circle cx="508.6" cy="206.6" r="1.65" fill="#9696d2" fill-opacity="0.4"/>
<circle cx="509.1" cy="215.8" r="1.65" fill="#9696d2" fill-opacity="0.4"/>
<circle cx="510.9" cy="235.6" r="1.65" fill="#9696d2" fill-opacity="0.4"/>
<circle cx="509.4" cy="224.0" r="1.65" fill="#9696d2" fill-opacity="0.4"/>
<circle cx="510.6" cy="233.4" r="1.65" fill="#9696d2" fill-opacity="0.4"/>
<circle cx="510.1" cy="223.4" r="1.65" fill="#9696d2" fill-opacity="0.4"/>
<circle cx="508.6" cy="214.3" r="1.65" fill="#9696d2" fill-opacity="0.4"/>
<circle cx="510.1" cy="225.9" r="1.65" fill="#9696d2" fill-opacity="0.4"/>
<circle cx="510.5" cy="236.6" r="1.65" fill="#9696d2" fill-opacity="0.4"/>
<circle cx="510.9" cy="212.6" r="1.65" fill="#9696d2" fill-opacity="0.4"/>
<circle cx="508.5" cy="236.5" r="1.65" fill="#9696d2" fill-opacity="0.4"/>
<circle cx="509.8" cy="212.2" r="1.65" fill="#9696d2" fill-opacity="0.4"/>
<circle cx="510.2" cy="214.7" r="1.65" fill="#9696d2" fill-opacity="0.4"/>
<circle cx="508.9" cy="218.5" r="1.65" fill="#9696d2" fill-opacity="0.4"/>
<circle cx="509.7" cy="229.0" r="1.65" fill="#9696d2" fill-opacity="0.4"/>
<circle cx="508.5" cy="231.2" r="1.65" fill="#9696d2" fill-opacity="0.4"/>
<circle cx="510.0" cy="222.0" r="1.65" fill="#9696d2" fill-opacity="0.4"/>
<circle cx="510.1" cy="233.2" r="1.65" fill="#9696d2" fill-opacity="0.4"/>
<circle cx="508.3" cy="222.2" r="1.65" fill="#9696d2" fill-opacity="0.4"/>
<circle cx="510.1" cy="230.1" r="1.65" fill="#9696d2" fill-opacity="0.4"/>
<circle cx="510.0" cy="212.1" r="1.65" fill="#9696d2" fill-opacity="0.4"/>
<circle cx="510.9" cy="232.7" r="1.65" fill="#9696d2" fill-opacity="0.4"/>
<circle cx="508.9" cy="220.6" r="1.65" fill="#9696d2" fill-opacity="0.4"/>
<circle cx="510.9" cy="213.0" r="1.65" fill="#9696d2" fill-opacity="0.4"/>
<circle cx="509.4" cy="238.7" r="1.65" fill="#9696d2" fill-opacity="0.4"/>
<circle cx="510.7" cy="213.9" r="1.65" fill="#9696d2" fill-opacity="0.4"/>
<circle cx="510.3" cy="218.2" r="1.65" fill="#9696d2" fill-opacity="0.4"/>
<circle cx="510.1" cy="232.1" r="1.65" fill="#9696d2" fill-opacity="0.4"/>
<circle cx="508.6" cy="213.6" r="1.65" fill="#9696d2" fill-opacity="0.4"/>
<circle cx="508.9" cy="215.0" r="1.65" fill="#9696d2" fill-opacity="0.4"/>
<circle cx="508.4" cy="210.6" r="1.65" fill="#9696d2" fill-opacity="0.4"/>
<circle cx="509.4" cy="220.3" r="1.65" fill="#9696d2" fill-opacity="0.4"/>
<circle cx="508.5" cy="225.8" r="1.65" fill="#9696d2" fill-opacity="0.4"/>
<circle cx="510.8" cy="225.6" r="1.65" fill="#9696d2" fill-opacity="0.4"/>
<circle cx="509.3" cy="230.0" r="1.65" fill="#9696d2" fill-opacity="0.4"/>
<circle cx="509.5" cy="212.0" r="1.65" fill="#9696d2" fill-opacity="0.4"/>
<circle cx="510.2" cy="240.7" r="1.65" fill="#9696d2" fill-opacity="0.4"/>
<circle cx="510.8" cy="246.1" r="1.65" fill="#9696d2" fill-opacity="0.4"/>
<circle cx="509.9" cy="276.6" r="1.65" fill="#9696d2" fill-opacity="0.4"/>
<circle cx="511.1" cy="271.8" r="1.65" fill="#9696d2" fill-opacity="0.4"/>
<circle cx="510.7" cy="264.1" r="1.65" fill="#9696d2" fill-opacity="0.4"/>
<circle cx="510.9" cy="276.7" r="1.65" fill="#9696d2" fill-opacity="0.4"/>
<circle cx="509.4" cy="269.1" r="1.65" fill="#9696d2" fill-opacity="0.4"/>
<circle cx="509.7" cy="249.7" r="1.65" fill="#9696d2" fill-opacity="0.4"/>
<circle cx="511.3" cy="262.8" r="1.65" fill="#9696d2" fill-opacity="0.4"/>
<circle cx="511.3" cy="273.3" r="1.65" fill="#9696d2" fill-opacity="0.4"/>
<circle cx="510.6" cy="247.5" r="1.65" fill="#9696d2" fill-opacity="0.4"/>
<circle cx="508.8" cy="260.3" r="1.65" fill="#9696d2" fill-opacity="0.4"/>
<circle cx="511.0" cy="250.4" r="1.65" fill="#9696d2" fill-opacity="0.4"/>
<circle cx="509.0" cy="240.2" r="1.65" fill="#9696d2" fill-opacity="0.4"/>
<circle cx="509.3" cy="266.4" r="1.65" fill="#9696d2" fill-opacity="0.4"/>
<circle cx="508.8" cy="248.7" r="1.65" fill="#9696d2" fill-opacity="0.4"/>
<circle cx="509.6" cy="267.0" r="1.65" fill="#9696d2" fill-opacity="0.4"/>
<circle cx="511.8" cy="240.7" r="1.65" fill="#9696d2" fill-opacity="0.4"/>
<circle cx="509.1" cy="275.5" r="1.65" fill="#9696d2" fill-opacity="0.4"/>
<circle cx="511.7" cy="245.6" r="1.65" fill="#9696d2" fill-opacity="0.4"/>
<circle cx="511.3" cy="316.5" r="1.65" fill="#9696d2" fill-opacity="0.4"/>
<circle cx="511.2" cy="307.1" r="1.65" fill="#9696d2" fill-opacity="0.4"/>
<circle cx="512.4" cy="293.0" r="1.65" fill="#9696d2" fill-opacity="0.4"/>
<circle cx="509.4" cy="277.5" r="1.65" fill="#9696d2" fill-opacity="0.4"/>
<circle cx="510.1" cy="278.1" r="1.65" fill="#9696d2" fill-opacity="0.4"/>
<circle cx="513.4" cy="332.0" r="1.65" fill="#9696d2" fill-opacity="0.4"/>
<circle cx="510.8" cy="340.5" r="1.65" fill="#9696d2" fill-opacity="0.4"/>
<circle cx="514.1" cy="300.4" r="1.65" fill="#9696d2" fill-opacity="0.4"/>
<circle cx="512.4" cy="286.8" r="1.65" fill="#9696d2" fill-opacity="0.4"/>
<circle cx="515.5" cy="319.9" r="1.65" fill="#9696d2" fill-opacity="0.4"/>
<circle cx="509.4" cy="283.7" r="1.65" fill="#9696d2" fill-opacity="0.4"/>
<circle cx="513.8" cy="304.3" r="1.65" fill="#9696d2" fill-opacity="0.4"/>
<circle cx="514.0" cy="290.4" r="1.65" fill="#9696d2" fill-opacity="0.4"/>
<circle cx="514.6" cy="341.4" r="1.65" fill="#9696d2" fill-opacity="0.4"/>
<circle cx="509.7" cy="322.2" r="1.65" fill="#9696d2" fill-opacity="0.4"/>
<circle cx="510.3" cy="333.0" r="1.65" fill="#9696d2" fill-opacity="0.4"/>
<circle cx="514.6" cy="340.4" r="1.65" fill="#9696d2" fill-opacity="0.4"/>
<circle cx="510.6" cy="278.3" r="1.65" fill="#9696d2" fill-opacity="0.4"/>
<circle cx="513.6" cy="320.3" r="1.65" fill="#9696d2" fill-opacity="0.4"/>
<circle cx="510.0" cy="287.2" r="1.65" fill="#9696d2" fill-opacity="0.4"/>
<circle cx="513.1" cy="279.6" r="1.65" fill="#9696d2" fill-opacity="0.4"/>
<circle cx="513.4" cy="291.4" r="1.65" fill="#9696d2" fill-opacity="0.4"/>
<circle cx="510.8" cy="307.7" r="1.65" fill="#9696d2" fill-opacity="0.4"/>
<circle cx="512.7" cy="334.5" r="1.65" fill="#9696d2" fill-opacity="0.4"/>
<circle cx="509.2" cy="334.5" r="1.65" fill="#9696d2" fill-opacity="0.4"/>
<circle cx="510.5" cy="295.9" r="1.65" fill="#9696d2" fill-opacity="0.4"/>
<circle cx="513.5" cy="331.5" r="1.65" fill="#9696d2" fill-opacity="0.4"/>
<circle cx="513.3" cy="350.3" r="1.65" fill="#9696d2" fill-opacity="0.4"/>
<circle cx="510.4" cy="297.7" r="1.65" fill="#9696d2" fill-opacity="0.4"/>
<circle cx="513.6" cy="293.2" r="1.65" fill="#9696d2" fill-opacity="0.4"/>
<circle cx="510.1" cy="290.1" r="1.65" fill="#9696d2" fill-opacity="0.4"/>
<circle cx="514.4" cy="343.6" r="1.65" fill="#9696d2" fill-opacity="0.4"/>
<circle cx="514.0" cy="355.3" r="1.65" fill="#9696d2" fill-opacity="0.4"/>
<circle cx="514.6" cy="297.6" r="1.65" fill="#9696d2" fill-opacity="0.4"/>
<circle cx="511.2" cy="334.2" r="1.65" fill="#9696d2" fill-opacity="0.4"/>
<circle cx="509.4" cy="324.2" r="1.65" fill="#9696d2" fill-opacity="0.4"/>
<circle cx="509.6" cy="274.4" r="1.65" fill="#9696d2" fill-opacity="0.4"/>
<circle cx="512.6" cy="283.5" r="1.65" fill="#9696d2" fill-opacity="0.4"/>
<circle cx="515.5" cy="348.1" r="1.65" fill="#9696d2" fill-opacity="0.4"/>
<circle cx="512.2" cy="287.6" r="1.65" fill="#9696d2" fill-opacity="0.4"/>
<circle cx="509.8" cy="315.1" r="1.65" fill="#9696d2" fill-opacity="0.4"/>
<circle cx="512.6" cy="302.3" r="1.65" fill="#9696d2" fill-opacity="0.4"/>
<circle cx="514.0" cy="317.1" r="1.65" fill="#9696d2" fill-opacity="0.4"/>
<circle cx="514.4" cy="279.5" r="1.65" fill="#9696d2" fill-opacity="0.4"/>
<circle cx="509.5" cy="304.4" r="1.65" fill="#9696d2" fill-opacity="0.4"/>
<circle cx="510.9" cy="301.2" r="1.65" fill="#9696d2" fill-opacity="0.4"/>
<circle cx="511.5" cy="290.7" r="1.65" fill="#9696d2" fill-opacity="0.4"/>
<circle cx="511.3" cy="315.5" r="1.65" fill="#9696d2" fill-opacity="0.4"/>
<circle cx="511.4" cy="275.0" r="1.65" fill="#9696d2" fill-opacity="0.4"/>
<circle cx="510.9" cy="311.8" r="1.65" fill="#9696d2" fill-opacity="0.4"/>
<circle cx="515.1" cy="284.6" r="1.65" fill="#9696d2" fill-opacity="0.4"/>
<circle cx="511.5" cy="295.2" r="1.65" fill="#9696d2" fill-opacity="0.4"/>
<circle cx="509.9" cy="305.9" r="1.65" fill="#9696d2" fill-opacity="0.4"/>
<circle cx="511.9" cy="304.1" r="1.65" fill="#9696d2" fill-opacity="0.4"/>
<circle cx="515.3" cy="296.1" r="1.65" fill="#9696d2" fill-opacity="0.4"/>
<circle cx="513.2" cy="312.2" r="1.65" fill="#9696d2" fill-opacity="0.4"/>
<circle cx="511.1" cy="291.4" r="1.65" fill="#9696d2" fill-opacity="0.4"/>
<circle cx="514.3" cy="310.4" r="1.65" fill="#9696d2" fill-opacity="0.4"/>
<circle cx="512.2" cy="284.0" r="1.65" fill="#9696d2" fill-opacity="0.4"/>
<circle cx="513.3" cy="307.7" r="1.65" fill="#9696d2" fill-opacity="0.4"/>
<circle cx="515.2" cy="321.5" r="1.65" fill="#9696d2" fill-opacity="0.4"/>
<circle cx="513.2" cy="303.9" r="1.65" fill="#9696d2" fill-opacity="0.4"/>
<circle cx="512.1" cy="292.0" r="1.65" fill="#9696d2" fill-opacity="0.4"/>
<circle cx="512.5" cy="303.6" r="1.65" fill="#9696d2" fill-opacity="0.4"/>
<circle cx="513.0" cy="315.8" r="1.65" fill="#9696d2" fill-opacity="0.4"/>
<circle cx="512.5" cy="292.1" r="1.65" fill="#9696d2" fill-opacity="0.4"/>
<circle cx="513.2" cy="322.6" r="1.65" fill="#9696d2" fill-opacity="0.4"/>
<circle cx="510.8" cy="306.1" r="1.65" fill="#9696d2" fill-opacity="0.4"/>
<circle cx="512.8" cy="307.8" r="1.65" fill="#9696d2" fill-opacity="0.4"/>
<circle cx="512.7" cy="298.7" r="1.65" fill="#9696d2" fill-opacity="0.4"/>
<circle cx="511.9" cy="324.6" r="1.65" fill="#9696d2" fill-opacity="0.4"/>
<circle cx="514.5" cy="279.6" r="1.65" fill="#9696d2" fill-opacity="0.4"/>
<circle cx="508.3" cy="306.4" r="1.65" fill="#9696d2" fill-opacity="0.4"/>
<circle cx="511.0" cy="292.5" r="1.65" fill="#9696d2" fill-opacity="0.4"/>
<circle cx="509.7" cy="305.2" r="1.65" fill="#9696d2" fill-opacity="0.4"/>
<circle cx="520.9" cy="288.8" r="1.65" fill="#9696d2" fill-opacity="0.4"/>
<circle cx="516.5" cy="312.8" r="1.65" fill="#9696d2" fill-opacity="0.4"/>
<circle cx="515.9" cy="308.6" r="1.65" fill="#9696d2" fill-opacity="0.4"/>
<circle cx="517.7" cy="292.2" r="1.65" fill="#9696d2" fill-opacity="0.4"/>
<circle cx="517.0" cy="298.6" r="1.65" fill="#9696d2" fill-opacity="0.4"/>
<circle cx="522.9" cy="289.3" r="1.65" fill="#9696d2" fill-opacity="0.4"/>
<circle cx="521.8" cy="294.3" r="1.65" fill="#9696d2" fill-opacity="0.4"/>
<circle cx="516.4" cy="306.6" r="1.65" fill="#9696d2" fill-opacity="0.4"/>
<circle cx="517.7" cy="290.4" r="1.65" fill="#9696d2" fill-opacity="0.4"/>
<circle cx="518.3" cy="308.8" r="1.65" fill="#9696d2" fill-opacity="0.4"/>
<circle cx="521.9" cy="301.7" r="1.65" fill="#9696d2" fill-opacity="0.4"/>
<circle cx="515.1" cy="307.1" r="1.65" fill="#9696d2" fill-opacity="0.4"/>
<circle cx="519.9" cy="311.1" r="1.65" fill="#9696d2" fill-opacity="0.4"/>
<circle cx="522.6" cy="294.5" r="1.65" fill="#9696d2" fill-opacity="0.4"/>
<circle cx="521.8" cy="308.7" r="1.65" fill="#9696d2" fill-opacity="0.4"/>
<circle cx="517.1" cy="295.6" r="1.65" fill="#9696d2" fill-opacity="0.4"/>
<circle cx="518.0" cy="295.2" r="1.65" fill="#9696d2" fill-opacity="0.4"/>
<circle cx="518.0" cy="288.2" r="1.65" fill="#9696d2" fill-opacity="0.4"/>
<circle cx="516.8" cy="311.4" r="1.65" fill="#9696d2" fill-opacity="0.4"/>
<circle cx="518.3" cy="303.4" r="1.65" fill="#9696d2" fill-opacity="0.4"/>
<circle cx="522.1" cy="306.9" r="1.65" fill="#9696d2" fill-opacity="0.4"/>
<circle cx="517.0" cy="311.7" r="1.65" fill="#9696d2" fill-opacity="0.4"/>
<circle cx="521.4" cy="313.7" r="1.65" fill="#9696d2" fill-opacity="0.4"/>
<circle cx="520.8" cy="306.9" r="1.65" fill="#9696d2" fill-opacity="0.4"/>
<circle cx="521.5" cy="292.3" r="1.65" fill="#9696d2" fill-opacity="0.4"/>
<circle cx="520.2" cy="296.0" r="1.65" fill="#9696d2" fill-opacity="0.4"/>
<circle cx="521.7" cy="288.9" r="1.65" fill="#9696d2" fill-opacity="0.4"/>
<circle cx="519.3" cy="294.8" r="1.65" fill="#9696d2" fill-opacity="0.4"/>
<circle cx="521.6" cy="295.0" r="1.65" fill="#9696d2" fill-opacity="0.4"/>
<circle cx="521.8" cy="309.6" r="1.65" fill="#9696d2" fill-opacity="0.4"/>
<circle cx="542.5" cy="322.6" r="1.65" fill="#9696d2" fill-opacity="0.4"/>
<circle cx="543.7" cy="346.8" r="1.65" fill="#9696d2" fill-opacity="0.4"/>
<circle cx="538.2" cy="343.1" r="1.65" fill="#9696d2" fill-opacity="0.4"/>
<circle cx="525.0" cy="351.8" r="1.65" fill="#9696d2" fill-opacity="0.4"/>
<circle cx="535.5" cy="335.2" r="1.65" fill="#9696d2" fill-opacity="0.4"/>
<circle cx="531.1" cy="348.3" r="1.65" fill="#9696d2" fill-opacity="0.4"/>
<circle cx="540.4" cy="351.8" r="1.65" fill="#9696d2" fill-opacity="0.4"/>
<circle cx="528.5" cy="330.6" r="1.65" fill="#9696d2" fill-opacity="0.4"/>
<circle cx="529.2" cy="321.0" r="1.65" fill="#9696d2" fill-opacity="0.4"/>
<circle cx="530.9" cy="318.0" r="1.65" fill="#9696d2" fill-opacity="0.4"/>
<circle cx="540.7" cy="326.1" r="1.65" fill="#9696d2" fill-opacity="0.4"/>
<circle cx="525.5" cy="319.7" r="1.65" fill="#9696d2" fill-opacity="0.4"/>
<circle cx="539.6" cy="324.9" r="1.65" fill="#9696d2" fill-opacity="0.4"/>
<circle cx="533.7" cy="333.1" r="1.65" fill="#9696d2" fill-opacity="0.4"/>
<circle cx="540.9" cy="355.2" r="1.65" fill="#9696d2" fill-opacity="0.4"/>
<circle cx="530.5" cy="342.3" r="1.65" fill="#9696d2" fill-opacity="0.4"/>
<circle cx="542.8" cy="335.8" r="1.65" fill="#9696d2" fill-opacity="0.4"/>
<circle cx="542.9" cy="346.3" r="1.65" fill="#9696d2" fill-opacity="0.4"/>
<circle cx="530.5" cy="352.0" r="1.65" fill="#9696d2" fill-opacity="0.4"/>
<circle cx="536.0" cy="321.2" r="1.65" fill="#9696d2" fill-opacity="0.4"/>
<circle cx="536.3" cy="350.2" r="1.65" fill="#9696d2" fill-opacity="0.4"/>
<circle cx="534.9" cy="336.4" r="1.65" fill="#9696d2" fill-opacity="0.4"/>
<circle cx="532.7" cy="352.2" r="1.65" fill="#9696d2" fill-opacity="0.4"/>
<circle cx="538.0" cy="325.3" r="1.65" fill="#9696d2" fill-opacity="0.4"/>
<circle cx="531.6" cy="331.5" r="1.65" fill="#9696d2" fill-opacity="0.4"/>
<circle cx="544.1" cy="344.8" r="1.65" fill="#9696d2" fill-opacity="0.4"/>
<circle cx="526.6" cy="353.6" r="1.65" fill="#9696d2" fill-opacity="0.4"/>
<circle cx="524.7" cy="340.6" r="1.65" fill="#9696d2" fill-opacity="0.4"/>
<circle cx="533.1" cy="345.7" r="1.65" fill="#9696d2" fill-opacity="0.4"/>
<circle cx="533.0" cy="320.7" r="1.65" fill="#9696d2" fill-opacity="0.4"/>
<circle cx="535.0" cy="349.8" r="1.65" fill="#9696d2" fill-opacity="0.4"/>
<circle cx="540.6" cy="331.3" r="1.65" fill="#9696d2" fill-opacity="0.4"/>
<circle cx="528.7" cy="346.8" r="1.65" fill="#9696d2" fill-opacity="0.4"/>
<circle cx="540.8" cy="325.8" r="1.65" fill="#9696d2" fill-opacity="0.4"/>
<circle cx="542.5" cy="356.7" r="1.65" fill="#9696d2" fill-opacity="0.4"/>
<circle cx="533.1" cy="332.2" r="1.65" fill="#9696d2" fill-opacity="0.4"/>
<circle cx="538.9" cy="354.2" r="1.65" fill="#9696d2" fill-opacity="0.4"/>
<circle cx="528.2" cy="329.1" r="1.65" fill="#9696d2" fill-opacity="0.4"/>
<circle cx="530.9" cy="346.3" r="1.65" fill="#9696d2" fill-opacity="0.4"/>
<circle cx="527.9" cy="338.9" r="1.65" fill="#9696d2" fill-opacity="0.4"/>
<circle cx="534.5" cy="343.7" r="1.65" fill="#9696d2" fill-opacity="0.4"/>
<circle cx="527.0" cy="355.3" r="1.65" fill="#9696d2" fill-opacity="0.4"/>
<circle cx="545.0" cy="339.4" r="1.65" fill="#9696d2" fill-opacity="0.4"/>
<circle cx="540.7" cy="324.3" r="1.65" fill="#9696d2" fill-opacity="0.4"/>
<circle cx="543.1" cy="339.1" r="1.65" fill="#9696d2" fill-opacity="0.4"/>
<circle cx="540.0" cy="351.7" r="1.65" fill="#9696d2" fill-opacity="0.4"/>
<circle cx="531.6" cy="354.0" r="1.65" fill="#9696d2" fill-opacity="0.4"/>
<circle cx="528.4" cy="317.9" r="1.65" fill="#9696d2" fill-opacity="0.4"/>
<circle cx="534.6" cy="352.9" r="1.65" fill="#9696d2" fill-opacity="0.4"/>
<circle cx="542.9" cy="355.2" r="1.65" fill="#9696d2" fill-opacity="0.4"/>
<circle cx="534.7" cy="354.3" r="1.65" fill="#9696d2" fill-opacity="0.4"/>
<circle cx="535.8" cy="322.7" r="1.65" fill="#9696d2" fill-opacity="0.4"/>
<circle cx="537.3" cy="349.1" r="1.65" fill="#9696d2" fill-opacity="0.4"/>
<circle cx="532.9" cy="341.1" r="1.65" fill="#9696d2" fill-opacity="0.4"/>
<circle cx="529.4" cy="328.0" r="1.65" fill="#9696d2" fill-opacity="0.4"/>
<circle cx="532.8" cy="337.5" r="1.65" fill="#9696d2" fill-opacity="0.4"/>
<circle cx="533.8" cy="320.7" r="1.65" fill="#9696d2" fill-opacity="0.4"/>
<circle cx="524.1" cy="330.6" r="1.65" fill="#9696d2" fill-opacity="0.4"/>
<circle cx="539.1" cy="346.9" r="1.65" fill="#9696d2" fill-opacity="0.4"/>
<circle cx="529.0" cy="327.2" r="1.65" fill="#9696d2" fill-opacity="0.4"/>
<circle cx="534.9" cy="324.0" r="1.65" fill="#9696d2" fill-opacity="0.4"/>
<circle cx="536.7" cy="353.2" r="1.65" fill="#9696d2" fill-opacity="0.4"/>
<circle cx="528.2" cy="340.4" r="1.65" fill="#9696d2" fill-opacity="0.4"/>
<circle cx="539.1" cy="347.0" r="1.65" fill="#9696d2" fill-opacity="0.4"/>
<circle cx="539.0" cy="345.4" r="1.65" fill="#9696d2" fill-opacity="0.4"/>
<circle cx="529.7" cy="350.5" r="1.65" fill="#9696d2" fill-opacity="0.4"/>
<circle cx="543.4" cy="319.1" r="1.65" fill="#9696d2" fill-opacity="0.4"/>
<circle cx="543.8" cy="334.7" r="1.65" fill="#9696d2" fill-opacity="0.4"/>
<circle cx="525.8" cy="319.8" r="1.65" fill="#9696d2" fill-opacity="0.4"/>
<circle cx="540.7" cy="344.1" r="1.65" fill="#9696d2" fill-opacity="0.4"/>
<circle cx="542.8" cy="327.7" r="1.65" fill="#9696d2" fill-opacity="0.4"/>
<circle cx="552.8" cy="344.9" r="1.65" fill="#9696d2" fill-opacity="0.4"/>
<circle cx="546.7" cy="337.5" r="1.65" fill="#9696d2" fill-opacity="0.4"/>
<circle cx="544.9" cy="319.4" r="1.65" fill="#9696d2" fill-opacity="0.4"/>
<circle cx="543.2" cy="326.1" r="1.65" fill="#9696d2" fill-opacity="0.4"/>
<circle cx="552.4" cy="322.7" r="1.65" fill="#9696d2" fill-opacity="0.4"/>
<circle cx="543.2" cy="320.0" r="1.65" fill="#9696d2" fill-opacity="0.4"/>
<circle cx="541.7" cy="319.2" r="1.65" fill="#9696d2" fill-opacity="0.4"/>
<circle cx="546.3" cy="329.1" r="1.65" fill="#9696d2" fill-opacity="0.4"/>
<circle cx="543.7" cy="328.4" r="1.65" fill="#9696d2" fill-opacity="0.4"/>
<circle cx="548.8" cy="344.1" r="1.65" fill="#9696d2" fill-opacity="0.4"/>
<circle cx="549.7" cy="343.2" r="1.65" fill="#9696d2" fill-opacity="0.4"/>
<circle cx="549.4" cy="319.3" r="1.65" fill="#9696d2" fill-opacity="0.4"/>
<circle cx="551.8" cy="317.6" r="1.65" fill="#9696d2" fill-opacity="0.4"/>
<circle cx="543.4" cy="315.3" r="1.65" fill="#9696d2" fill-opacity="0.4"/>
<circle cx="554.0" cy="343.9" r="1.65" fill="#9696d2" fill-opacity="0.4"/>
<circle cx="548.1" cy="324.3" r="1.65" fill="#9696d2" fill-opacity="0.4"/>
<circle cx="548.5" cy="324.3" r="1.65" fill="#9696d2" fill-opacity="0.4"/>
<circle cx="553.8" cy="325.5" r="1.65" fill="#9696d2" fill-opacity="0.4"/>
<circle cx="543.0" cy="340.7" r="1.65" fill="#9696d2" fill-opacity="0.4"/>
<circle cx="551.5" cy="313.2" r="1.65" fill="#9696d2" fill-opacity="0.4"/>
<circle cx="557.0" cy="336.3" r="1.65" fill="#9696d2" fill-opacity="0.4"/>
<circle cx="547.1" cy="333.2" r="1.65" fill="#9696d2" fill-opacity="0.4"/>
<circle cx="558.4" cy="325.9" r="1.65" fill="#9696d2" fill-opacity="0.4"/>
<circle cx="548.7" cy="322.5" r="1.65" fill="#9696d2" fill-opacity="0.4"/>
<circle cx="573.3" cy="332.9" r="1.65" fill="#9696d2" fill-opacity="0.4"/>
<circle cx="577.6" cy="340.6" r="1.65" fill="#9696d2" fill-opacity="0.4"/>
<circle cx="563.5" cy="324.9" r="1.65" fill="#9696d2" fill-opacity="0.4"/>
<circle cx="580.4" cy="336.4" r="1.65" fill="#9696d2" fill-opacity="0.4"/>
<circle cx="574.2" cy="333.3" r="1.65" fill="#9696d2" fill-opacity="0.4"/>
<circle cx="568.2" cy="340.5" r="1.65" fill="#9696d2" fill-opacity="0.4"/>
<circle cx="573.2" cy="325.9" r="1.65" fill="#9696d2" fill-opacity="0.4"/>
<circle cx="564.4" cy="318.1" r="1.65" fill="#9696d2" fill-opacity="0.4"/>
<circle cx="581.5" cy="336.6" r="1.65" fill="#9696d2" fill-opacity="0.4"/>
<circle cx="560.6" cy="323.7" r="1.65" fill="#9696d2" fill-opacity="0.4"/>
<circle cx="571.5" cy="328.4" r="1.65" fill="#9696d2" fill-opacity="0.4"/>
<circle cx="568.7" cy="339.2" r="1.65" fill="#9696d2" fill-opacity="0.4"/>
<circle cx="568.4" cy="329.4" r="1.65" fill="#9696d2" fill-opacity="0.4"/>
<circle cx="582.3" cy="332.3" r="1.65" fill="#9696d2" fill-opacity="0.4"/>
<circle cx="571.4" cy="324.0" r="1.65" fill="#9696d2" fill-opacity="0.4"/>
<circle cx="589.4" cy="320.9" r="1.65" fill="#9696d2" fill-opacity="0.4"/>
<circle cx="587.8" cy="331.1" r="1.65" fill="#9696d2" fill-opacity="0.4"/>
<circle cx="590.4" cy="323.4" r="1.65" fill="#9696d2" fill-opacity="0.4"/>
<circle cx="587.9" cy="335.4" r="1.65" fill="#9696d2" fill-opacity="0.4"/>
<circle cx="586.5" cy="327.4" r="1.65" fill="#9696d2" fill-opacity="0.4"/>
<circle cx="588.1" cy="331.4" r="1.65" fill="#9696d2" fill-opacity="0.4"/>
<circle cx="586.4" cy="330.2" r="1.65" fill="#9696d2" fill-opacity="0.4"/>
<circle cx="588.1" cy="319.5" r="1.65" fill="#9696d2" fill-opacity="0.4"/>
<circle cx="599.3" cy="320.1" r="1.65" fill="#9696d2" fill-opacity="0.4"/>
<circle cx="599.9" cy="328.2" r="1.65" fill="#9696d2" fill-opacity="0.4"/>
<circle cx="608.4" cy="290.9" r="1.65" fill="#9696d2" fill-opacity="0.4"/>
<circle cx="612.5" cy="292.4" r="1.65" fill="#9696d2" fill-opacity="0.4"/>
<circle cx="616.3" cy="301.8" r="1.65" fill="#9696d2" fill-opacity="0.4"/>
<circle cx="609.9" cy="306.1" r="1.65" fill="#9696d2" fill-opacity="0.4"/>
<circle cx="626.9" cy="301.8" r="1.65" fill="#9696d2" fill-opacity="0.4"/>
<circle cx="630.2" cy="305.6" r="1.65" fill="#9696d2" fill-opacity="0.4"/>
<circle cx="650.0" cy="289.9" r="1.65" fill="#9696d2" fill-opacity="0.4"/>
<circle cx="648.5" cy="295.4" r="1.65" fill="#9696d2" fill-opacity="0.4"/>
<circle cx="656.8" cy="295.4" r="1.65" fill="#9696d2" fill-opacity="0.4"/>
<circle cx="669.3" cy="299.5" r="1.65" fill="#9696d2" fill-opacity="0.4"/>
<circle cx="673.1" cy="296.2" r="1.65" fill="#9696d2" fill-opacity="0.4"/>
<circle cx="625.7" cy="311.2" r="1.65" fill="#9696d2" fill-opacity="0.4"/>
<circle cx="605.4" cy="325.1" r="1.65" fill="#9696d2" fill-opacity="0.4"/>
<line x1="492.50" y1="313.40" x2="681.60" y2="313.40" stroke="#000" stroke-width="1.0" stroke-dasharray="3.5,1.8" stroke-dashoffset="0" stroke-linecap="butt"/>
<line x1="518.00" y1="201.00" x2="518.00" y2="363.40" stroke="#6cc46c" stroke-width="1.2" stroke-dasharray="4.44,1.92" stroke-dashoffset="4.88" stroke-linecap="butt"/>
<path d="M509.00,240.00 L509.14,242.39 L509.33,245.66 L509.56,249.57 L509.81,253.86 L510.08,258.29 L510.34,262.62 L510.58,266.60 L510.80,270.00 L510.99,272.85 L511.17,275.40 L511.35,277.72 L511.51,279.88 L511.68,281.94 L511.85,283.99 L512.02,286.09 L512.20,288.30 L512.39,290.63 L512.60,293.03 L512.81,295.45 L513.02,297.86 L513.23,300.22 L513.43,302.51 L513.62,304.68 L513.80,306.70 L513.96,308.58 L514.09,310.37 L514.21,312.05 L514.33,313.65 L514.45,315.17 L514.58,316.61 L514.73,317.98 L514.90,319.30 L515.09,320.59 L515.30,321.86 L515.52,323.09 L515.75,324.23 L515.99,325.26 L516.25,326.13 L516.52,326.82 L516.80,327.30 L517.10,327.51 L517.42,327.47 L517.76,327.22 L518.11,326.84 L518.47,326.37 L518.82,325.87 L519.17,325.39 L519.50,325.00 L519.82,324.64 L520.15,324.24 L520.47,323.81 L520.79,323.38 L521.10,322.97 L521.41,322.58 L521.71,322.26 L522.00,322.00 L522.28,321.81 L522.55,321.65 L522.81,321.54 L523.06,321.47 L523.32,321.44 L523.57,321.45 L523.83,321.50 L524.10,321.60 L524.37,321.73 L524.64,321.88 L524.90,322.06 L525.17,322.29 L525.45,322.58 L525.74,322.94 L526.06,323.37 L526.40,323.90 L526.76,324.55 L527.12,325.33 L527.49,326.20 L527.88,327.14 L528.30,328.10 L528.76,329.05 L529.25,329.96 L529.80,330.80 L530.41,331.61 L531.08,332.46 L531.80,333.31 L532.56,334.13 L533.33,334.88 L534.10,335.55 L534.86,336.10 L535.60,336.50 L536.31,336.73 L537.00,336.81 L537.69,336.77 L538.38,336.64 L539.08,336.45 L539.79,336.22 L540.53,336.00 L541.30,335.80 L542.10,335.59 L542.91,335.31 L543.75,334.99 L544.61,334.66 L545.48,334.34 L546.37,334.06 L547.28,333.84 L548.20,333.70 L549.18,333.65 L550.22,333.68 L551.30,333.77 L552.39,333.89 L553.46,334.03 L554.47,334.17 L555.39,334.30 L556.20,334.40 L556.84,334.48 L557.31,334.57 L557.69,334.65 L558.01,334.74 L558.35,334.81 L558.75,334.86 L559.29,334.90 L560.00,334.90 L560.92,334.88 L561.99,334.83 L563.18,334.77 L564.44,334.69 L565.74,334.59 L567.02,334.47 L568.26,334.34 L569.40,334.20 L570.47,334.04 L571.52,333.87 L572.55,333.68 L573.55,333.47 L574.53,333.25 L575.48,333.01 L576.40,332.76 L577.30,332.50 L578.14,332.23 L578.93,331.95 L579.67,331.66 L580.40,331.35 L581.13,331.02 L581.87,330.68 L582.66,330.30 L583.50,329.90 L584.40,329.46 L585.32,328.99 L586.27,328.50 L587.25,327.98 L588.25,327.45 L589.28,326.90 L590.33,326.35 L591.40,325.80 L592.50,325.24 L593.64,324.67 L594.82,324.08 L596.01,323.49 L597.21,322.89 L598.41,322.29 L599.61,321.69 L600.80,321.10 L601.97,320.50 L603.15,319.90 L604.32,319.28 L605.50,318.68 L606.67,318.07 L607.85,317.49 L609.02,316.93 L610.20,316.40 L611.40,315.90 L612.64,315.41 L613.90,314.95 L615.15,314.51 L616.37,314.08 L617.53,313.67 L618.62,313.28 L619.60,312.90 L620.42,312.57 L621.07,312.30 L621.62,312.06 L622.13,311.82 L622.66,311.58 L623.27,311.29 L624.03,310.94 L625.00,310.50 L626.19,309.96 L627.55,309.34 L629.05,308.66 L630.63,307.94 L632.27,307.19 L633.92,306.44 L635.54,305.70 L637.10,305.00 L638.61,304.32 L640.13,303.64 L641.64,302.97 L643.16,302.29 L644.67,301.62 L646.18,300.95 L647.69,300.27 L649.20,299.60 L650.70,298.93 L652.20,298.25 L653.70,297.58 L655.20,296.91 L656.70,296.23 L658.20,295.56 L659.70,294.88 L661.20,294.20 L662.79,293.48 L664.50,292.70 L666.26,291.90 L668.00,291.11 L669.64,290.36 L671.12,289.69 L672.37,289.12 L673.30,288.70" fill="none" stroke="#4c1d95" stroke-width="2.0" stroke-linejoin="round" stroke-linecap="butt"/>
</g>
<text x="518.00" y="354.10" font-size="7.31" font-weight="normal" text-anchor="middle" fill="#6cc46c" textLength="15.36" lengthAdjust="spacingAndGlyphs">0.01</text>
<rect x="492.5" y="201.0" width="189.10000000000002" height="162.39999999999998" fill="none" stroke="#000" stroke-width="0.9"/>
<line x1="509.40" y1="363.40" x2="509.40" y2="366.90" stroke="#000" stroke-width="0.9" stroke-linecap="butt"/>
<text x="509.40" y="376.30" font-size="8.69" font-weight="normal" text-anchor="middle" fill="#000" textLength="18.26" lengthAdjust="spacingAndGlyphs">0.00</text>
<line x1="551.20" y1="363.40" x2="551.20" y2="366.90" stroke="#000" stroke-width="0.9" stroke-linecap="butt"/>
<text x="551.20" y="376.30" font-size="8.69" font-weight="normal" text-anchor="middle" fill="#000" textLength="18.26" lengthAdjust="spacingAndGlyphs">0.05</text>
<line x1="593.00" y1="363.40" x2="593.00" y2="366.90" stroke="#000" stroke-width="0.9" stroke-linecap="butt"/>
<text x="593.00" y="376.30" font-size="8.69" font-weight="normal" text-anchor="middle" fill="#000" textLength="18.26" lengthAdjust="spacingAndGlyphs">0.10</text>
<line x1="634.80" y1="363.40" x2="634.80" y2="366.90" stroke="#000" stroke-width="0.9" stroke-linecap="butt"/>
<text x="634.80" y="376.30" font-size="8.69" font-weight="normal" text-anchor="middle" fill="#000" textLength="18.26" lengthAdjust="spacingAndGlyphs">0.15</text>
<line x1="676.60" y1="363.40" x2="676.60" y2="366.90" stroke="#000" stroke-width="0.9" stroke-linecap="butt"/>
<text x="676.60" y="376.30" font-size="8.69" font-weight="normal" text-anchor="middle" fill="#000" textLength="18.26" lengthAdjust="spacingAndGlyphs">0.20</text>
<line x1="489.00" y1="349.10" x2="492.50" y2="349.10" stroke="#000" stroke-width="0.9" stroke-linecap="butt"/>
<text x="485.50" y="352.40" font-size="8.69" font-weight="normal" text-anchor="end" fill="#000" textLength="12.09" lengthAdjust="spacingAndGlyphs">−1</text>
<line x1="489.00" y1="313.80" x2="492.50" y2="313.80" stroke="#000" stroke-width="0.9" stroke-linecap="butt"/>
<text x="485.50" y="317.10" font-size="8.69" font-weight="normal" text-anchor="end" fill="#000" textLength="5.22" lengthAdjust="spacingAndGlyphs">0</text>
<line x1="489.00" y1="278.50" x2="492.50" y2="278.50" stroke="#000" stroke-width="0.9" stroke-linecap="butt"/>
<text x="485.50" y="281.80" font-size="8.69" font-weight="normal" text-anchor="end" fill="#000" textLength="5.22" lengthAdjust="spacingAndGlyphs">1</text>
<line x1="489.00" y1="243.20" x2="492.50" y2="243.20" stroke="#000" stroke-width="0.9" stroke-linecap="butt"/>
<text x="485.50" y="246.50" font-size="8.69" font-weight="normal" text-anchor="end" fill="#000" textLength="5.22" lengthAdjust="spacingAndGlyphs">2</text>
<line x1="489.00" y1="207.90" x2="492.50" y2="207.90" stroke="#000" stroke-width="0.9" stroke-linecap="butt"/>
<text x="485.50" y="211.20" font-size="8.69" font-weight="normal" text-anchor="end" fill="#000" textLength="5.22" lengthAdjust="spacingAndGlyphs">3</text>
<text x="587.05" y="388.90" font-size="9.71" font-weight="normal" text-anchor="middle" fill="#000" textLength="42.11" lengthAdjust="spacingAndGlyphs">Dist_road</text>
<text x="468.20" y="282.20" font-size="9.66" font-weight="normal" text-anchor="middle" fill="#000" textLength="110.32" lengthAdjust="spacingAndGlyphs" transform="rotate(-90 468.20 282.20)">SHAP value for Dist_road</text>
<text x="498.80" y="215.60" font-size="9.30" font-weight="bold" text-anchor="start" fill="#000" textLength="12.68" lengthAdjust="spacingAndGlyphs">(f)</text>
<circle cx="172.7" cy="411.5" r="1.65" fill="#9696d2" fill-opacity="0.4"/>
<text x="186.50" y="414.30" font-size="8.48" font-weight="normal" text-anchor="start" fill="#000" textLength="49.95" lengthAdjust="spacingAndGlyphs">SHAP values</text>
<line x1="251.10" y1="410.90" x2="268.50" y2="410.90" stroke="#4c1d95" stroke-width="2.0" stroke-linecap="butt"/>
<text x="273.90" y="414.30" font-size="8.48" font-weight="normal" text-anchor="start" fill="#000" textLength="58.83" lengthAdjust="spacingAndGlyphs">LOWESS curve</text>
<line x1="346.90" y1="411.10" x2="363.30" y2="411.10" stroke="#000" stroke-width="1.0" stroke-dasharray="3.5,1.8" stroke-dashoffset="0" stroke-linecap="butt"/>
<text x="369.40" y="414.40" font-size="8.48" font-weight="normal" text-anchor="start" fill="#000" textLength="38.27" lengthAdjust="spacingAndGlyphs">SHAP = 0</text>
<line x1="422.20" y1="411.20" x2="438.30" y2="411.20" stroke="#6cc46c" stroke-width="1.2" stroke-dasharray="4.44,1.92" stroke-dashoffset="0" stroke-linecap="butt"/>
<text x="444.30" y="414.30" font-size="8.48" font-weight="normal" text-anchor="start" fill="#000" textLength="78.53" lengthAdjust="spacingAndGlyphs">Intersection at 0.17</text>
</svg>
</body></html>
